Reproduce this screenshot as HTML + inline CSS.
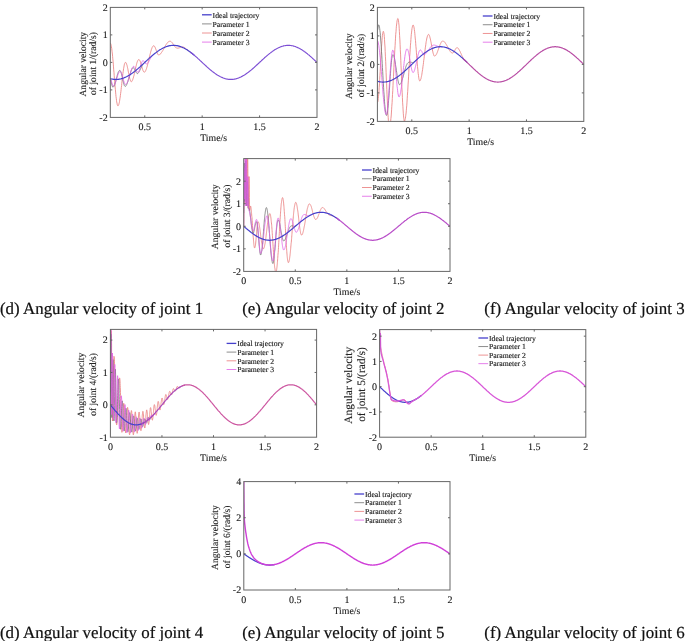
<!DOCTYPE html>
<html><head><meta charset="utf-8"><style>
html,body{margin:0;padding:0;background:#fff;width:685px;height:641px;overflow:hidden;}
svg{display:block;font-family:'Liberation Serif', serif;filter:blur(0.35px);text-rendering:geometricPrecision;}
</style></head><body>
<svg width="685" height="641" viewBox="0 0 685 641">
<clipPath id="c0"><rect x="110.3" y="7.4" width="206.70" height="110.00"/></clipPath>
<g clip-path="url(#c0)" fill="none" stroke-linejoin="round" stroke-linecap="round">
<polyline points="110.3,43.2 110.5,43.4 110.8,43.8 111.0,44.6 111.2,45.5 111.4,46.8 111.7,48.3 111.9,50.0 112.1,51.9 112.4,54.0 112.6,56.3 112.8,58.8 113.1,61.4 113.3,64.1 113.5,66.9 113.7,69.8 114.0,72.7 114.2,75.6 114.4,78.5 114.7,81.4 114.9,84.2 115.1,87.0 115.4,89.6 115.6,92.1 115.8,94.4 116.0,96.6 116.3,98.6 116.5,100.4 116.7,101.9 117.0,103.2 117.2,104.3 117.4,105.1 117.6,105.6 117.9,105.8 118.1,105.8 118.3,105.6 118.6,105.2 118.8,104.5 119.0,103.7 119.3,102.7 119.5,101.6 119.7,100.2 119.9,98.8 120.2,97.1 120.4,95.4 120.6,93.6 120.9,91.6 121.1,89.6 121.3,87.6 121.6,85.5 121.8,83.4 122.0,81.3 122.2,79.3 122.5,77.2 122.7,75.3 122.9,73.4 123.2,71.6 123.4,70.0 123.6,68.5 123.9,67.1 124.1,65.9 124.3,64.8 124.5,64.0 124.8,63.3 125.0,62.8 125.2,62.5 125.5,62.4 125.7,62.4 125.9,62.6 126.1,63.0 126.4,63.4 126.6,64.1 126.8,64.8 127.1,65.6 127.3,66.6 127.5,67.6 127.8,68.7 128.0,69.8 128.2,71.0 128.4,72.2 128.7,73.4 128.9,74.6 129.1,75.7 129.4,76.8 129.6,77.8 129.8,78.7 130.1,79.5 130.3,80.2 130.5,80.8 130.7,81.3 131.0,81.6 131.2,81.7 131.4,81.7 131.7,81.6 131.9,81.3 132.1,81.0 132.3,80.5 132.6,80.0 132.8,79.4 133.0,78.7 133.3,78.0 133.5,77.2 133.7,76.3 134.0,75.4 134.2,74.4 134.4,73.4 134.6,72.4 134.9,71.3 135.1,70.3 135.3,69.2 135.6,68.2 135.8,67.2 136.0,66.2 136.3,65.3 136.5,64.4 136.7,63.6 136.9,62.8 137.2,62.1 137.4,61.4 137.6,60.9 137.9,60.4 138.1,60.1 138.3,59.8 138.5,59.6 138.8,59.5 139.0,59.5 139.2,59.7 139.5,59.9 139.7,60.3 139.9,60.7 140.2,61.2 140.4,61.9 140.6,62.5 140.8,63.3 141.1,64.0 141.3,64.9 141.5,65.7 141.8,66.5 142.0,67.3 142.2,68.1 142.5,68.9 142.7,69.6 142.9,70.2 143.1,70.8 143.4,71.3 143.6,71.7 143.8,72.0 144.1,72.1 144.3,72.2 144.5,72.2 144.8,72.0 145.0,71.8 145.2,71.5 145.4,71.1 145.7,70.6 145.9,70.1 146.1,69.6 146.4,68.9 146.6,68.3 146.8,67.5 147.0,66.8 147.3,65.9 147.5,65.1 147.7,64.2 148.0,63.2 148.2,62.3 148.4,61.3 148.7,60.3 148.9,59.4 149.1,58.4 149.3,57.4 149.6,56.4 149.8,55.4 150.0,54.5 150.3,53.6 150.5,52.7 150.7,51.8 151.0,51.0 151.2,50.2 151.4,49.5 151.6,48.9 151.9,48.2 152.1,47.7 152.3,47.2 152.6,46.8 152.8,46.4 153.0,46.1 153.2,45.9 153.5,45.8 153.7,45.7 153.9,45.8 154.2,45.9 154.4,46.2 154.6,46.5 154.9,46.9 155.1,47.3 155.3,47.9 155.5,48.4 155.8,49.0 156.0,49.7 156.2,50.3 156.5,50.9 156.7,51.6 156.9,52.2 157.2,52.8 157.4,53.3 157.6,53.8 157.8,54.2 158.1,54.6 158.3,54.8 158.5,55.0 158.8,55.1 159.0,55.1 159.2,55.0 159.4,54.8 159.7,54.6 159.9,54.4 160.1,54.2 160.4,54.0 160.6,53.7 160.8,53.4 161.1,53.2 161.3,52.8 161.5,52.5 161.7,52.2 162.0,51.8 162.2,51.5 162.4,51.1 162.7,50.7 162.9,50.3 163.1,49.9 163.4,49.5 163.6,49.1 163.8,48.6 164.0,48.2 164.3,47.8 164.5,47.4 164.7,47.0 165.0,46.6 165.2,46.2 165.4,45.8 165.6,45.4 165.9,45.0 166.1,44.6 166.3,44.3 166.6,43.9 166.8,43.6 167.0,43.3 167.3,43.0 167.5,42.7 167.7,42.5 167.9,42.2 168.2,42.0 168.4,41.8 168.6,41.7 168.9,41.5 169.1,41.4 169.3,41.3 169.6,41.3 169.8,41.2 170.0,41.2 170.2,41.2 170.5,41.3 170.7,41.4 170.9,41.5 171.2,41.7 171.4,41.9 171.6,42.1 171.9,42.4 172.1,42.6 172.3,42.9 172.5,43.2 172.8,43.6 173.0,43.9 173.2,44.2 173.5,44.6 173.7,44.9 173.9,45.3 174.1,45.6 174.4,45.9 174.6,46.2 174.8,46.5 175.1,46.8 175.3,47.1 175.5,47.3 175.8,47.5 176.0,47.7 176.2,47.8 176.4,48.0 176.7,48.0 176.9,48.1 177.1,48.1 177.4,48.2 177.6,48.2 177.8,48.1 178.1,48.1 178.3,48.1 178.5,48.0 178.7,48.0 179.0,47.9 179.2,47.8 179.4,47.8 179.7,47.7 179.9,47.6 180.1,47.5 180.3,47.4 180.6,47.3 180.8,47.2 181.0,47.2 181.3,47.1 181.5,47.0 181.7,47.0 182.0,47.0 182.2,46.9 182.4,46.9 182.6,46.9 182.9,47.0 183.1,47.0 183.3,47.1 183.6,47.2 183.8,47.3 184.0,47.4 184.3,47.5 184.5,47.7 184.7,47.8 184.9,47.9 185.2,48.1 185.4,48.3 185.6,48.4 185.9,48.6 186.1,48.8 186.3,49.0 186.5,49.2 186.8,49.3 187.0,49.5 187.2,49.7 187.5,49.9 187.7,50.1 187.9,50.3 188.2,50.5 188.4,50.7 188.6,50.8 188.8,51.0 189.1,51.2 189.3,51.4 189.5,51.5 189.8,51.7 190.0,51.9 190.2,52.0 190.5,52.2 190.7,52.4" stroke="#e87878" stroke-width="0.8"/>
<polyline points="110.3,79.5 110.5,79.7 110.8,80.1 111.0,80.9 111.2,81.8 111.4,82.8 111.7,83.9 111.9,84.9 112.1,85.8 112.4,86.5 112.6,87.0 112.8,87.2 113.1,87.1 113.3,87.0 113.5,86.8 113.7,86.6 114.0,86.2 114.2,85.7 114.4,85.2 114.7,84.6 114.9,83.9 115.1,83.2 115.4,82.4 115.6,81.6 115.8,80.8 116.0,79.9 116.3,79.1 116.5,78.2 116.7,77.3 117.0,76.5 117.2,75.6 117.4,74.8 117.6,74.1 117.9,73.4 118.1,72.8 118.3,72.2 118.6,71.7 118.8,71.2 119.0,70.9 119.3,70.6 119.5,70.5 119.7,70.4 119.9,70.4 120.2,70.6 120.4,70.9 120.6,71.3 120.9,71.9 121.1,72.6 121.3,73.4 121.6,74.2 121.8,75.2 122.0,76.2 122.2,77.2 122.5,78.3 122.7,79.3 122.9,80.4 123.2,81.4 123.4,82.4 123.6,83.2 123.9,84.0 124.1,84.7 124.3,85.3 124.5,85.8 124.8,86.1 125.0,86.3 125.2,86.4 125.5,86.3 125.7,86.1 125.9,85.9 126.1,85.6 126.4,85.2 126.6,84.8 126.8,84.3 127.1,83.7 127.3,83.1 127.5,82.5 127.8,81.8 128.0,81.1 128.2,80.4 128.4,79.6 128.7,78.8 128.9,78.0 129.1,77.2 129.4,76.4 129.6,75.6 129.8,74.8 130.1,74.0 130.3,73.2 130.5,72.5 130.7,71.8 131.0,71.2 131.2,70.6 131.4,70.0 131.7,69.5 131.9,69.1 132.1,68.7 132.3,68.4 132.6,68.1 132.8,67.9 133.0,67.8 133.3,67.8 133.5,67.8 133.7,68.0 134.0,68.2 134.2,68.5 134.4,68.9 134.6,69.3 134.9,69.7 135.1,70.2 135.3,70.7 135.6,71.2 135.8,71.7 136.0,72.2 136.3,72.6 136.5,72.9 136.7,73.2 136.9,73.4 137.2,73.6 137.4,73.6 137.6,73.5 137.9,73.4 138.1,73.2 138.3,72.9 138.5,72.6 138.8,72.3 139.0,71.9 139.2,71.5 139.5,71.1 139.7,70.7 139.9,70.2 140.2,69.7 140.4,69.2 140.6,68.7 140.8,68.2 141.1,67.7 141.3,67.2 141.5,66.7 141.8,66.3 142.0,65.8 142.2,65.4 142.5,65.0 142.7,64.6 142.9,64.3 143.1,64.0 143.4,63.7 143.6,63.5 143.8,63.3 144.1,63.0 144.3,62.8 144.5,62.6 144.8,62.4" stroke="#707070" stroke-width="0.8"/>
<polyline points="110.3,78.9 110.5,79.1 110.8,79.4 111.0,79.9 111.2,80.6 111.4,81.4 111.7,82.2 111.9,83.0 112.1,83.8 112.4,84.5 112.6,85.1 112.8,85.5 113.1,85.7 113.3,85.8 113.5,85.7 113.7,85.6 114.0,85.4 114.2,85.1 114.4,84.8 114.7,84.4 114.9,83.9 115.1,83.4 115.4,82.8 115.6,82.1 115.8,81.5 116.0,80.8 116.3,80.0 116.5,79.3 116.7,78.6 117.0,77.8 117.2,77.1 117.4,76.4 117.6,75.7 117.9,75.0 118.1,74.4 118.3,73.8 118.6,73.3 118.8,72.8 119.0,72.4 119.3,72.1 119.5,71.8 119.7,71.6 119.9,71.5 120.2,71.5 120.4,71.5 120.6,71.7 120.9,72.0 121.1,72.4 121.3,72.9 121.6,73.5 121.8,74.1 122.0,74.8 122.2,75.6 122.5,76.4 122.7,77.3 122.9,78.1 123.2,79.0 123.4,79.8 123.6,80.6 123.9,81.4 124.1,82.1 124.3,82.7 124.5,83.3 124.8,83.7 125.0,84.1 125.2,84.3 125.5,84.4 125.7,84.4 125.9,84.3 126.1,84.2 126.4,83.9 126.6,83.6 126.8,83.3 127.1,82.9 127.3,82.4 127.5,81.9 127.8,81.3 128.0,80.7 128.2,80.0 128.4,79.3 128.7,78.6 128.9,77.9 129.1,77.1 129.4,76.3 129.6,75.5 129.8,74.7 130.1,74.0 130.3,73.2 130.5,72.5 130.7,71.7 131.0,71.0 131.2,70.4 131.4,69.7 131.7,69.2 131.9,68.6 132.1,68.1 132.3,67.7 132.6,67.3 132.8,67.0 133.0,66.7 133.3,66.5 133.5,66.4 133.7,66.4 134.0,66.4 134.2,66.6 134.4,66.8 134.6,67.1 134.9,67.4 135.1,67.8 135.3,68.3 135.6,68.7 135.8,69.2 136.0,69.7 136.3,70.2 136.5,70.7 136.7,71.1 136.9,71.4 137.2,71.8 137.4,72.0 137.6,72.2 137.9,72.2 138.1,72.2 138.3,72.1 138.5,71.9 138.8,71.6 139.0,71.2 139.2,70.6 139.5,70.0 139.7,69.3 139.9,68.5 140.2,67.6 140.4,66.8 140.6,65.9 140.8,65.0 141.1,64.2 141.3,63.5 141.5,62.8 141.8,62.2 142.0,61.7 142.2,61.3 142.5,61.0 142.7,60.9 142.9,60.8 143.1,60.8 143.4,60.8 143.6,61.0 143.8,61.2 144.1,61.4 144.3,61.7 144.5,62.1 144.8,62.4 145.0,62.7 145.2,63.1 145.4,63.4 145.7,63.6 145.9,63.8 146.1,64.0 146.4,64.0 146.6,64.0 146.8,63.9 147.0,63.8 147.3,63.5 147.5,63.3 147.7,63.0 148.0,62.7 148.2,62.4 148.4,62.0 148.7,61.7 148.9,61.3 149.1,60.9 149.3,60.5 149.6,60.0 149.8,59.6 150.0,59.2 150.3,58.8 150.5,58.3 150.7,57.9 151.0,57.5 151.2,57.2 151.4,56.8 151.6,56.5 151.9,56.1 152.1,55.9 152.3,55.6 152.6,55.3 152.8,55.1 153.0,54.9 153.2,54.8 153.5,54.6 153.7,54.4 153.9,54.2" stroke="#e060e6" stroke-width="0.8"/>
<polyline points="110.3,78.6 110.8,78.7 111.2,78.9 111.7,79.0 112.1,79.1 112.6,79.1 113.1,79.2 113.5,79.3 114.0,79.3 114.4,79.4 114.9,79.4 115.4,79.4 115.8,79.4 116.3,79.4 116.7,79.4 117.2,79.4 117.6,79.4 118.1,79.3 118.6,79.3 119.0,79.2 119.5,79.1 119.9,79.1 120.4,79.0 120.9,78.9 121.3,78.7 121.8,78.6 122.2,78.5 122.7,78.3 123.2,78.2 123.6,78.0 124.1,77.8 124.5,77.6 125.0,77.4 125.5,77.2 125.9,77.0 126.4,76.8 126.8,76.6 127.3,76.3 127.8,76.1 128.2,75.8 128.7,75.5 129.1,75.3 129.6,75.0 130.1,74.7 130.5,74.4 131.0,74.1 131.4,73.8 131.9,73.4 132.3,73.1 132.8,72.8 133.3,72.4 133.7,72.1 134.2,71.7 134.6,71.4 135.1,71.0 135.6,70.6 136.0,70.2 136.5,69.9 136.9,69.5 137.4,69.1 137.9,68.7 138.3,68.3 138.8,67.9 139.2,67.5 139.7,67.1 140.2,66.6 140.6,66.2 141.1,65.8 141.5,65.4 142.0,65.0 142.5,64.5 142.9,64.1 143.4,63.7 143.8,63.3 144.3,62.8 144.8,62.4 145.2,62.0 145.7,61.5 146.1,61.1 146.6,60.7 147.0,60.3 147.5,59.8 148.0,59.4 148.4,59.0 148.9,58.6 149.3,58.2 149.8,57.7 150.3,57.3 150.7,56.9 151.2,56.5 151.6,56.1 152.1,55.7 152.6,55.3 153.0,54.9 153.5,54.6 153.9,54.2 154.4,53.8 154.9,53.4 155.3,53.1 155.8,52.7 156.2,52.4 156.7,52.0 157.2,51.7 157.6,51.4 158.1,51.0 158.5,50.7 159.0,50.4 159.4,50.1 159.9,49.8 160.4,49.5 160.8,49.3 161.3,49.0 161.7,48.7 162.2,48.5 162.7,48.2 163.1,48.0 163.6,47.8 164.0,47.6 164.5,47.4 165.0,47.2 165.4,47.0 165.9,46.8 166.3,46.6 166.8,46.5 167.3,46.3 167.7,46.2 168.2,46.1 168.6,45.9 169.1,45.8 169.6,45.7 170.0,45.7 170.5,45.6 170.9,45.5 171.4,45.5 171.9,45.4 172.3,45.4 172.8,45.4 173.2,45.4 173.7,45.4 174.1,45.4 174.6,45.4 175.1,45.4 175.5,45.5 176.0,45.5 176.4,45.6 176.9,45.7 177.4,45.7 177.8,45.8 178.3,45.9 178.7,46.1 179.2,46.2 179.7,46.3 180.1,46.5 180.6,46.6 181.0,46.8 181.5,47.0 182.0,47.2 182.4,47.4 182.9,47.6 183.3,47.8 183.8,48.0 184.3,48.2 184.7,48.5 185.2,48.7 185.6,49.0 186.1,49.3 186.5,49.5 187.0,49.8 187.5,50.1 187.9,50.4 188.4,50.7 188.8,51.0 189.3,51.4 189.8,51.7 190.2,52.0 190.7,52.4 191.1,52.7 191.6,53.1 192.1,53.4 192.5,53.8 193.0,54.2 193.4,54.6 193.9,54.9" stroke="#4640cc" stroke-width="1.2"/>
<polyline points="190.7,52.4 191.1,52.7 191.6,53.1 192.1,53.4 192.5,53.8 193.0,54.2 193.4,54.6 193.9,54.9 194.4,55.3 194.8,55.7 195.3,56.1 195.7,56.5 196.2,56.9 196.7,57.3 197.1,57.7 197.6,58.2 198.0,58.6 198.5,59.0 199.0,59.4 199.4,59.8 199.9,60.3 200.3,60.7 200.8,61.1 201.2,61.5 201.7,62.0 202.2,62.4 202.6,62.8 203.1,63.3 203.5,63.7 204.0,64.1 204.5,64.5 204.9,65.0 205.4,65.4 205.8,65.8 206.3,66.2 206.8,66.6 207.2,67.1 207.7,67.5 208.1,67.9 208.6,68.3 209.1,68.7 209.5,69.1 210.0,69.5 210.4,69.9 210.9,70.2 211.4,70.6 211.8,71.0 212.3,71.4 212.7,71.7 213.2,72.1 213.7,72.4 214.1,72.8 214.6,73.1 215.0,73.4 215.5,73.8 215.9,74.1 216.4,74.4 216.9,74.7 217.3,75.0 217.8,75.3 218.2,75.5 218.7,75.8 219.2,76.1 219.6,76.3 220.1,76.6 220.5,76.8 221.0,77.0 221.5,77.2 221.9,77.4 222.4,77.6 222.8,77.8 223.3,78.0 223.8,78.2 224.2,78.3 224.7,78.5 225.1,78.6 225.6,78.7 226.1,78.9 226.5,79.0 227.0,79.1 227.4,79.1 227.9,79.2 228.3,79.3 228.8,79.3 229.3,79.4 229.7,79.4 230.2,79.4 230.6,79.4 231.1,79.4 231.6,79.4 232.0,79.4 232.5,79.4 232.9,79.3 233.4,79.3 233.9,79.2 234.3,79.1 234.8,79.1 235.2,79.0 235.7,78.9 236.2,78.7 236.6,78.6 237.1,78.5 237.5,78.3 238.0,78.2 238.5,78.0 238.9,77.8 239.4,77.6 239.8,77.4 240.3,77.2 240.8,77.0 241.2,76.8 241.7,76.6 242.1,76.3 242.6,76.1 243.0,75.8 243.5,75.5 244.0,75.3 244.4,75.0 244.9,74.7 245.3,74.4 245.8,74.1 246.3,73.8 246.7,73.4 247.2,73.1 247.6,72.8 248.1,72.4 248.6,72.1 249.0,71.7 249.5,71.4 249.9,71.0 250.4,70.6 250.9,70.2 251.3,69.9 251.8,69.5 252.2,69.1 252.7,68.7 253.2,68.3 253.6,67.9 254.1,67.5 254.5,67.1 255.0,66.6 255.4,66.2 255.9,65.8 256.4,65.4 256.8,65.0 257.3,64.5 257.7,64.1 258.2,63.7 258.7,63.3 259.1,62.8 259.6,62.4 260.0,62.0 260.5,61.5 261.0,61.1 261.4,60.7 261.9,60.3 262.3,59.8 262.8,59.4 263.3,59.0 263.7,58.6 264.2,58.2 264.6,57.7 265.1,57.3 265.6,56.9 266.0,56.5 266.5,56.1 266.9,55.7 267.4,55.3 267.9,54.9 268.3,54.6 268.8,54.2 269.2,53.8 269.7,53.4 270.1,53.1 270.6,52.7 271.1,52.4 271.5,52.0 272.0,51.7 272.4,51.4 272.9,51.0 273.4,50.7 273.8,50.4 274.3,50.1 274.7,49.8 275.2,49.5 275.7,49.3 276.1,49.0 276.6,48.7 277.0,48.5 277.5,48.2 278.0,48.0 278.4,47.8 278.9,47.6 279.3,47.4 279.8,47.2 280.3,47.0 280.7,46.8 281.2,46.6 281.6,46.5 282.1,46.3 282.6,46.2 283.0,46.1 283.5,45.9 283.9,45.8 284.4,45.7 284.8,45.7 285.3,45.6 285.8,45.5 286.2,45.5 286.7,45.4 287.1,45.4 287.6,45.4 288.1,45.4 288.5,45.4 289.0,45.4 289.4,45.4 289.9,45.4 290.4,45.5 290.8,45.5 291.3,45.6 291.7,45.7 292.2,45.7 292.7,45.8 293.1,45.9 293.6,46.1 294.0,46.2 294.5,46.3 295.0,46.5 295.4,46.6 295.9,46.8 296.3,47.0 296.8,47.2 297.2,47.4 297.7,47.6 298.2,47.8 298.6,48.0 299.1,48.2 299.5,48.5 300.0,48.7 300.5,49.0 300.9,49.3 301.4,49.5 301.8,49.8 302.3,50.1 302.8,50.4 303.2,50.7 303.7,51.0 304.1,51.4 304.6,51.7 305.1,52.0 305.5,52.4 306.0,52.7 306.4,53.1 306.9,53.4 307.4,53.8 307.8,54.2 308.3,54.6 308.7,54.9 309.2,55.3 309.7,55.7 310.1,56.1 310.6,56.5 311.0,56.9 311.5,57.3 311.9,57.7 312.4,58.2 312.9,58.6 313.3,59.0 313.8,59.4 314.2,59.8 314.7,60.3 315.2,60.7 315.6,61.1 316.1,61.5 316.5,62.0 317.0,62.4" stroke="#7c4ed4" stroke-width="1.15"/>
</g>
<rect x="110.3" y="7.4" width="206.70" height="110.00" fill="none" stroke="#666666" stroke-width="1"/>
<path d="M144.75,117.4v-2.0M144.75,7.4v2.0M202.17,117.4v-2.0M202.17,7.4v2.0M259.58,117.4v-2.0M259.58,7.4v2.0M110.3,89.90h2.0M317,89.90h-2.0M110.3,62.40h2.0M317,62.40h-2.0M110.3,34.90h2.0M317,34.90h-2.0" stroke="#666666" stroke-width="1" fill="none"/>
<g font-family="'Liberation Serif', serif" font-size="10" fill="#222222" stroke="#222222" stroke-width="0.12">
<text x="144.75" y="130.00" text-anchor="middle">0.5</text>
<text x="202.17" y="130.00" text-anchor="middle">1</text>
<text x="259.58" y="130.00" text-anchor="middle">1.5</text>
<text x="317.00" y="130.00" text-anchor="middle">2</text>
<text x="107.70" y="120.80" text-anchor="end">-2</text>
<text x="107.70" y="93.30" text-anchor="end">-1</text>
<text x="107.70" y="65.80" text-anchor="end">0</text>
<text x="107.70" y="38.30" text-anchor="end">1</text>
<text x="107.70" y="10.80" text-anchor="end">2</text>
<text x="213.65" y="141.00" text-anchor="middle" font-size="9.8">Time/s</text>
<text transform="translate(85.50,64.20) rotate(-90)" text-anchor="middle" font-size="9.6">Angular velocity</text>
<text transform="translate(96.10,63.50) rotate(-90)" text-anchor="middle" font-size="9.6">of joint 1/(rad/s)</text>
</g>
<g font-family="'Liberation Serif', serif" font-size="7.7" fill="#222222">
<line x1="202" y1="14.80" x2="211.70" y2="14.80" stroke="#4640cc" stroke-width="1.3"/>
<text x="212.60" y="17.50" stroke="#222222" stroke-width="0.15">Ideal trajectory</text>
<line x1="202" y1="23.90" x2="211.70" y2="23.90" stroke="#707070" stroke-width="0.8"/>
<text x="212.60" y="26.60" stroke="#222222" stroke-width="0.15">Parameter 1</text>
<line x1="202" y1="33.00" x2="211.70" y2="33.00" stroke="#e87878" stroke-width="0.8"/>
<text x="212.60" y="35.70" stroke="#222222" stroke-width="0.15">Parameter 2</text>
<line x1="202" y1="42.10" x2="211.70" y2="42.10" stroke="#e060e6" stroke-width="0.8"/>
<text x="212.60" y="44.80" stroke="#222222" stroke-width="0.15">Parameter 3</text>
</g>
<clipPath id="c1"><rect x="377.4" y="7.4" width="206.40" height="114.00"/></clipPath>
<g clip-path="url(#c1)" fill="none" stroke-linejoin="round" stroke-linecap="round">
<polyline points="377.4,102.3 377.6,102.1 377.9,101.4 378.1,100.2 378.3,98.4 378.5,96.3 378.8,93.6 379.0,90.6 379.2,87.3 379.5,83.6 379.7,79.7 379.9,75.6 380.2,71.3 380.4,67.1 380.6,62.8 380.8,58.5 381.1,54.4 381.3,50.5 381.5,46.8 381.8,43.4 382.0,40.3 382.2,37.7 382.4,35.4 382.7,33.7 382.9,32.4 383.1,31.6 383.4,31.3 383.6,31.7 383.8,32.7 384.1,34.3 384.3,36.6 384.5,39.5 384.7,43.0 385.0,47.0 385.2,51.4 385.4,56.2 385.7,61.4 385.9,66.8 386.1,72.4 386.3,78.0 386.6,83.7 386.8,89.4 387.0,94.8 387.3,100.1 387.5,105.1 387.7,109.7 387.9,113.9 388.2,117.5 388.4,120.7 388.6,123.2 388.9,125.2 389.1,126.4 389.3,127.1 389.6,127.0 389.8,126.6 390.0,125.7 390.2,124.5 390.5,122.9 390.7,120.9 390.9,118.6 391.2,116.0 391.4,113.0 391.6,109.8 391.8,106.3 392.1,102.6 392.3,98.6 392.5,94.5 392.8,90.2 393.0,85.7 393.2,81.2 393.5,76.6 393.7,72.0 393.9,67.4 394.1,62.9 394.4,58.4 394.6,54.0 394.8,49.8 395.1,45.7 395.3,41.8 395.5,38.2 395.7,34.7 396.0,31.6 396.2,28.8 396.4,26.2 396.7,24.0 396.9,22.2 397.1,20.7 397.4,19.6 397.6,18.9 397.8,18.5 398.0,18.7 398.3,19.4 398.5,20.8 398.7,22.7 399.0,25.2 399.2,28.2 399.4,31.7 399.6,35.6 399.9,40.0 400.1,44.7 400.3,49.7 400.6,54.9 400.8,60.3 401.0,65.8 401.3,71.4 401.5,76.9 401.7,82.4 401.9,87.7 402.2,92.8 402.4,97.6 402.6,102.2 402.9,106.3 403.1,110.0 403.3,113.2 403.5,115.9 403.8,118.1 404.0,119.7 404.2,120.7 404.5,121.1 404.7,121.0 404.9,120.4 405.1,119.6 405.4,118.4 405.6,116.9 405.8,115.1 406.1,113.0 406.3,110.7 406.5,108.1 406.8,105.2 407.0,102.1 407.2,98.8 407.4,95.3 407.7,91.7 407.9,88.0 408.1,84.1 408.4,80.2 408.6,76.2 408.8,72.2 409.0,68.2 409.3,64.2 409.5,60.3 409.7,56.5 410.0,52.8 410.2,49.2 410.4,45.8 410.7,42.6 410.9,39.6 411.1,36.9 411.3,34.4 411.6,32.1 411.8,30.2 412.0,28.5 412.3,27.2 412.5,26.2 412.7,25.5 412.9,25.1 413.2,25.0 413.4,25.3 413.6,25.9 413.9,26.8 414.1,28.0 414.3,29.5 414.6,31.3 414.8,33.3 415.0,35.6 415.2,38.0 415.5,40.6 415.7,43.4 415.9,46.2 416.2,49.2 416.4,52.2 416.6,55.2 416.8,58.1 417.1,61.0 417.3,63.9 417.5,66.6 417.8,69.1 418.0,71.5 418.2,73.6 418.5,75.5 418.7,77.2 418.9,78.6 419.1,79.6 419.4,80.4 419.6,80.9 419.8,81.0 420.1,80.8 420.3,80.5 420.5,80.0 420.7,79.3 421.0,78.6 421.2,77.6 421.4,76.6 421.7,75.4 421.9,74.1 422.1,72.7 422.3,71.2 422.6,69.6 422.8,68.0 423.0,66.2 423.3,64.4 423.5,62.6 423.7,60.7 424.0,58.8 424.2,56.9 424.4,55.0 424.6,53.2 424.9,51.3 425.1,49.5 425.3,47.8 425.6,46.1 425.8,44.5 426.0,42.9 426.2,41.5 426.5,40.2 426.7,39.0 426.9,38.0 427.2,37.0 427.4,36.2 427.6,35.6 427.9,35.1 428.1,34.7 428.3,34.5 428.5,34.4 428.8,34.5 429.0,34.8 429.2,35.2 429.5,35.7 429.7,36.4 429.9,37.2 430.1,38.1 430.4,39.1 430.6,40.2 430.8,41.3 431.1,42.5 431.3,43.8 431.5,45.1 431.8,46.3 432.0,47.6 432.2,48.8 432.4,50.0 432.7,51.1 432.9,52.1 433.1,53.1 433.4,53.9 433.6,54.6 433.8,55.2 434.0,55.7 434.3,56.0 434.5,56.1 434.7,56.1 435.0,56.0 435.2,55.9 435.4,55.7 435.7,55.4 435.9,55.1 436.1,54.8 436.3,54.4 436.6,53.9 436.8,53.5 437.0,52.9 437.3,52.4 437.5,51.8 437.7,51.2 437.9,50.6 438.2,49.9 438.4,49.3 438.6,48.6 438.9,48.0 439.1,47.3 439.3,46.7 439.5,46.1 439.8,45.4 440.0,44.9 440.2,44.3 440.5,43.8 440.7,43.3 440.9,42.8 441.2,42.4 441.4,42.1 441.6,41.7 441.8,41.5 442.1,41.3 442.3,41.1 442.5,41.1 442.8,41.0 443.0,41.0 443.2,41.1 443.4,41.2 443.7,41.3 443.9,41.5 444.1,41.6 444.4,41.8 444.6,42.1 444.8,42.3 445.1,42.6 445.3,42.9 445.5,43.3 445.7,43.6 446.0,44.0 446.2,44.3 446.4,44.7 446.7,45.1 446.9,45.6 447.1,46.0 447.3,46.4 447.6,46.8 447.8,47.3 448.0,47.7 448.3,48.1 448.5,48.5 448.7,49.0 449.0,49.4 449.2,49.8 449.4,50.1 449.6,50.5 449.9,50.8 450.1,51.2 450.3,51.5 450.6,51.8 450.8,52.0 451.0,52.3 451.2,52.5 451.5,52.7 451.7,52.9 451.9,53.0 452.2,53.1 452.4,53.1 452.6,53.1 452.9,53.0 453.1,52.8 453.3,52.6 453.5,52.3 453.8,52.0 454.0,51.7 454.2,51.3 454.5,50.9 454.7,50.5 454.9,50.1 455.1,49.7 455.4,49.3 455.6,48.9 455.8,48.6 456.1,48.3 456.3,48.0 456.5,47.9 456.7,47.7 457.0,47.7 457.2,47.7 457.4,47.7 457.7,47.9 457.9,48.1 458.1,48.3 458.4,48.6 458.6,48.9 458.8,49.2 459.0,49.6 459.3,50.0 459.5,50.4 459.7,50.8 460.0,51.3 460.2,51.8 460.4,52.3 460.6,52.8 460.9,53.3 461.1,53.8 461.3,54.3 461.6,54.8 461.8,55.4 462.0,55.9 462.3,56.4 462.5,56.8 462.7,57.3 462.9,57.7 463.2,58.1 463.4,58.5 463.6,58.9 463.9,59.2 464.1,59.5 464.3,59.8 464.5,60.0 464.8,60.2 465.0,60.4 465.2,60.7 465.5,60.9 465.7,61.1" stroke="#e87878" stroke-width="0.8"/>
<polyline points="377.4,30.2 377.6,29.8 377.9,28.7 378.1,27.1 378.3,25.7 378.5,24.9 378.8,24.9 379.0,25.3 379.2,26.1 379.5,27.2 379.7,28.7 379.9,30.6 380.2,32.8 380.4,35.3 380.6,38.0 380.8,41.1 381.1,44.3 381.3,47.8 381.5,51.5 381.8,55.3 382.0,59.3 382.2,63.3 382.4,67.4 382.7,71.5 382.9,75.7 383.1,79.7 383.4,83.7 383.6,87.6 383.8,91.3 384.1,94.9 384.3,98.2 384.5,101.3 384.7,104.2 385.0,106.8 385.2,109.0 385.4,111.0 385.7,112.6 385.9,113.9 386.1,114.7 386.3,115.3 386.6,115.4 386.8,115.2 387.0,114.5 387.3,113.5 387.5,112.1 387.7,110.4 387.9,108.3 388.2,105.9 388.4,103.2 388.6,100.3 388.9,97.2 389.1,93.9 389.3,90.5 389.6,87.0 389.8,83.6 390.0,80.1 390.2,76.7 390.5,73.4 390.7,70.3 390.9,67.3 391.2,64.6 391.4,62.2 391.6,60.1 391.8,58.3 392.1,56.8 392.3,55.7 392.5,55.0 392.8,54.7 393.0,54.7 393.2,54.8 393.5,55.2 393.7,55.6 393.9,56.3 394.1,57.1 394.4,58.0 394.6,59.1 394.8,60.3 395.1,61.6 395.3,63.0 395.5,64.4 395.7,66.0 396.0,67.5 396.2,69.1 396.4,70.7 396.7,72.3 396.9,73.9 397.1,75.4 397.4,76.8 397.6,78.2 397.8,79.5 398.0,80.6 398.3,81.7 398.5,82.6 398.7,83.3 399.0,83.9 399.2,84.4 399.4,84.6 399.6,84.7 399.9,84.6 400.1,84.4 400.3,84.2 400.6,83.8 400.8,83.4 401.0,83.0 401.3,82.5 401.5,81.9 401.7,81.3 401.9,80.6 402.2,79.9 402.4,79.2 402.6,78.4 402.9,77.6 403.1,76.8 403.3,75.9 403.5,75.1 403.8,74.2 404.0,73.3 404.2,72.5 404.5,71.6 404.7,70.7 404.9,69.9 405.1,69.1 405.4,68.3 405.6,67.6 405.8,66.9 406.1,66.2 406.3,65.6 406.5,65.1 406.8,64.6 407.0,64.1 407.2,63.7 407.4,63.4 407.7,63.1 407.9,62.9 408.1,62.7 408.4,62.5 408.6,62.4 408.8,62.3 409.0,62.2 409.3,62.1 409.5,62.1 409.7,62.1 410.0,62.1 410.2,62.1 410.4,62.1 410.7,62.2 410.9,62.2 411.1,62.3 411.3,62.3 411.6,62.4 411.8,62.4 412.0,62.5 412.3,62.5 412.5,62.5 412.7,62.5 412.9,62.5 413.2,62.5 413.4,62.4 413.6,62.3 413.9,62.2 414.1,62.1 414.3,61.9 414.6,61.7 414.8,61.5 415.0,61.3 415.2,61.1 415.5,60.9 415.7,60.7 415.9,60.4" stroke="#707070" stroke-width="0.8"/>
<polyline points="377.4,40.7 377.6,40.9 377.9,41.4 378.1,42.0 378.3,42.9 378.5,44.1 378.8,45.4 379.0,47.0 379.2,48.7 379.5,50.7 379.7,52.8 379.9,55.1 380.2,57.6 380.4,60.1 380.6,62.8 380.8,65.6 381.1,68.5 381.3,71.4 381.5,74.4 381.8,77.4 382.0,80.4 382.2,83.4 382.4,86.3 382.7,89.2 382.9,92.0 383.1,94.8 383.4,97.4 383.6,99.8 383.8,102.2 384.1,104.3 384.3,106.3 384.5,108.1 384.7,109.7 385.0,111.1 385.2,112.3 385.4,113.2 385.7,113.9 385.9,114.3 386.1,114.5 386.3,114.5 386.6,114.1 386.8,113.3 387.0,112.1 387.3,110.6 387.5,108.8 387.7,106.6 387.9,104.2 388.2,101.4 388.4,98.5 388.6,95.4 388.9,92.1 389.1,88.7 389.3,85.2 389.6,81.7 389.8,78.2 390.0,74.8 390.2,71.4 390.5,68.2 390.7,65.2 390.9,62.3 391.2,59.7 391.4,57.3 391.6,55.3 391.8,53.6 392.1,52.2 392.3,51.1 392.5,50.4 392.8,50.2 393.0,50.2 393.2,50.6 393.5,51.2 393.7,52.2 393.9,53.4 394.1,55.0 394.4,56.7 394.6,58.7 394.8,60.9 395.1,63.3 395.3,65.8 395.5,68.4 395.7,71.0 396.0,73.7 396.2,76.4 396.4,79.1 396.7,81.7 396.9,84.1 397.1,86.5 397.4,88.6 397.6,90.6 397.8,92.3 398.0,93.8 398.3,95.0 398.5,96.0 398.7,96.6 399.0,96.9 399.2,96.9 399.4,96.6 399.6,96.2 399.9,95.5 400.1,94.7 400.3,93.7 400.6,92.5 400.8,91.2 401.0,89.7 401.3,88.1 401.5,86.4 401.7,84.5 401.9,82.6 402.2,80.6 402.4,78.5 402.6,76.4 402.9,74.2 403.1,72.0 403.3,69.9 403.5,67.7 403.8,65.7 404.0,63.6 404.2,61.7 404.5,59.8 404.7,58.0 404.9,56.4 405.1,54.9 405.4,53.6 405.6,52.4 405.8,51.3 406.1,50.5 406.3,49.8 406.5,49.3 406.8,49.0 407.0,48.9 407.2,48.9 407.4,49.1 407.7,49.5 407.9,50.1 408.1,50.7 408.4,51.6 408.6,52.5 408.8,53.6 409.0,54.7 409.3,56.0 409.5,57.3 409.7,58.6 410.0,60.0 410.2,61.4 410.4,62.8 410.7,64.1 410.9,65.5 411.1,66.7 411.3,67.9 411.6,68.9 411.8,69.9 412.0,70.7 412.3,71.4 412.5,71.9 412.7,72.3 412.9,72.5 413.2,72.5 413.4,72.4 413.6,72.1 413.9,71.7 414.1,71.3 414.3,70.7 414.6,70.1 414.8,69.4 415.0,68.6 415.2,67.7 415.5,66.7 415.7,65.8 415.9,64.7 416.2,63.7 416.4,62.6 416.6,61.5 416.8,60.4 417.1,59.3 417.3,58.2 417.5,57.1 417.8,56.1 418.0,55.2 418.2,54.3 418.5,53.5 418.7,52.7 418.9,52.0 419.1,51.5 419.4,51.0 419.6,50.6 419.8,50.3 420.1,50.1 420.3,50.0 420.5,50.0 420.7,50.1 421.0,50.3 421.2,50.5 421.4,50.9 421.7,51.2 421.9,51.7 422.1,52.1 422.3,52.6 422.6,53.0 422.8,53.5 423.0,53.9 423.3,54.2 423.5,54.5 423.7,54.7 424.0,54.8 424.2,54.9 424.4,54.8 424.6,54.6 424.9,54.4 425.1,54.2 425.3,54.0 425.6,53.8 425.8,53.5 426.0,53.3 426.2,53.0 426.5,52.7 426.7,52.5 426.9,52.2 427.2,51.8 427.4,51.5 427.6,51.2 427.9,50.9 428.1,50.5 428.3,50.2 428.5,49.9 428.8,49.6 429.0,49.2 429.2,48.9 429.5,48.6 429.7,48.3 429.9,48.0 430.1,47.7 430.4,47.4 430.6,47.1 430.8,46.9 431.1,46.6 431.3,46.4 431.5,46.2 431.8,46.0 432.0,45.8 432.2,45.7 432.4,45.5 432.7,45.4 432.9,45.3 433.1,45.2 433.4,45.2 433.6,45.1 433.8,45.1 434.0,45.1 434.3,45.1 434.5,45.1 434.7,45.2 435.0,45.2 435.2,45.3 435.4,45.3 435.7,45.4 435.9,45.5 436.1,45.6 436.3,45.7 436.6,45.8 436.8,45.9 437.0,46.0 437.3,46.1 437.5,46.2 437.7,46.3 437.9,46.4 438.2,46.5 438.4,46.6 438.6,46.6 438.9,46.7 439.1,46.7 439.3,46.7 439.5,46.7 439.8,46.7 440.0,46.7 440.2,46.7 440.5,46.7 440.7,46.7 440.9,46.7" stroke="#e060e6" stroke-width="0.8"/>
<polyline points="377.4,81.2 377.9,81.3 378.3,81.5 378.8,81.6 379.2,81.7 379.7,81.8 380.2,81.8 380.6,81.9 381.1,82.0 381.5,82.0 382.0,82.0 382.4,82.1 382.9,82.1 383.4,82.1 383.8,82.1 384.3,82.0 384.7,82.0 385.2,82.0 385.7,81.9 386.1,81.8 386.6,81.8 387.0,81.7 387.5,81.6 387.9,81.5 388.4,81.3 388.9,81.2 389.3,81.1 389.8,80.9 390.2,80.7 390.7,80.6 391.2,80.4 391.6,80.2 392.1,80.0 392.5,79.8 393.0,79.6 393.5,79.3 393.9,79.1 394.4,78.8 394.8,78.6 395.3,78.3 395.7,78.0 396.2,77.7 396.7,77.4 397.1,77.1 397.6,76.8 398.0,76.5 398.5,76.2 399.0,75.8 399.4,75.5 399.9,75.1 400.3,74.8 400.8,74.4 401.3,74.1 401.7,73.7 402.2,73.3 402.6,72.9 403.1,72.5 403.5,72.1 404.0,71.7 404.5,71.3 404.9,70.9 405.4,70.5 405.8,70.1 406.3,69.6 406.8,69.2 407.2,68.8 407.7,68.4 408.1,67.9 408.6,67.5 409.0,67.1 409.5,66.6 410.0,66.2 410.4,65.7 410.9,65.3 411.3,64.8 411.8,64.4 412.3,64.0 412.7,63.5 413.2,63.1 413.6,62.6 414.1,62.2 414.6,61.7 415.0,61.3 415.5,60.9 415.9,60.4 416.4,60.0 416.8,59.6 417.3,59.2 417.8,58.7 418.2,58.3 418.7,57.9 419.1,57.5 419.6,57.1 420.1,56.7 420.5,56.3 421.0,55.9 421.4,55.5 421.9,55.1 422.3,54.7 422.8,54.4 423.3,54.0 423.7,53.7 424.2,53.3 424.6,53.0 425.1,52.6 425.6,52.3 426.0,52.0 426.5,51.7 426.9,51.4 427.4,51.1 427.9,50.8 428.3,50.5 428.8,50.2 429.2,50.0 429.7,49.7 430.1,49.5 430.6,49.2 431.1,49.0 431.5,48.8 432.0,48.6 432.4,48.4 432.9,48.2 433.4,48.1 433.8,47.9 434.3,47.7 434.7,47.6 435.2,47.5 435.7,47.3 436.1,47.2 436.6,47.1 437.0,47.0 437.5,47.0 437.9,46.9 438.4,46.8 438.9,46.8 439.3,46.8 439.8,46.7 440.2,46.7 440.7,46.7 441.2,46.7 441.6,46.8 442.1,46.8 442.5,46.8 443.0,46.9 443.4,47.0 443.9,47.0 444.4,47.1 444.8,47.2 445.3,47.3 445.7,47.5 446.2,47.6 446.7,47.7 447.1,47.9 447.6,48.1 448.0,48.2 448.5,48.4 449.0,48.6 449.4,48.8 449.9,49.0 450.3,49.2 450.8,49.5 451.2,49.7 451.7,50.0 452.2,50.2 452.6,50.5 453.1,50.8 453.5,51.1 454.0,51.4 454.5,51.7 454.9,52.0 455.4,52.3 455.8,52.6 456.3,53.0 456.7,53.3 457.2,53.7 457.7,54.0 458.1,54.4 458.6,54.7 459.0,55.1 459.5,55.5 460.0,55.9 460.4,56.3 460.9,56.7 461.3,57.1 461.8,57.5 462.3,57.9 462.7,58.3 463.2,58.7 463.6,59.2 464.1,59.6 464.5,60.0 465.0,60.4 465.5,60.9 465.9,61.3 466.4,61.7 466.8,62.2" stroke="#4640cc" stroke-width="1.2"/>
<polyline points="463.4,58.9 463.9,59.4 464.3,59.8 464.8,60.2 465.2,60.7 465.7,61.1 466.2,61.5 466.6,62.0 467.1,62.4 467.5,62.8 468.0,63.3 468.4,63.7 468.9,64.2 469.4,64.6 469.8,65.1 470.3,65.5 470.7,66.0 471.2,66.4 471.7,66.8 472.1,67.3 472.6,67.7 473.0,68.1 473.5,68.6 473.9,69.0 474.4,69.4 474.9,69.9 475.3,70.3 475.8,70.7 476.2,71.1 476.7,71.5 477.2,71.9 477.6,72.3 478.1,72.7 478.5,73.1 479.0,73.5 479.5,73.9 479.9,74.2 480.4,74.6 480.8,75.0 481.3,75.3 481.7,75.7 482.2,76.0 482.7,76.3 483.1,76.7 483.6,77.0 484.0,77.3 484.5,77.6 485.0,77.9 485.4,78.2 485.9,78.4 486.3,78.7 486.8,79.0 487.3,79.2 487.7,79.4 488.2,79.7 488.6,79.9 489.1,80.1 489.5,80.3 490.0,80.5 490.5,80.7 490.9,80.8 491.4,81.0 491.8,81.1 492.3,81.3 492.8,81.4 493.2,81.5 493.7,81.6 494.1,81.7 494.6,81.8 495.0,81.9 495.5,81.9 496.0,82.0 496.4,82.0 496.9,82.0 497.3,82.1 497.8,82.1 498.3,82.1 498.7,82.0 499.2,82.0 499.6,82.0 500.1,81.9 500.6,81.9 501.0,81.8 501.5,81.7 501.9,81.6 502.4,81.5 502.8,81.4 503.3,81.3 503.8,81.1 504.2,81.0 504.7,80.8 505.1,80.7 505.6,80.5 506.1,80.3 506.5,80.1 507.0,79.9 507.4,79.7 507.9,79.4 508.3,79.2 508.8,79.0 509.3,78.7 509.7,78.4 510.2,78.2 510.6,77.9 511.1,77.6 511.6,77.3 512.0,77.0 512.5,76.7 512.9,76.3 513.4,76.0 513.9,75.7 514.3,75.3 514.8,75.0 515.2,74.6 515.7,74.2 516.1,73.9 516.6,73.5 517.1,73.1 517.5,72.7 518.0,72.3 518.4,71.9 518.9,71.5 519.4,71.1 519.8,70.7 520.3,70.3 520.7,69.9 521.2,69.4 521.7,69.0 522.1,68.6 522.6,68.1 523.0,67.7 523.5,67.3 523.9,66.8 524.4,66.4 524.9,66.0 525.3,65.5 525.8,65.1 526.2,64.6 526.7,64.2 527.2,63.7 527.6,63.3 528.1,62.8 528.5,62.4 529.0,62.0 529.4,61.5 529.9,61.1 530.4,60.7 530.8,60.2 531.3,59.8 531.7,59.4 532.2,58.9 532.7,58.5 533.1,58.1 533.6,57.7 534.0,57.3 534.5,56.9 535.0,56.5 535.4,56.1 535.9,55.7 536.3,55.3 536.8,54.9 537.2,54.6 537.7,54.2 538.2,53.8 538.6,53.5 539.1,53.1 539.5,52.8 540.0,52.5 540.5,52.1 540.9,51.8 541.4,51.5 541.8,51.2 542.3,50.9 542.7,50.6 543.2,50.4 543.7,50.1 544.1,49.8 544.6,49.6 545.0,49.4 545.5,49.1 546.0,48.9 546.4,48.7 546.9,48.5 547.3,48.3 547.8,48.1 548.3,48.0 548.7,47.8 549.2,47.7 549.6,47.5 550.1,47.4 550.5,47.3 551.0,47.2 551.5,47.1 551.9,47.0 552.4,46.9 552.8,46.9 553.3,46.8 553.8,46.8 554.2,46.8 554.7,46.7 555.1,46.7 555.6,46.7 556.1,46.8 556.5,46.8 557.0,46.8 557.4,46.9 557.9,46.9 558.3,47.0 558.8,47.1 559.3,47.2 559.7,47.3 560.2,47.4 560.6,47.5 561.1,47.7 561.6,47.8 562.0,48.0 562.5,48.1 562.9,48.3 563.4,48.5 563.8,48.7 564.3,48.9 564.8,49.1 565.2,49.4 565.7,49.6 566.1,49.8 566.6,50.1 567.1,50.4 567.5,50.6 568.0,50.9 568.4,51.2 568.9,51.5 569.4,51.8 569.8,52.1 570.3,52.5 570.7,52.8 571.2,53.1 571.6,53.5 572.1,53.8 572.6,54.2 573.0,54.6 573.5,54.9 573.9,55.3 574.4,55.7 574.9,56.1 575.3,56.5 575.8,56.9 576.2,57.3 576.7,57.7 577.1,58.1 577.6,58.5 578.1,58.9 578.5,59.4 579.0,59.8 579.4,60.2 579.9,60.7 580.4,61.1 580.8,61.5 581.3,62.0 581.7,62.4 582.2,62.8 582.7,63.3 583.1,63.7 583.6,64.2" stroke="#b84ca4" stroke-width="1.2"/>
</g>
<rect x="377.4" y="7.4" width="206.40" height="114.00" fill="none" stroke="#666666" stroke-width="1"/>
<path d="M411.80,121.4v-2.0M411.80,7.4v2.0M469.13,121.4v-2.0M469.13,7.4v2.0M526.47,121.4v-2.0M526.47,7.4v2.0M377.4,92.90h2.0M583.8,92.90h-2.0M377.4,64.40h2.0M583.8,64.40h-2.0M377.4,35.90h2.0M583.8,35.90h-2.0" stroke="#666666" stroke-width="1" fill="none"/>
<g font-family="'Liberation Serif', serif" font-size="10" fill="#222222" stroke="#222222" stroke-width="0.12">
<text x="411.80" y="134.00" text-anchor="middle">0.5</text>
<text x="469.13" y="134.00" text-anchor="middle">1</text>
<text x="526.47" y="134.00" text-anchor="middle">1.5</text>
<text x="583.80" y="134.00" text-anchor="middle">2</text>
<text x="374.80" y="124.80" text-anchor="end">-2</text>
<text x="374.80" y="96.30" text-anchor="end">-1</text>
<text x="374.80" y="67.80" text-anchor="end">0</text>
<text x="374.80" y="39.30" text-anchor="end">1</text>
<text x="374.80" y="10.80" text-anchor="end">2</text>
<text x="480.60" y="145.00" text-anchor="middle" font-size="9.8">Time/s</text>
<text transform="translate(351.90,66.20) rotate(-90)" text-anchor="middle" font-size="9.7">Angular velocity</text>
<text transform="translate(364.00,65.50) rotate(-90)" text-anchor="middle" font-size="9.7">of joint 2/(rad/s)</text>
</g>
<g font-family="'Liberation Serif', serif" font-size="7.7" fill="#222222">
<line x1="482.8" y1="16.00" x2="492.50" y2="16.00" stroke="#4640cc" stroke-width="1.3"/>
<text x="493.40" y="18.70" stroke="#222222" stroke-width="0.15">Ideal trajectory</text>
<line x1="482.8" y1="24.73" x2="492.50" y2="24.73" stroke="#707070" stroke-width="0.8"/>
<text x="493.40" y="27.43" stroke="#222222" stroke-width="0.15">Parameter 1</text>
<line x1="482.8" y1="33.46" x2="492.50" y2="33.46" stroke="#e87878" stroke-width="0.8"/>
<text x="493.40" y="36.16" stroke="#222222" stroke-width="0.15">Parameter 2</text>
<line x1="482.8" y1="42.19" x2="492.50" y2="42.19" stroke="#e060e6" stroke-width="0.8"/>
<text x="493.40" y="44.89" stroke="#222222" stroke-width="0.15">Parameter 3</text>
</g>
<clipPath id="c2"><rect x="243.7" y="158.6" width="206.30" height="112.80"/></clipPath>
<g clip-path="url(#c2)" fill="none" stroke-linejoin="round" stroke-linecap="round">
<polyline points="243.7,226.3 243.8,222.0 243.9,210.7 244.0,196.7 244.1,185.4 244.2,181.2 244.3,182.3 244.4,185.5 244.5,190.0 244.6,194.9 244.7,199.4 244.8,202.5 244.9,203.7 245.0,202.5 245.1,198.9 245.2,193.1 245.4,185.8 245.5,177.8 245.6,169.7 245.7,162.4 245.8,156.7 245.9,153.0 246.0,151.8 246.1,154.0 246.2,159.8 246.3,168.6 246.4,178.9 246.5,189.2 246.6,198.0 246.7,203.9 246.8,206.0 246.9,204.0 247.0,198.1 247.1,189.3 247.2,178.9 247.3,168.5 247.4,159.7 247.5,153.8 247.6,151.8 247.7,154.7 247.8,162.5 247.9,173.8 248.0,186.3 248.1,197.6 248.2,205.4 248.3,208.2 248.4,206.2 248.5,200.4 248.7,192.4 248.8,184.5 248.9,178.7 249.0,176.6 249.1,178.4 249.2,183.1 249.3,189.8 249.4,197.3 249.5,204.1 249.6,208.8 249.7,210.5 249.8,210.4 249.9,209.9 250.0,209.1 250.1,208.2 250.2,207.3 250.3,206.6 250.4,206.1 250.5,206.0 250.6,206.1 250.7,206.4 250.8,206.8 250.9,207.2 251.0,207.9 251.1,208.6 251.2,209.4 251.3,210.3 251.4,211.4 251.5,212.5 251.6,213.7 251.7,215.0 251.8,216.3 252.0,217.7 252.1,219.2 252.2,220.7 252.3,222.2 252.4,223.8 252.5,225.4 252.6,227.0 252.7,228.6 252.8,230.2 252.9,231.8 253.0,233.3 253.1,234.8 253.2,236.3 253.3,237.7 253.4,239.1 253.5,240.3 253.6,241.5 253.7,242.6 253.8,243.7 253.9,244.6 254.0,245.4 254.1,246.1 254.2,246.7 254.3,247.2 254.4,247.6 254.5,247.8 254.6,247.9 254.7,247.9 254.8,247.8 254.9,247.6 255.0,247.3 255.1,246.8 255.3,246.2 255.4,245.6 255.5,244.8 255.6,243.9 255.7,243.0 255.8,242.0 255.9,240.9 256.0,239.8 256.1,238.6 256.2,237.4 256.3,236.2 256.4,234.9 256.5,233.7 256.6,232.4 256.7,231.2 256.8,230.0 256.9,228.9 257.0,227.8 257.1,226.8 257.2,225.9 257.3,225.0 257.4,224.2 257.5,223.5 257.6,223.0 257.7,222.5 257.8,222.1 257.9,221.9 258.0,221.8 258.1,221.8 258.2,221.8 258.3,222.0 258.5,222.2 258.6,222.4 258.7,222.7 258.8,223.0 258.9,223.3 259.0,223.7 259.1,224.2 259.2,224.7 259.3,225.2 259.4,225.8 259.5,226.4 259.6,227.0 259.7,227.7 259.8,228.4 259.9,229.1 260.0,229.8 260.1,230.6 260.2,231.4 260.3,232.2 260.4,233.0 260.5,233.8 260.6,234.6 260.7,235.5 260.8,236.3 260.9,237.1 261.0,237.9 261.1,238.7 261.2,239.5 261.3,240.3 261.4,241.0 261.5,241.8 261.6,242.5 261.8,243.2 261.9,243.8 262.0,244.5 262.1,245.0 262.2,245.6 262.3,246.1 262.4,246.6 262.5,247.0 262.6,247.4 262.7,247.8 262.8,248.1 262.9,248.3 263.0,248.5 263.1,248.7 263.2,248.8 263.3,248.8 263.4,248.9 263.5,248.8 263.6,248.7 263.7,248.6 263.8,248.5 263.9,248.2 264.0,248.0 264.1,247.7 264.2,247.4 264.3,247.0 264.4,246.6 264.5,246.1 264.6,245.7 264.7,245.1 264.8,244.6 264.9,244.0 265.1,243.4 265.2,242.7 265.3,242.0 265.4,241.3 265.5,240.6 265.6,239.9 265.7,239.1 265.8,238.3 265.9,237.5 266.0,236.7 266.1,235.8 266.2,235.0 266.3,234.1 266.4,233.3 266.5,232.4 266.6,231.5 266.7,230.6 266.8,229.8 266.9,228.9 267.0,228.0 267.1,227.2 267.2,226.4 267.3,225.5 267.4,224.7 267.5,223.9 267.6,223.1 267.7,222.4 267.8,221.6 267.9,220.9 268.0,220.2 268.1,219.5 268.2,218.9 268.4,218.3 268.5,217.7 268.6,217.2 268.7,216.7 268.8,216.2 268.9,215.8 269.0,215.4 269.1,215.0 269.2,214.7 269.3,214.4 269.4,214.2 269.5,214.0 269.6,213.8 269.7,213.7 269.8,213.7 269.9,213.6 270.0,213.7 270.1,213.8 270.2,214.0 270.3,214.3 270.4,214.7 270.5,215.2 270.6,215.7 270.7,216.4 270.8,217.1 270.9,217.9 271.0,218.7 271.1,219.7 271.2,220.7 271.3,221.7 271.4,222.9 271.6,224.1 271.7,225.3 271.8,226.6 271.9,228.0 272.0,229.4 272.1,230.8 272.2,232.3 272.3,233.8 272.4,235.3 272.5,236.9 272.6,238.4 272.7,240.0 272.8,241.6 272.9,243.2 273.0,244.8 273.1,246.4 273.2,248.0 273.3,249.5 273.4,251.1 273.5,252.6 273.6,254.1 273.7,255.6 273.8,257.0 273.9,258.4 274.0,259.7 274.1,261.0 274.2,262.2 274.3,263.4 274.4,264.5 274.5,265.6 274.6,266.6 274.7,267.5 274.9,268.3 275.0,269.1 275.1,269.8 275.2,270.4 275.3,270.9 275.4,271.4 275.5,271.7 275.6,272.0 275.7,272.2 275.8,272.3 275.9,272.3 276.0,272.2 276.1,272.1 276.2,271.8 276.3,271.5 276.4,271.1 276.5,270.6 276.6,270.0 276.7,269.3 276.8,268.5 276.9,267.7 277.0,266.8 277.1,265.8 277.2,264.8 277.3,263.7 277.4,262.5 277.5,261.2 277.6,259.9 277.7,258.5 277.8,257.1 277.9,255.6 278.0,254.1 278.2,252.5 278.3,250.9 278.4,249.3 278.5,247.6 278.6,245.9 278.7,244.1 278.8,242.4 278.9,240.6 279.0,238.8 279.1,237.0 279.2,235.2 279.3,233.4 279.4,231.6 279.5,229.8 279.6,228.0 279.7,226.3 279.8,224.5 279.9,222.8 280.0,221.1 280.1,219.4 280.2,217.8 280.3,216.2 280.4,214.7 280.5,213.2 280.6,211.8 280.7,210.4 280.8,209.1 280.9,207.8 281.0,206.6 281.1,205.4 281.2,204.4 281.3,203.4 281.5,202.5 281.6,201.6 281.7,200.8 281.8,200.1 281.9,199.5 282.0,199.0 282.1,198.6 282.2,198.2 282.3,197.9 282.4,197.7 282.5,197.6 282.6,197.6 282.7,197.7 282.8,197.9 282.9,198.2 283.0,198.6 283.1,199.1 283.2,199.6 283.3,200.3 283.4,201.1 283.5,201.9 283.6,202.9 283.7,203.9 283.8,205.0 283.9,206.2 284.0,207.4 284.1,208.8 284.2,210.2 284.3,211.6 284.4,213.1 284.5,214.7 284.7,216.3 284.8,217.9 284.9,219.6 285.0,221.4 285.1,223.1 285.2,224.9 285.3,226.7 285.4,228.4 285.5,230.2 285.6,232.0 285.7,233.8 285.8,235.6 285.9,237.4 286.0,239.1 286.1,240.8 286.2,242.5 286.3,244.2 286.4,245.8 286.5,247.3 286.6,248.8 286.7,250.3 286.8,251.7 286.9,253.0 287.0,254.2 287.1,255.4 287.2,256.5 287.3,257.5 287.4,258.4 287.5,259.3 287.6,260.0 287.7,260.7 287.8,261.3 288.0,261.7 288.1,262.1 288.2,262.4 288.3,262.6 288.4,262.6 288.5,262.6 288.6,262.5 288.7,262.3 288.8,262.1 288.9,261.8 289.0,261.5 289.1,261.1 289.2,260.7 289.3,260.2 289.4,259.6 289.5,259.0 289.6,258.4 289.7,257.7 289.8,256.9 289.9,256.1 290.0,255.3 290.1,254.4 290.2,253.5 290.3,252.5 290.4,251.5 290.5,250.4 290.6,249.4 290.7,248.3 290.8,247.1 290.9,245.9 291.0,244.7 291.1,243.5 291.3,242.3 291.4,241.0 291.5,239.8 291.6,238.5 291.7,237.2 291.8,235.8 291.9,234.5 292.0,233.2 292.1,231.9 292.2,230.6 292.3,229.2 292.4,227.9 292.5,226.6 292.6,225.3 292.7,224.1 292.8,222.8 292.9,221.6 293.0,220.3 293.1,219.1 293.2,218.0 293.3,216.8 293.4,215.7 293.5,214.6 293.6,213.6 293.7,212.6 293.8,211.6 293.9,210.7 294.0,209.8 294.1,208.9 294.2,208.1 294.3,207.4 294.4,206.7 294.6,206.0 294.7,205.4 294.8,204.9 294.9,204.3 295.0,203.9 295.1,203.5 295.2,203.2 295.3,202.9 295.4,202.7 295.5,202.5 295.6,202.4 295.7,202.3 295.8,202.3 295.9,202.3 296.0,202.4 296.1,202.6 296.2,202.8 296.3,203.0 296.4,203.3 296.5,203.6 296.6,204.0 296.7,204.5 296.8,204.9 296.9,205.4 297.0,206.0 297.1,206.6 297.2,207.2 297.3,207.9 297.4,208.6 297.5,209.3 297.6,210.1 297.8,210.9 297.9,211.7 298.0,212.5 298.1,213.3 298.2,214.2 298.3,215.1 298.4,216.0 298.5,216.9 298.6,217.8 298.7,218.7 298.8,219.6 298.9,220.5 299.0,221.4 299.1,222.3 299.2,223.1 299.3,224.0 299.4,224.9 299.5,225.7 299.6,226.5 299.7,227.3 299.8,228.0 299.9,228.8 300.0,229.5 300.1,230.1 300.2,230.8 300.3,231.4 300.4,231.9 300.5,232.5 300.6,232.9 300.7,233.4 300.8,233.8 300.9,234.1 301.1,234.4 301.2,234.6 301.3,234.8 301.4,235.0 301.5,235.1 301.6,235.1 301.7,235.1 301.8,235.1 301.9,235.0 302.0,234.9 302.1,234.7 302.2,234.6 302.3,234.4 302.4,234.2 302.5,233.9 302.6,233.7 302.7,233.4 302.8,233.1 302.9,232.7 303.0,232.4 303.1,232.0 303.2,231.6 303.3,231.2 303.4,230.8 303.5,230.3 303.6,229.8 303.7,229.4 303.8,228.9 303.9,228.3 304.0,227.8 304.1,227.3 304.2,226.7 304.4,226.1 304.5,225.5 304.6,224.9 304.7,224.3 304.8,223.7 304.9,223.1 305.0,222.5 305.1,221.9 305.2,221.2 305.3,220.6 305.4,219.9 305.5,219.3 305.6,218.7 305.7,218.0 305.8,217.4 305.9,216.8 306.0,216.1 306.1,215.5 306.2,214.9 306.3,214.3 306.4,213.7 306.5,213.1 306.6,212.5 306.7,212.0 306.8,211.4 306.9,210.9 307.0,210.3 307.1,209.8 307.2,209.3 307.3,208.9 307.4,208.4 307.5,208.0 307.7,207.6 307.8,207.2 307.9,206.8 308.0,206.4 308.1,206.1 308.2,205.8 308.3,205.5 308.4,205.2 308.5,205.0 308.6,204.7 308.7,204.5 308.8,204.4 308.9,204.2 309.0,204.1 309.1,204.0 309.2,203.9 309.3,203.9 309.4,203.9 309.5,203.9 309.6,203.9 309.7,203.9 309.8,204.0 309.9,204.1 310.0,204.2 310.1,204.3 310.2,204.4 310.3,204.6 310.4,204.8 310.5,205.0 310.6,205.2 310.7,205.4 310.9,205.7 311.0,206.0 311.1,206.2 311.2,206.5 311.3,206.8 311.4,207.2 311.5,207.5 311.6,207.8 311.7,208.2 311.8,208.6 311.9,208.9 312.0,209.3 312.1,209.7 312.2,210.1 312.3,210.5 312.4,210.9 312.5,211.3 312.6,211.7 312.7,212.1 312.8,212.5 312.9,212.9 313.0,213.3 313.1,213.7 313.2,214.0 313.3,214.4 313.4,214.8 313.5,215.2 313.6,215.5 313.7,215.9 313.8,216.2 313.9,216.5 314.0,216.8 314.2,217.1 314.3,217.4 314.4,217.7 314.5,217.9 314.6,218.2 314.7,218.4 314.8,218.6 314.9,218.8 315.0,218.9 315.1,219.1 315.2,219.2 315.3,219.3 315.4,219.4 315.5,219.5 315.6,219.5 315.7,219.5 315.8,219.5 315.9,219.5 316.0,219.5 316.1,219.4 316.2,219.4 316.3,219.3 316.4,219.2 316.5,219.1 316.6,219.0 316.7,218.9 316.8,218.7 316.9,218.6 317.0,218.4 317.1,218.3 317.2,218.1 317.3,217.9 317.5,217.7 317.6,217.5 317.7,217.3 317.8,217.0 317.9,216.8 318.0,216.6 318.1,216.3 318.2,216.0 318.3,215.8 318.4,215.5 318.5,215.2 318.6,215.0 318.7,214.7 318.8,214.4 318.9,214.1 319.0,213.8 319.1,213.5 319.2,213.3 319.3,213.0 319.4,212.7 319.5,212.4 319.6,212.1 319.7,211.8 319.8,211.6 319.9,211.3 320.0,211.0 320.1,210.8 320.2,210.5 320.3,210.3 320.4,210.0 320.5,209.8 320.6,209.6 320.8,209.4 320.9,209.2 321.0,209.0 321.1,208.8 321.2,208.6 321.3,208.5 321.4,208.3 321.5,208.2 321.6,208.1 321.7,207.9 321.8,207.8 321.9,207.8 322.0,207.7 322.1,207.6 322.2,207.6 322.3,207.6 322.4,207.6 322.5,207.6 322.6,207.6 322.7,207.6 322.8,207.6 322.9,207.6 323.0,207.7 323.1,207.7 323.2,207.8 323.3,207.8 323.4,207.9 323.5,208.0 323.6,208.1 323.7,208.2 323.8,208.3 324.0,208.4 324.1,208.5 324.2,208.6 324.3,208.7 324.4,208.8 324.5,208.9 324.6,209.1 324.7,209.2 324.8,209.4 324.9,209.5 325.0,209.6 325.1,209.8 325.2,209.9 325.3,210.1 325.4,210.3 325.5,210.4 325.6,210.6 325.7,210.8 325.8,210.9 325.9,211.1 326.0,211.2 326.1,211.4 326.2,211.6 326.3,211.7 326.4,211.9 326.5,212.1 326.6,212.2 326.7,212.4 326.8,212.6 326.9,212.7 327.0,212.9 327.1,213.0 327.3,213.2 327.4,213.3 327.5,213.4 327.6,213.6 327.7,213.7 327.8,213.8 327.9,213.9 328.0,214.1 328.1,214.2 328.2,214.3 328.3,214.4 328.4,214.5 328.5,214.6 328.6,214.6 328.7,214.7 328.8,214.8 328.9,214.8 329.0,214.9 329.1,215.0 329.2,215.0 329.3,215.0 329.4,215.1 329.5,215.1 329.6,215.2 329.7,215.2 329.8,215.2 329.9,215.3 330.0,215.3 330.1,215.3 330.2,215.3 330.3,215.4 330.4,215.4 330.6,215.4 330.7,215.4 330.8,215.5 330.9,215.5 331.0,215.5 331.1,215.5 331.2,215.6 331.3,215.6 331.4,215.6 331.5,215.6 331.6,215.6 331.7,215.7 331.8,215.7 331.9,215.7 332.0,215.7 332.1,215.8 332.2,215.8 332.3,215.8 332.4,215.8 332.5,215.9 332.6,215.9 332.7,215.9 332.8,215.9 332.9,216.0 333.0,216.0 333.1,216.0 333.2,216.1 333.3,216.1 333.4,216.2 333.5,216.2 333.6,216.3 333.7,216.3 333.9,216.4 334.0,216.4 334.1,216.5 334.2,216.5 334.3,216.6 334.4,216.6 334.5,216.7 334.6,216.8 334.7,216.8 334.8,216.9 334.9,217.0 335.0,217.0 335.1,217.1 335.2,217.2 335.3,217.2 335.4,217.3" stroke="#e87878" stroke-width="0.8"/>
<polyline points="243.7,212.7 243.8,209.5 243.9,200.4 244.0,187.9 244.1,175.5 244.2,166.4 244.3,163.1 244.4,165.7 244.5,172.7 244.6,182.3 244.7,191.8 244.8,198.8 244.9,201.5 245.0,200.0 245.1,195.6 245.2,189.0 245.4,181.2 245.5,173.3 245.6,166.7 245.7,162.3 245.8,160.9 245.9,162.6 246.0,167.5 246.1,174.8 246.2,183.4 246.3,192.0 246.4,199.3 246.5,204.2 246.6,206.0 246.7,205.1 246.8,202.4 246.9,198.4 247.0,193.6 247.1,188.8 247.2,184.7 247.3,182.0 247.4,181.2 247.5,182.3 247.6,185.2 247.7,189.6 247.8,194.7 247.9,199.8 248.0,204.2 248.1,207.1 248.2,208.2 248.3,208.3 248.4,208.3 248.5,208.2 248.7,208.2 248.8,208.2 248.9,208.2 249.0,208.3 249.1,208.5 249.2,208.8 249.3,209.1 249.4,209.5 249.5,209.9 249.6,210.4 249.7,211.0 249.8,211.6 249.9,212.2 250.0,212.9 250.1,213.7 250.2,214.5 250.3,215.3 250.4,216.1 250.5,217.0 250.6,217.9 250.7,218.8 250.8,219.8 250.9,220.7 251.0,221.6 251.1,222.5 251.2,223.5 251.3,224.3 251.4,225.2 251.5,226.1 251.6,226.9 251.7,227.7 251.8,228.4 252.0,229.1 252.1,229.8 252.2,230.4 252.3,230.9 252.4,231.4 252.5,231.8 252.6,232.2 252.7,232.5 252.8,232.8 252.9,232.9 253.0,233.0 253.1,233.1 253.2,233.1 253.3,233.0 253.4,232.9 253.5,232.7 253.6,232.5 253.7,232.3 253.8,231.9 253.9,231.6 254.0,231.2 254.1,230.8 254.2,230.3 254.3,229.8 254.4,229.3 254.5,228.8 254.6,228.3 254.7,227.7 254.8,227.2 254.9,226.6 255.0,226.1 255.1,225.6 255.3,225.1 255.4,224.6 255.5,224.1 255.6,223.7 255.7,223.3 255.8,222.9 255.9,222.6 256.0,222.4 256.1,222.1 256.2,222.0 256.3,221.8 256.4,221.8 256.5,221.7 256.6,221.8 256.7,221.9 256.8,222.1 256.9,222.4 257.0,222.8 257.1,223.3 257.2,223.9 257.3,224.6 257.4,225.4 257.5,226.2 257.6,227.1 257.7,228.1 257.8,229.2 257.9,230.3 258.0,231.5 258.1,232.7 258.2,233.9 258.3,235.2 258.5,236.5 258.6,237.8 258.7,239.1 258.8,240.4 258.9,241.7 259.0,242.9 259.1,244.2 259.2,245.4 259.3,246.5 259.4,247.6 259.5,248.7 259.6,249.7 259.7,250.6 259.8,251.4 259.9,252.2 260.0,252.9 260.1,253.5 260.2,253.9 260.3,254.3 260.4,254.6 260.5,254.8 260.6,254.9 260.7,254.9 260.8,254.9 260.9,254.7 261.0,254.5 261.1,254.2 261.2,253.8 261.3,253.4 261.4,252.8 261.5,252.3 261.6,251.6 261.8,250.9 261.9,250.1 262.0,249.2 262.1,248.3 262.2,247.4 262.3,246.3 262.4,245.3 262.5,244.2 262.6,243.0 262.7,241.8 262.8,240.6 262.9,239.4 263.0,238.1 263.1,236.8 263.2,235.5 263.3,234.1 263.4,232.8 263.5,231.4 263.6,230.1 263.7,228.8 263.8,227.4 263.9,226.1 264.0,224.8 264.1,223.5 264.2,222.3 264.3,221.0 264.4,219.8 264.5,218.7 264.6,217.5 264.7,216.5 264.8,215.4 264.9,214.5 265.1,213.5 265.2,212.7 265.3,211.9 265.4,211.1 265.5,210.4 265.6,209.8 265.7,209.3 265.8,208.8 265.9,208.4 266.0,208.1 266.1,207.9 266.2,207.7 266.3,207.6 266.4,207.6 266.5,207.6 266.6,207.7 266.7,207.9 266.8,208.2 266.9,208.5 267.0,208.9 267.1,209.3 267.2,209.9 267.3,210.5 267.4,211.1 267.5,211.8 267.6,212.6 267.7,213.4 267.8,214.3 267.9,215.2 268.0,216.2 268.1,217.2 268.2,218.3 268.4,219.4 268.5,220.6 268.6,221.8 268.7,223.0 268.8,224.3 268.9,225.6 269.0,226.9 269.1,228.2 269.2,229.6 269.3,230.9 269.4,232.3 269.5,233.7 269.6,235.1 269.7,236.5 269.8,237.9 269.9,239.3 270.0,240.7 270.1,242.0 270.2,243.4 270.3,244.7 270.4,246.0 270.5,247.3 270.6,248.5 270.7,249.8 270.8,250.9 270.9,252.1 271.0,253.2 271.1,254.3 271.2,255.3 271.3,256.2 271.4,257.2 271.6,258.0 271.7,258.8 271.8,259.6 271.9,260.2 272.0,260.9 272.1,261.4 272.2,261.9 272.3,262.4 272.4,262.7 272.5,263.0 272.6,263.2 272.7,263.4 272.8,263.5 272.9,263.5 273.0,263.4 273.1,263.3 273.2,263.1 273.3,262.8 273.4,262.4 273.5,261.9 273.6,261.4 273.7,260.8 273.8,260.1 273.9,259.3 274.0,258.5 274.1,257.6 274.2,256.6 274.3,255.6 274.4,254.6 274.5,253.5 274.6,252.3 274.7,251.1 274.9,249.9 275.0,248.6 275.1,247.3 275.2,246.0 275.3,244.7 275.4,243.3 275.5,242.0 275.6,240.7 275.7,239.3 275.8,238.0 275.9,236.7 276.0,235.4 276.1,234.1 276.2,232.9 276.3,231.7 276.4,230.5 276.5,229.4 276.6,228.3 276.7,227.3 276.8,226.3 276.9,225.4 277.0,224.6 277.1,223.8 277.2,223.1 277.3,222.5 277.4,221.9 277.5,221.4 277.6,221.0 277.7,220.7 277.8,220.4 277.9,220.3 278.0,220.2 278.2,220.2 278.3,220.2 278.4,220.2 278.5,220.3 278.6,220.4 278.7,220.6 278.8,220.8 278.9,221.0 279.0,221.2 279.1,221.5 279.2,221.8 279.3,222.2 279.4,222.5 279.5,222.9 279.6,223.3 279.7,223.8 279.8,224.3 279.9,224.8 280.0,225.3 280.1,225.8 280.2,226.3 280.3,226.9 280.4,227.5 280.5,228.0 280.6,228.6 280.7,229.2 280.8,229.8 280.9,230.4 281.0,231.0 281.1,231.6 281.2,232.2 281.3,232.8 281.5,233.4 281.6,234.0 281.7,234.6 281.8,235.1 281.9,235.7 282.0,236.2 282.1,236.7 282.2,237.2 282.3,237.6 282.4,238.1 282.5,238.5 282.6,238.8 282.7,239.2 282.8,239.5 282.9,239.8 283.0,240.1 283.1,240.3 283.2,240.5 283.3,240.7 283.4,240.8 283.5,240.9 283.6,241.0 283.7,241.0 283.8,241.0 283.9,240.9 284.0,240.9 284.1,240.8 284.2,240.7 284.3,240.6 284.4,240.5 284.5,240.3 284.7,240.2 284.8,240.0 284.9,239.9 285.0,239.7 285.1,239.5 285.2,239.3 285.3,239.1 285.4,238.9 285.5,238.7 285.6,238.4 285.7,238.2 285.8,238.0 285.9,237.7 286.0,237.4 286.1,237.2 286.2,236.9 286.3,236.6 286.4,236.3 286.5,236.0 286.6,235.7 286.7,235.4 286.8,235.1 286.9,234.8 287.0,234.5 287.1,234.2 287.2,233.9 287.3,233.6 287.4,233.3 287.5,233.0 287.6,232.7 287.7,232.4 287.8,232.0 288.0,231.7 288.1,231.4 288.2,231.2 288.3,230.9 288.4,230.6 288.5,230.3 288.6,230.0 288.7,229.7 288.8,229.5 288.9,229.2 289.0,229.0 289.1,228.7 289.2,228.5 289.3,228.3 289.4,228.1 289.5,227.9 289.6,227.7 289.7,227.5 289.8,227.3 289.9,227.1 290.0,227.0 290.1,226.8 290.2,226.7 290.3,226.6 290.4,226.5 290.5,226.4 290.6,226.3 290.7,226.2 290.8,226.1 290.9,226.1 291.0,226.0 291.1,226.0 291.3,225.9 291.4,225.9 291.5,225.8 291.6,225.8 291.7,225.8 291.8,225.8 291.9,225.8 292.0,225.8 292.1,225.8 292.2,225.8 292.3,225.8 292.4,225.8 292.5,225.9 292.6,225.9 292.7,225.9 292.8,225.9 292.9,226.0 293.0,226.0 293.1,226.0 293.2,226.1 293.3,226.1 293.4,226.2 293.5,226.2 293.6,226.2 293.7,226.2 293.8,226.3 293.9,226.3 294.0,226.3 294.1,226.3 294.2,226.4 294.3,226.4 294.4,226.4 294.6,226.4 294.7,226.4 294.8,226.3 294.9,226.3 295.0,226.3 295.1,226.3 295.2,226.2 295.3,226.2 295.4,226.1 295.5,226.1 295.6,226.0 295.7,225.9 295.8,225.8 295.9,225.8 296.0,225.7 296.1,225.6 296.2,225.5 296.3,225.4 296.4,225.3 296.5,225.2 296.6,225.1 296.7,225.1 296.8,225.0" stroke="#707070" stroke-width="0.8"/>
<polyline points="243.7,226.3 243.8,211.6 243.9,182.3 244.0,167.6 244.1,170.7 244.2,178.6 244.3,188.3 244.4,196.1 244.5,199.2 244.6,196.1 244.7,187.4 244.8,175.5 244.9,163.6 245.0,155.0 245.1,151.8 245.2,155.5 245.4,165.4 245.5,178.9 245.6,192.4 245.7,202.3 245.8,206.0 245.9,203.7 246.0,197.1 246.1,187.6 246.2,177.0 246.3,167.5 246.4,160.9 246.5,158.6 246.6,161.8 246.7,170.5 246.8,182.3 246.9,194.1 247.0,202.8 247.1,206.0 247.2,204.6 247.3,200.5 247.4,194.6 247.5,188.0 247.6,182.1 247.7,178.0 247.8,176.6 247.9,178.8 248.0,184.6 248.1,192.4 248.2,200.3 248.3,206.1 248.4,208.2 248.5,208.6 248.7,209.4 248.8,210.1 248.9,210.5 249.0,210.6 249.1,210.8 249.2,211.0 249.3,211.2 249.4,211.6 249.5,211.9 249.6,212.3 249.7,212.8 249.8,213.3 249.9,213.8 250.0,214.4 250.1,215.0 250.2,215.6 250.3,216.3 250.4,217.0 250.5,217.7 250.6,218.4 250.7,219.2 250.8,219.9 250.9,220.7 251.0,221.4 251.1,222.2 251.2,222.9 251.3,223.7 251.4,224.4 251.5,225.0 251.6,225.7 251.7,226.4 251.8,227.0 252.0,227.5 252.1,228.1 252.2,228.6 252.3,229.0 252.4,229.4 252.5,229.8 252.6,230.1 252.7,230.3 252.8,230.5 252.9,230.7 253.0,230.8 253.1,230.8 253.2,230.8 253.3,230.8 253.4,230.7 253.5,230.5 253.6,230.3 253.7,230.0 253.8,229.7 253.9,229.3 254.0,228.9 254.1,228.5 254.2,228.1 254.3,227.6 254.4,227.1 254.5,226.6 254.6,226.0 254.7,225.5 254.8,224.9 254.9,224.4 255.0,223.9 255.1,223.3 255.3,222.8 255.4,222.3 255.5,221.9 255.6,221.4 255.7,221.0 255.8,220.7 255.9,220.4 256.0,220.1 256.1,219.9 256.2,219.7 256.3,219.6 256.4,219.5 256.5,219.5 256.6,219.5 256.7,219.6 256.8,219.8 256.9,220.2 257.0,220.6 257.1,221.1 257.2,221.7 257.3,222.4 257.4,223.2 257.5,224.0 257.6,225.0 257.7,226.0 257.8,227.1 257.9,228.2 258.0,229.4 258.1,230.6 258.2,231.9 258.3,233.2 258.5,234.5 258.6,235.8 258.7,237.2 258.8,238.5 258.9,239.8 259.0,241.1 259.1,242.4 259.2,243.6 259.3,244.8 259.4,245.9 259.5,247.0 259.6,248.0 259.7,248.9 259.8,249.8 259.9,250.6 260.0,251.3 260.1,251.9 260.2,252.4 260.3,252.8 260.4,253.1 260.5,253.3 260.6,253.4 260.7,253.4 260.8,253.3 260.9,253.3 261.0,253.1 261.1,252.9 261.2,252.7 261.3,252.4 261.4,252.1 261.5,251.7 261.6,251.2 261.8,250.8 261.9,250.2 262.0,249.7 262.1,249.1 262.2,248.4 262.3,247.7 262.4,247.0 262.5,246.2 262.6,245.4 262.7,244.6 262.8,243.8 262.9,242.9 263.0,242.0 263.1,241.1 263.2,240.2 263.3,239.2 263.4,238.3 263.5,237.3 263.6,236.3 263.7,235.4 263.8,234.4 263.9,233.4 264.0,232.4 264.1,231.4 264.2,230.5 264.3,229.5 264.4,228.6 264.5,227.7 264.6,226.8 264.7,225.9 264.8,225.0 264.9,224.2 265.1,223.4 265.2,222.6 265.3,221.9 265.4,221.2 265.5,220.5 265.6,219.9 265.7,219.3 265.8,218.8 265.9,218.3 266.0,217.8 266.1,217.4 266.2,217.1 266.3,216.7 266.4,216.5 266.5,216.3 266.6,216.1 266.7,216.0 266.8,215.9 266.9,215.9 267.0,215.9 267.1,216.1 267.2,216.2 267.3,216.5 267.4,216.8 267.5,217.2 267.6,217.6 267.7,218.1 267.8,218.6 267.9,219.3 268.0,219.9 268.1,220.6 268.2,221.4 268.4,222.2 268.5,223.1 268.6,224.0 268.7,225.0 268.8,226.0 268.9,227.0 269.0,228.1 269.1,229.2 269.2,230.3 269.3,231.5 269.4,232.6 269.5,233.8 269.6,235.0 269.7,236.3 269.8,237.5 269.9,238.7 270.0,239.9 270.1,241.1 270.2,242.3 270.3,243.5 270.4,244.7 270.5,245.9 270.6,247.0 270.7,248.2 270.8,249.2 270.9,250.3 271.0,251.3 271.1,252.3 271.2,253.3 271.3,254.2 271.4,255.0 271.6,255.8 271.7,256.6 271.8,257.3 271.9,257.9 272.0,258.5 272.1,259.1 272.2,259.5 272.3,259.9 272.4,260.3 272.5,260.6 272.6,260.8 272.7,260.9 272.8,261.0 272.9,261.0 273.0,261.0 273.1,260.8 273.2,260.6 273.3,260.3 273.4,259.9 273.5,259.5 273.6,258.9 273.7,258.3 273.8,257.6 273.9,256.9 274.0,256.1 274.1,255.2 274.2,254.2 274.3,253.2 274.4,252.2 274.5,251.1 274.6,249.9 274.7,248.8 274.9,247.5 275.0,246.3 275.1,245.0 275.2,243.7 275.3,242.4 275.4,241.1 275.5,239.8 275.6,238.4 275.7,237.1 275.8,235.8 275.9,234.5 276.0,233.2 276.1,232.0 276.2,230.7 276.3,229.5 276.4,228.4 276.5,227.3 276.6,226.2 276.7,225.2 276.8,224.2 276.9,223.4 277.0,222.5 277.1,221.7 277.2,221.0 277.3,220.4 277.4,219.9 277.5,219.4 277.6,219.0 277.7,218.7 277.8,218.4 277.9,218.2 278.0,218.2 278.2,218.1 278.3,218.2 278.4,218.3 278.5,218.4 278.6,218.6 278.7,218.8 278.8,219.1 278.9,219.5 279.0,219.9 279.1,220.3 279.2,220.8 279.3,221.3 279.4,221.9 279.5,222.5 279.6,223.1 279.7,223.8 279.8,224.5 279.9,225.2 280.0,226.0 280.1,226.8 280.2,227.6 280.3,228.5 280.4,229.3 280.5,230.2 280.6,231.1 280.7,232.0 280.8,232.9 280.9,233.8 281.0,234.7 281.1,235.6 281.2,236.5 281.3,237.4 281.5,238.3 281.6,239.1 281.7,240.0 281.8,240.8 281.9,241.6 282.0,242.4 282.1,243.2 282.2,243.9 282.3,244.6 282.4,245.3 282.5,245.9 282.6,246.5 282.7,247.1 282.8,247.6 282.9,248.0 283.0,248.5 283.1,248.8 283.2,249.1 283.3,249.4 283.4,249.6 283.5,249.8 283.6,249.9 283.7,250.0 283.8,250.0 283.9,250.0 284.0,249.9 284.1,249.8 284.2,249.6 284.3,249.5 284.4,249.2 284.5,249.0 284.7,248.7 284.8,248.5 284.9,248.1 285.0,247.8 285.1,247.4 285.2,247.0 285.3,246.6 285.4,246.1 285.5,245.6 285.6,245.1 285.7,244.6 285.8,244.1 285.9,243.5 286.0,242.9 286.1,242.3 286.2,241.7 286.3,241.1 286.4,240.4 286.5,239.7 286.6,239.1 286.7,238.4 286.8,237.7 286.9,237.0 287.0,236.3 287.1,235.6 287.2,234.9 287.3,234.2 287.4,233.5 287.5,232.8 287.6,232.1 287.7,231.4 287.8,230.7 288.0,230.0 288.1,229.3 288.2,228.7 288.3,228.0 288.4,227.4 288.5,226.7 288.6,226.1 288.7,225.5 288.8,225.0 288.9,224.4 289.0,223.9 289.1,223.4 289.2,222.9 289.3,222.4 289.4,222.0 289.5,221.6 289.6,221.2 289.7,220.8 289.8,220.5 289.9,220.2 290.0,219.9 290.1,219.6 290.2,219.4 290.3,219.2 290.4,219.1 290.5,218.9 290.6,218.8 290.7,218.8 290.8,218.7 290.9,218.7 291.0,218.7 291.1,218.7 291.3,218.8 291.4,218.9 291.5,219.0 291.6,219.1 291.7,219.3 291.8,219.5 291.9,219.7 292.0,219.9 292.1,220.2 292.2,220.4 292.3,220.7 292.4,221.0 292.5,221.3 292.6,221.7 292.7,222.0 292.8,222.4 292.9,222.7 293.0,223.1 293.1,223.5 293.2,223.9 293.3,224.3 293.4,224.7 293.5,225.1 293.6,225.5 293.7,225.9 293.8,226.3 293.9,226.7 294.0,227.1 294.1,227.5 294.2,227.9 294.3,228.3 294.4,228.7 294.6,229.0 294.7,229.4 294.8,229.7 294.9,230.0 295.0,230.3 295.1,230.6 295.2,230.9 295.3,231.1 295.4,231.3 295.5,231.5 295.6,231.7 295.7,231.9 295.8,232.0 295.9,232.1 296.0,232.2 296.1,232.2 296.2,232.3 296.3,232.3 296.4,232.3 296.5,232.2 296.6,232.1 296.7,232.1 296.8,231.9 296.9,231.8 297.0,231.7 297.1,231.5 297.2,231.4 297.3,231.2 297.4,231.0 297.5,230.8 297.6,230.6 297.8,230.4 297.9,230.1 298.0,229.9 298.1,229.6 298.2,229.4 298.3,229.1 298.4,228.8 298.5,228.5 298.6,228.2 298.7,227.9 298.8,227.6 298.9,227.2 299.0,226.9 299.1,226.5 299.2,226.2 299.3,225.9 299.4,225.5 299.5,225.1 299.6,224.8 299.7,224.4 299.8,224.0 299.9,223.7 300.0,223.3 300.1,222.9 300.2,222.6 300.3,222.2 300.4,221.9 300.5,221.5 300.6,221.1 300.7,220.8 300.8,220.4 300.9,220.1 301.1,219.8 301.2,219.4 301.3,219.1 301.4,218.8 301.5,218.5 301.6,218.2 301.7,217.9 301.8,217.7 301.9,217.4 302.0,217.1 302.1,216.9 302.2,216.7 302.3,216.5 302.4,216.3 302.5,216.1 302.6,215.9 302.7,215.7 302.8,215.6 302.9,215.4 303.0,215.3 303.1,215.2 303.2,215.1 303.3,215.0 303.4,214.9 303.5,214.9 303.6,214.8 303.7,214.7 303.8,214.7 303.9,214.7 304.0,214.6 304.1,214.6 304.2,214.6 304.4,214.6 304.5,214.5 304.6,214.5 304.7,214.5 304.8,214.5 304.9,214.6 305.0,214.6 305.1,214.6 305.2,214.6 305.3,214.6 305.4,214.7 305.5,214.7 305.6,214.8 305.7,214.8 305.8,214.8 305.9,214.9 306.0,214.9 306.1,215.0 306.2,215.0 306.3,215.1 306.4,215.2 306.5,215.2 306.6,215.3 306.7,215.3 306.8,215.4 306.9,215.4 307.0,215.5 307.1,215.5 307.2,215.6 307.3,215.6 307.4,215.7 307.5,215.7 307.7,215.7 307.8,215.8 307.9,215.8 308.0,215.8 308.1,215.8 308.2,215.9 308.3,215.9 308.4,215.9 308.5,215.9 308.6,215.9 308.7,215.9 308.8,215.9 308.9,215.8 309.0,215.8 309.1,215.8 309.2,215.8 309.3,215.7 309.4,215.7 309.5,215.6 309.6,215.6 309.7,215.5 309.8,215.4 309.9,215.4 310.0,215.3 310.1,215.3 310.2,215.2 310.3,215.2 310.4,215.1 310.5,215.1" stroke="#e060e6" stroke-width="0.8"/>
<polyline points="243.7,226.3 244.1,226.6 244.5,227.0 244.9,227.3 245.4,227.7 245.8,228.0 246.2,228.4 246.6,228.7 247.0,229.1 247.4,229.4 247.8,229.8 248.2,230.1 248.7,230.4 249.1,230.8 249.5,231.1 249.9,231.4 250.3,231.8 250.7,232.1 251.1,232.4 251.5,232.7 252.0,233.0 252.4,233.3 252.8,233.6 253.2,233.9 253.6,234.2 254.0,234.5 254.4,234.8 254.8,235.1 255.3,235.3 255.7,235.6 256.1,235.9 256.5,236.1 256.9,236.4 257.3,236.6 257.7,236.8 258.1,237.1 258.6,237.3 259.0,237.5 259.4,237.7 259.8,237.9 260.2,238.1 260.6,238.3 261.0,238.5 261.4,238.6 261.9,238.8 262.3,238.9 262.7,239.1 263.1,239.2 263.5,239.3 263.9,239.5 264.3,239.6 264.7,239.7 265.2,239.8 265.6,239.9 266.0,239.9 266.4,240.0 266.8,240.1 267.2,240.1 267.6,240.2 268.0,240.2 268.5,240.2 268.9,240.3 269.3,240.3 269.7,240.3 270.1,240.3 270.5,240.2 270.9,240.2 271.3,240.2 271.8,240.1 272.2,240.1 272.6,240.0 273.0,239.9 273.4,239.9 273.8,239.8 274.2,239.7 274.6,239.6 275.1,239.5 275.5,239.3 275.9,239.2 276.3,239.1 276.7,238.9 277.1,238.8 277.5,238.6 277.9,238.5 278.4,238.3 278.8,238.1 279.2,237.9 279.6,237.7 280.0,237.5 280.4,237.3 280.8,237.1 281.2,236.8 281.7,236.6 282.1,236.4 282.5,236.1 282.9,235.9 283.3,235.6 283.7,235.3 284.1,235.1 284.5,234.8 285.0,234.5 285.4,234.2 285.8,233.9 286.2,233.6 286.6,233.3 287.0,233.0 287.4,232.7 287.8,232.4 288.3,232.1 288.7,231.8 289.1,231.4 289.5,231.1 289.9,230.8 290.3,230.4 290.7,230.1 291.1,229.8 291.6,229.4 292.0,229.1 292.4,228.7 292.8,228.4 293.2,228.0 293.6,227.7 294.0,227.3 294.4,227.0 294.9,226.6 295.3,226.3 295.7,225.9 296.1,225.6 296.5,225.2 296.9,224.9 297.3,224.5 297.8,224.2 298.2,223.8 298.6,223.5 299.0,223.1 299.4,222.8 299.8,222.5 300.2,222.1 300.6,221.8 301.1,221.5 301.5,221.1 301.9,220.8 302.3,220.5 302.7,220.2 303.1,219.9 303.5,219.5 303.9,219.2 304.4,218.9 304.8,218.6 305.2,218.3 305.6,218.1 306.0,217.8 306.4,217.5 306.8,217.2 307.2,217.0 307.7,216.7 308.1,216.5 308.5,216.2 308.9,216.0 309.3,215.7 309.7,215.5 310.1,215.3 310.5,215.1 311.0,214.9 311.4,214.7 311.8,214.5 312.2,214.3 312.6,214.1 313.0,213.9 313.4,213.8 313.8,213.6 314.3,213.5 314.7,213.3 315.1,213.2 315.5,213.1 315.9,213.0 316.3,212.9 316.7,212.8 317.1,212.7 317.6,212.6 318.0,212.5 318.4,212.5 318.8,212.4 319.2,212.4 319.6,212.3 320.0,212.3 320.4,212.3 320.9,212.3 321.3,212.3 321.7,212.3 322.1,212.3 322.5,212.3 322.9,212.4 323.3,212.4 323.7,212.5 324.2,212.5 324.6,212.6 325.0,212.7 325.4,212.8 325.8,212.9 326.2,213.0 326.6,213.1 327.0,213.2 327.5,213.3 327.9,213.5 328.3,213.6 328.7,213.8 329.1,213.9 329.5,214.1 329.9,214.3 330.3,214.5 330.8,214.7 331.2,214.9 331.6,215.1 332.0,215.3 332.4,215.5 332.8,215.7 333.2,216.0 333.6,216.2 334.1,216.5 334.5,216.7 334.9,217.0 335.3,217.2 335.7,217.5 336.1,217.8 336.5,218.1 336.9,218.3 337.4,218.6 337.8,218.9 338.2,219.2 338.6,219.5 339.0,219.9 339.4,220.2" stroke="#4640cc" stroke-width="1.2"/>
<polyline points="336.5,218.1 336.9,218.3 337.4,218.6 337.8,218.9 338.2,219.2 338.6,219.5 339.0,219.9 339.4,220.2 339.8,220.5 340.2,220.8 340.7,221.1 341.1,221.5 341.5,221.8 341.9,222.1 342.3,222.5 342.7,222.8 343.1,223.1 343.5,223.5 344.0,223.8 344.4,224.2 344.8,224.5 345.2,224.9 345.6,225.2 346.0,225.6 346.4,225.9 346.9,226.3 347.3,226.6 347.7,227.0 348.1,227.3 348.5,227.7 348.9,228.0 349.3,228.4 349.7,228.7 350.2,229.1 350.6,229.4 351.0,229.8 351.4,230.1 351.8,230.4 352.2,230.8 352.6,231.1 353.0,231.4 353.5,231.8 353.9,232.1 354.3,232.4 354.7,232.7 355.1,233.0 355.5,233.3 355.9,233.6 356.3,233.9 356.8,234.2 357.2,234.5 357.6,234.8 358.0,235.1 358.4,235.3 358.8,235.6 359.2,235.9 359.6,236.1 360.1,236.4 360.5,236.6 360.9,236.8 361.3,237.1 361.7,237.3 362.1,237.5 362.5,237.7 362.9,237.9 363.4,238.1 363.8,238.3 364.2,238.5 364.6,238.6 365.0,238.8 365.4,238.9 365.8,239.1 366.2,239.2 366.7,239.3 367.1,239.5 367.5,239.6 367.9,239.7 368.3,239.8 368.7,239.9 369.1,239.9 369.5,240.0 370.0,240.1 370.4,240.1 370.8,240.2 371.2,240.2 371.6,240.2 372.0,240.3 372.4,240.3 372.8,240.3 373.3,240.3 373.7,240.2 374.1,240.2 374.5,240.2 374.9,240.1 375.3,240.1 375.7,240.0 376.1,239.9 376.6,239.9 377.0,239.8 377.4,239.7 377.8,239.6 378.2,239.5 378.6,239.3 379.0,239.2 379.4,239.1 379.9,238.9 380.3,238.8 380.7,238.6 381.1,238.5 381.5,238.3 381.9,238.1 382.3,237.9 382.7,237.7 383.2,237.5 383.6,237.3 384.0,237.1 384.4,236.8 384.8,236.6 385.2,236.4 385.6,236.1 386.0,235.9 386.5,235.6 386.9,235.3 387.3,235.1 387.7,234.8 388.1,234.5 388.5,234.2 388.9,233.9 389.3,233.6 389.8,233.3 390.2,233.0 390.6,232.7 391.0,232.4 391.4,232.1 391.8,231.8 392.2,231.4 392.6,231.1 393.1,230.8 393.5,230.4 393.9,230.1 394.3,229.8 394.7,229.4 395.1,229.1 395.5,228.7 395.9,228.4 396.4,228.0 396.8,227.7 397.2,227.3 397.6,227.0 398.0,226.6 398.4,226.3 398.8,225.9 399.3,225.6 399.7,225.2 400.1,224.9 400.5,224.5 400.9,224.2 401.3,223.8 401.7,223.5 402.1,223.1 402.6,222.8 403.0,222.5 403.4,222.1 403.8,221.8 404.2,221.5 404.6,221.1 405.0,220.8 405.4,220.5 405.9,220.2 406.3,219.9 406.7,219.5 407.1,219.2 407.5,218.9 407.9,218.6 408.3,218.3 408.7,218.1 409.2,217.8 409.6,217.5 410.0,217.2 410.4,217.0 410.8,216.7 411.2,216.5 411.6,216.2 412.0,216.0 412.5,215.7 412.9,215.5 413.3,215.3 413.7,215.1 414.1,214.9 414.5,214.7 414.9,214.5 415.3,214.3 415.8,214.1 416.2,213.9 416.6,213.8 417.0,213.6 417.4,213.5 417.8,213.3 418.2,213.2 418.6,213.1 419.1,213.0 419.5,212.9 419.9,212.8 420.3,212.7 420.7,212.6 421.1,212.5 421.5,212.5 421.9,212.4 422.4,212.4 422.8,212.3 423.2,212.3 423.6,212.3 424.0,212.3 424.4,212.3 424.8,212.3 425.2,212.3 425.7,212.3 426.1,212.4 426.5,212.4 426.9,212.5 427.3,212.5 427.7,212.6 428.1,212.7 428.5,212.8 429.0,212.9 429.4,213.0 429.8,213.1 430.2,213.2 430.6,213.3 431.0,213.5 431.4,213.6 431.8,213.8 432.3,213.9 432.7,214.1 433.1,214.3 433.5,214.5 433.9,214.7 434.3,214.9 434.7,215.1 435.1,215.3 435.6,215.5 436.0,215.7 436.4,216.0 436.8,216.2 437.2,216.5 437.6,216.7 438.0,217.0 438.4,217.2 438.9,217.5 439.3,217.8 439.7,218.1 440.1,218.3 440.5,218.6 440.9,218.9 441.3,219.2 441.7,219.5 442.2,219.9 442.6,220.2 443.0,220.5 443.4,220.8 443.8,221.1 444.2,221.5 444.6,221.8 445.0,222.1 445.5,222.5 445.9,222.8 446.3,223.1 446.7,223.5 447.1,223.8 447.5,224.2 447.9,224.5 448.3,224.9 448.8,225.2 449.2,225.6 449.6,225.9 450.0,226.3" stroke="#b84cc8" stroke-width="1.2"/>
</g>
<rect x="243.7" y="158.6" width="206.30" height="112.80" fill="none" stroke="#666666" stroke-width="1"/>
<path d="M295.27,271.4v-2.0M295.27,158.6v2.0M346.85,271.4v-2.0M346.85,158.6v2.0M398.43,271.4v-2.0M398.43,158.6v2.0M243.7,248.84h2.0M450,248.84h-2.0M243.7,226.28h2.0M450,226.28h-2.0M243.7,203.72h2.0M450,203.72h-2.0M243.7,181.16h2.0M450,181.16h-2.0" stroke="#666666" stroke-width="1" fill="none"/>
<g font-family="'Liberation Serif', serif" font-size="10" fill="#222222" stroke="#222222" stroke-width="0.12">
<text x="243.70" y="284.00" text-anchor="middle">0</text>
<text x="295.27" y="284.00" text-anchor="middle">0.5</text>
<text x="346.85" y="284.00" text-anchor="middle">1</text>
<text x="398.43" y="284.00" text-anchor="middle">1.5</text>
<text x="450.00" y="284.00" text-anchor="middle">2</text>
<text x="241.10" y="274.80" text-anchor="end">-2</text>
<text x="241.10" y="252.24" text-anchor="end">-1</text>
<text x="241.10" y="229.68" text-anchor="end">0</text>
<text x="241.10" y="207.12" text-anchor="end">1</text>
<text x="241.10" y="184.56" text-anchor="end">2</text>
<text x="346.85" y="295.00" text-anchor="middle" font-size="9.8">Time/s</text>
<text transform="translate(217.70,216.80) rotate(-90)" text-anchor="middle" font-size="9.6">Angular velocity</text>
<text transform="translate(230.10,216.10) rotate(-90)" text-anchor="middle" font-size="9.6">of joint 3/(rad/s)</text>
</g>
<g font-family="'Liberation Serif', serif" font-size="7.7" fill="#222222">
<line x1="362" y1="170.00" x2="371.70" y2="170.00" stroke="#4640cc" stroke-width="1.3"/>
<text x="372.60" y="172.70" stroke="#222222" stroke-width="0.15">Ideal trajectory</text>
<line x1="362" y1="178.75" x2="371.70" y2="178.75" stroke="#707070" stroke-width="0.8"/>
<text x="372.60" y="181.45" stroke="#222222" stroke-width="0.15">Parameter 1</text>
<line x1="362" y1="187.50" x2="371.70" y2="187.50" stroke="#e87878" stroke-width="0.8"/>
<text x="372.60" y="190.20" stroke="#222222" stroke-width="0.15">Parameter 2</text>
<line x1="362" y1="196.25" x2="371.70" y2="196.25" stroke="#e060e6" stroke-width="0.8"/>
<text x="372.60" y="198.95" stroke="#222222" stroke-width="0.15">Parameter 3</text>
</g>
<clipPath id="c3"><rect x="110.4" y="329.4" width="206.20" height="107.80"/></clipPath>
<g clip-path="url(#c3)" fill="none" stroke-linejoin="round" stroke-linecap="round">
<polyline points="110.4,395.1 110.5,393.6 110.6,389.0 110.6,381.9 110.7,372.8 110.8,362.7 110.9,352.7 111.0,343.6 111.1,336.4 111.1,331.9 111.2,330.4 111.3,331.4 111.4,334.4 111.5,339.2 111.6,345.5 111.6,353.2 111.7,361.8 111.8,371.0 111.9,380.4 112.0,389.6 112.0,398.2 112.1,405.9 112.2,412.2 112.3,417.0 112.4,419.9 112.5,421.0 112.5,420.6 112.6,419.4 112.7,417.2 112.8,414.2 112.9,410.5 113.0,406.2 113.0,401.3 113.1,396.1 113.2,390.7 113.3,385.2 113.4,379.9 113.5,374.7 113.5,370.0 113.6,365.8 113.7,362.3 113.8,359.5 113.9,357.5 113.9,356.5 114.0,356.3 114.1,356.7 114.2,357.3 114.3,358.3 114.4,359.6 114.4,361.2 114.5,363.1 114.6,365.3 114.7,367.7 114.8,370.4 114.9,373.2 114.9,376.2 115.0,379.4 115.1,382.6 115.2,385.9 115.3,389.3 115.3,392.7 115.4,396.1 115.5,399.4 115.6,402.6 115.7,405.8 115.8,408.7 115.8,411.5 115.9,414.1 116.0,416.4 116.1,418.5 116.2,420.4 116.3,421.9 116.3,423.1 116.4,424.0 116.5,424.6 116.6,424.9 116.7,424.9 116.8,424.7 116.8,424.4 116.9,423.9 117.0,423.2 117.1,422.3 117.2,421.3 117.2,420.2 117.3,418.9 117.4,417.5 117.5,416.0 117.6,414.3 117.7,412.6 117.7,410.8 117.8,408.9 117.9,407.0 118.0,405.0 118.1,403.0 118.2,401.0 118.2,399.0 118.3,397.0 118.4,395.0 118.5,393.1 118.6,391.2 118.6,389.4 118.7,387.8 118.8,386.2 118.9,384.7 119.0,383.3 119.1,382.1 119.1,381.0 119.2,380.1 119.3,379.3 119.4,378.7 119.5,378.3 119.6,378.0 119.6,377.9 119.7,378.0 119.8,378.5 119.9,379.2 120.0,380.3 120.1,381.7 120.1,383.4 120.2,385.4 120.3,387.6 120.4,390.0 120.5,392.7 120.5,395.5 120.6,398.4 120.7,401.4 120.8,404.4 120.9,407.5 121.0,410.5 121.0,413.5 121.1,416.3 121.2,419.0 121.3,421.6 121.4,423.9 121.5,426.0 121.5,427.8 121.6,429.4 121.7,430.6 121.8,431.5 121.9,432.1 121.9,432.3 122.0,432.3 122.1,431.9 122.2,431.2 122.3,430.3 122.4,429.1 122.4,427.7 122.5,426.1 122.6,424.3 122.7,422.4 122.8,420.4 122.9,418.3 122.9,416.3 123.0,414.2 123.1,412.3 123.2,410.4 123.3,408.7 123.3,407.2 123.4,405.9 123.5,404.8 123.6,404.0 123.7,403.5 123.8,403.3 123.8,403.3 123.9,403.7 124.0,404.3 124.1,405.1 124.2,406.1 124.3,407.4 124.3,408.9 124.4,410.5 124.5,412.3 124.6,414.1 124.7,416.1 124.8,418.0 124.8,420.0 124.9,422.0 125.0,423.8 125.1,425.6 125.2,427.2 125.2,428.7 125.3,430.0 125.4,431.1 125.5,432.0 125.6,432.6 125.7,432.9 125.7,433.0 125.8,432.8 125.9,432.4 126.0,431.8 126.1,431.0 126.2,429.9 126.2,428.6 126.3,427.2 126.4,425.7 126.5,424.0 126.6,422.3 126.6,420.6 126.7,418.8 126.8,417.1 126.9,415.4 127.0,413.8 127.1,412.3 127.1,411.0 127.2,409.9 127.3,408.9 127.4,408.2 127.5,407.7 127.6,407.4 127.6,407.4 127.7,407.7 127.8,408.1 127.9,408.8 128.0,409.8 128.1,410.9 128.1,412.2 128.2,413.7 128.3,415.3 128.4,417.0 128.5,418.7 128.5,420.6 128.6,422.4 128.7,424.2 128.8,426.0 128.9,427.6 129.0,429.2 129.0,430.6 129.1,431.8 129.2,432.9 129.3,433.7 129.4,434.3 129.5,434.7 129.5,434.8 129.6,434.7 129.7,434.4 129.8,433.8 129.9,433.0 129.9,432.1 130.0,430.9 130.1,429.6 130.2,428.2 130.3,426.7 130.4,425.1 130.4,423.4 130.5,421.8 130.6,420.1 130.7,418.5 130.8,417.0 130.9,415.6 130.9,414.3 131.0,413.2 131.1,412.2 131.2,411.5 131.3,410.9 131.3,410.6 131.4,410.5 131.5,410.7 131.6,411.0 131.7,411.6 131.8,412.3 131.8,413.3 131.9,414.4 132.0,415.7 132.1,417.1 132.2,418.6 132.3,420.2 132.3,421.8 132.4,423.4 132.5,425.1 132.6,426.6 132.7,428.1 132.8,429.6 132.8,430.8 132.9,432.0 133.0,432.9 133.1,433.7 133.2,434.3 133.2,434.7 133.3,434.8 133.4,434.8 133.5,434.5 133.6,434.0 133.7,433.3 133.7,432.5 133.8,431.4 133.9,430.2 134.0,428.9 134.1,427.5 134.2,426.0 134.2,424.4 134.3,422.9 134.4,421.3 134.5,419.8 134.6,418.3 134.6,417.0 134.7,415.7 134.8,414.6 134.9,413.7 135.0,412.9 135.1,412.3 135.1,412.0 135.2,411.8 135.3,411.9 135.4,412.1 135.5,412.6 135.6,413.2 135.6,414.0 135.7,414.9 135.8,416.0 135.9,417.3 136.0,418.6 136.1,420.0 136.1,421.4 136.2,422.9 136.3,424.3 136.4,425.7 136.5,427.1 136.5,428.4 136.6,429.5 136.7,430.6 136.8,431.5 136.9,432.2 137.0,432.8 137.0,433.1 137.1,433.3 137.2,433.3 137.3,433.0 137.4,432.6 137.5,432.0 137.5,431.3 137.6,430.3 137.7,429.3 137.8,428.1 137.9,426.8 137.9,425.4 138.0,424.0 138.1,422.6 138.2,421.2 138.3,419.8 138.4,418.4 138.4,417.1 138.5,415.9 138.6,414.9 138.7,414.0 138.8,413.2 138.9,412.6 138.9,412.2 139.0,412.0 139.1,412.0 139.2,412.2 139.3,412.5 139.4,413.0 139.4,413.7 139.5,414.5 139.6,415.4 139.7,416.4 139.8,417.6 139.8,418.8 139.9,420.0 140.0,421.3 140.1,422.6 140.2,423.8 140.3,425.0 140.3,426.2 140.4,427.2 140.5,428.2 140.6,429.0 140.7,429.7 140.8,430.2 140.8,430.5 140.9,430.7 141.0,430.7 141.1,430.5 141.2,430.1 141.2,429.6 141.3,429.0 141.4,428.2 141.5,427.2 141.6,426.2 141.7,425.0 141.7,423.8 141.8,422.6 141.9,421.3 142.0,420.0 142.1,418.7 142.2,417.5 142.2,416.3 142.3,415.2 142.4,414.2 142.5,413.4 142.6,412.6 142.6,412.1 142.7,411.7 142.8,411.4 142.9,411.3 143.0,411.4 143.1,411.6 143.1,412.0 143.2,412.6 143.3,413.3 143.4,414.1 143.5,415.0 143.6,416.0 143.6,417.1 143.7,418.2 143.8,419.3 143.9,420.5 144.0,421.6 144.1,422.7 144.1,423.8 144.2,424.7 144.3,425.6 144.4,426.4 144.5,427.0 144.5,427.5 144.6,427.8 144.7,428.0 144.8,428.0 144.9,427.9 145.0,427.5 145.0,427.1 145.1,426.5 145.2,425.8 145.3,424.9 145.4,424.0 145.5,423.0 145.5,421.9 145.6,420.7 145.7,419.5 145.8,418.3 145.9,417.1 145.9,416.0 146.0,414.9 146.1,413.8 146.2,412.9 146.3,412.1 146.4,411.4 146.4,410.8 146.5,410.3 146.6,410.0 146.7,409.9 146.8,409.9 146.9,410.1 146.9,410.4 147.0,410.8 147.1,411.4 147.2,412.1 147.3,412.8 147.4,413.7 147.4,414.6 147.5,415.6 147.6,416.6 147.7,417.7 147.8,418.7 147.8,419.7 147.9,420.6 148.0,421.5 148.1,422.3 148.2,423.0 148.3,423.5 148.3,424.0 148.4,424.3 148.5,424.5 148.6,424.5 148.7,424.4 148.8,424.1 148.8,423.7 148.9,423.2 149.0,422.5 149.1,421.8 149.2,420.9 149.2,420.0 149.3,419.0 149.4,417.9 149.5,416.8 149.6,415.7 149.7,414.6 149.7,413.6 149.8,412.5 149.9,411.6 150.0,410.7 150.1,409.9 150.2,409.2 150.2,408.6 150.3,408.2 150.4,407.8 150.5,407.7 150.6,407.6 150.7,407.7 150.7,407.9 150.8,408.3 150.9,408.7 151.0,409.3 151.1,409.9 151.1,410.7 151.2,411.5 151.3,412.3 151.4,413.2 151.5,414.1 151.6,415.0 151.6,415.9 151.7,416.7 151.8,417.5 151.9,418.2 152.0,418.8 152.1,419.3 152.1,419.7 152.2,420.0 152.3,420.2 152.4,420.2 152.5,420.1 152.5,419.9 152.6,419.5 152.7,419.1 152.8,418.5 152.9,417.8 153.0,417.1 153.0,416.2 153.1,415.3 153.2,414.4 153.3,413.4 153.4,412.4 153.5,411.4 153.5,410.4 153.6,409.4 153.7,408.5 153.8,407.7 153.9,407.0 153.9,406.3 154.0,405.7 154.1,405.3 154.2,404.9 154.3,404.7 154.4,404.6 154.4,404.7 154.5,404.8 154.6,405.1 154.7,405.4 154.8,405.9 154.9,406.4 154.9,407.0 155.0,407.7 155.1,408.4 155.2,409.2 155.3,409.9 155.4,410.7 155.4,411.5 155.5,412.2 155.6,412.9 155.7,413.5 155.8,414.0 155.8,414.5 155.9,414.9 156.0,415.1 156.1,415.3 156.2,415.3 156.3,415.2 156.3,415.0 156.4,414.7 156.5,414.4 156.6,413.9 156.7,413.3 156.8,412.6 156.8,411.9 156.9,411.1 157.0,410.3 157.1,409.4 157.2,408.5 157.2,407.7 157.3,406.8 157.4,405.9 157.5,405.1 157.6,404.4 157.7,403.7 157.7,403.1 157.8,402.6 157.9,402.1 158.0,401.8 158.1,401.6 158.2,401.4 158.2,401.4 158.3,401.5 158.4,401.7 158.5,401.9 158.6,402.3 158.7,402.7 158.7,403.2 158.8,403.7 158.9,404.3 159.0,404.9 159.1,405.5 159.1,406.2 159.2,406.8 159.3,407.4 159.4,408.0 159.5,408.5 159.6,408.9 159.6,409.3 159.7,409.6 159.8,409.9 159.9,410.0 160.0,410.0 160.1,410.0 160.1,409.8 160.2,409.6 160.3,409.2 160.4,408.8 160.5,408.3 160.5,407.8 160.6,407.2 160.7,406.5 160.8,405.8 160.9,405.1 161.0,404.3 161.0,403.6 161.1,402.8 161.2,402.1 161.3,401.4 161.4,400.8 161.5,400.1 161.5,399.6 161.6,399.1 161.7,398.7 161.8,398.4 161.9,398.2 162.0,398.0 162.0,398.0 162.1,398.0 162.2,398.1 162.3,398.3 162.4,398.5 162.4,398.8 162.5,399.2 162.6,399.6 162.7,400.0 162.8,400.5 162.9,401.0 162.9,401.5 163.0,402.0 163.1,402.5 163.2,402.9 163.3,403.4 163.4,403.7 163.4,404.0 163.5,404.3 163.6,404.5 163.7,404.6 163.8,404.6 163.8,404.6 163.9,404.4 164.0,404.2 164.1,404.0 164.2,403.7 164.3,403.3 164.3,402.8 164.4,402.3 164.5,401.8 164.6,401.2 164.7,400.6 164.8,400.0 164.8,399.4 164.9,398.8 165.0,398.2 165.1,397.6 165.2,397.0 165.2,396.5 165.3,396.1 165.4,395.6 165.5,395.3 165.6,395.0 165.7,394.8 165.7,394.6 165.8,394.5 165.9,394.5 166.0,394.6 166.1,394.7 166.2,394.8 166.2,395.1 166.3,395.3 166.4,395.6 166.5,396.0 166.6,396.3 166.7,396.7 166.7,397.1 166.8,397.5 166.9,397.8 167.0,398.2 167.1,398.5 167.1,398.8 167.2,399.0 167.3,399.2 167.4,399.4 167.5,399.5 167.6,399.5 167.6,399.5 167.7,399.4 167.8,399.2 167.9,399.0 168.0,398.7 168.1,398.4 168.1,398.1 168.2,397.7 168.3,397.3 168.4,396.8 168.5,396.4 168.5,395.9 168.6,395.4 168.7,394.9 168.8,394.4 168.9,393.9 169.0,393.5 169.0,393.1 169.1,392.7 169.2,392.4 169.3,392.1 169.4,391.8 169.5,391.6 169.5,391.5 169.6,391.4 169.7,391.3 169.8,391.4 169.9,391.4 170.0,391.5 170.0,391.7 170.1,391.9 170.2,392.1 170.3,392.3 170.4,392.6 170.4,392.9 170.5,393.1 170.6,393.4 170.7,393.7 170.8,394.0 170.9,394.2 170.9,394.4 171.0,394.6 171.1,394.8 171.2,394.9 171.3,395.0 171.4,395.0 171.4,395.0 171.5,394.9 171.6,394.8 171.7,394.6 171.8,394.4 171.8,394.2 171.9,393.9 172.0,393.6 172.1,393.3 172.2,393.0 172.3,392.6 172.3,392.2 172.4,391.9 172.5,391.5 172.6,391.1 172.7,390.8 172.8,390.4 172.8,390.1 172.9,389.8 173.0,389.5 173.1,389.3 173.2,389.1 173.2,388.9 173.3,388.8 173.4,388.7 173.5,388.7 173.6,388.7 173.7,388.7 173.7,388.7 173.8,388.8 173.9,388.9 174.0,389.1 174.1,389.2 174.2,389.4 174.2,389.6 174.3,389.8 174.4,390.0 174.5,390.2 174.6,390.3 174.7,390.5 174.7,390.7 174.8,390.8 174.9,390.9 175.0,391.0 175.1,391.0 175.1,391.1 175.2,391.0 175.3,391.0 175.4,390.9 175.5,390.8 175.6,390.6 175.6,390.5 175.7,390.3 175.8,390.1 175.9,389.9 176.0,389.6 176.1,389.4 176.1,389.1 176.2,388.8 176.3,388.6 176.4,388.3 176.5,388.0 176.5,387.8 176.6,387.5 176.7,387.3 176.8,387.1 176.9,386.9 177.0,386.8 177.0,386.7 177.1,386.5 177.2,386.5 177.3,386.4 177.4,386.4 177.5,386.4 177.5,386.4 177.6,386.5 177.7,386.6 177.8,386.7 177.9,386.8 178.0,386.9 178.0,387.0 178.1,387.2 178.2,387.3 178.3,387.5 178.4,387.6 178.4,387.7 178.5,387.8 178.6,387.9 178.7,388.0 178.8,388.1 178.9,388.1 178.9,388.2 179.0,388.1 179.1,388.1 179.2,388.1 179.3,388.0 179.4,388.0 179.4,387.9 179.5,387.8 179.6,387.8 179.7,387.7 179.8,387.7 179.8,387.6 179.9,387.5 180.0,387.5 180.1,387.4 180.2,387.3 180.3,387.3 180.3,387.2 180.4,387.1 180.5,387.0 180.6,387.0 180.7,386.9 180.8,386.8 180.8,386.8 180.9,386.7 181.0,386.6 181.1,386.6 181.2,386.5 181.3,386.4 181.3,386.4 181.4,386.3 181.5,386.3 181.6,386.2 181.7,386.2 181.7,386.1 181.8,386.1 181.9,386.0 182.0,386.0 182.1,385.9 182.2,385.9 182.2,385.9 182.3,385.8 182.4,385.8 182.5,385.8 182.6,385.7 182.7,385.7 182.7,385.7 182.8,385.6 182.9,385.6 183.0,385.6 183.1,385.6 183.1,385.5 183.2,385.5" stroke="#e87878" stroke-width="0.8"/>
<polyline points="110.4,391.9 110.5,389.4 110.6,382.3 110.6,371.8 110.7,359.7 110.8,348.1 110.9,339.1 111.0,334.2 111.1,334.2 111.1,338.3 111.2,346.0 111.3,356.7 111.4,369.1 111.5,382.2 111.6,394.7 111.6,405.3 111.7,413.1 111.8,417.2 111.9,417.6 112.0,415.8 112.0,412.3 112.1,407.3 112.2,401.1 112.3,394.1 112.4,386.8 112.5,379.6 112.5,372.9 112.6,367.3 112.7,363.0 112.8,360.3 112.9,359.5 113.0,360.6 113.0,363.4 113.1,368.0 113.2,373.9 113.3,380.8 113.4,388.3 113.5,396.0 113.5,403.3 113.6,409.7 113.7,415.0 113.8,418.7 113.9,420.7 113.9,421.0 114.0,420.2 114.1,418.6 114.2,416.2 114.3,413.2 114.4,409.5 114.4,405.4 114.5,401.0 114.6,396.3 114.7,391.6 114.8,387.0 114.9,382.7 114.9,378.8 115.0,375.4 115.1,372.7 115.2,370.7 115.3,369.6 115.3,369.2 115.4,369.9 115.5,371.7 115.6,374.5 115.7,378.2 115.8,382.7 115.8,387.8 115.9,393.2 116.0,398.7 116.1,404.1 116.2,409.2 116.3,413.7 116.3,417.4 116.4,420.2 116.5,422.0 116.6,422.6 116.7,422.5 116.8,421.9 116.8,420.9 116.9,419.5 117.0,417.7 117.1,415.6 117.2,413.2 117.2,410.5 117.3,407.7 117.4,404.7 117.5,401.6 117.6,398.5 117.7,395.4 117.7,392.5 117.8,389.7 117.9,387.1 118.0,384.9 118.1,382.9 118.2,381.3 118.2,380.1 118.3,379.3 118.4,378.9 118.5,379.0 118.6,379.5 118.6,380.5 118.7,381.8 118.8,383.5 118.9,385.5 119.0,387.9 119.1,390.5 119.1,393.4 119.2,396.4 119.3,399.6 119.4,402.9 119.5,406.2 119.6,409.4 119.6,412.6 119.7,415.6 119.8,418.4 119.9,421.0 120.0,423.2 120.1,425.2 120.1,426.8 120.2,428.0 120.3,428.8 120.4,429.2 120.5,429.2 120.5,429.0 120.6,428.4 120.7,427.6 120.8,426.5 120.9,425.1 121.0,423.6 121.0,421.9 121.1,420.1 121.2,418.1 121.3,416.1 121.4,414.1 121.5,412.1 121.5,410.1 121.6,408.3 121.7,406.6 121.8,405.0 121.9,403.7 121.9,402.6 122.0,401.8 122.1,401.2 122.2,400.9 122.3,400.9 122.4,401.2 122.4,401.7 122.5,402.6 122.6,403.6 122.7,404.9 122.8,406.4 122.9,408.1 122.9,409.9 123.0,411.9 123.1,413.9 123.2,415.9 123.3,418.0 123.3,420.0 123.4,421.9 123.5,423.7 123.6,425.4 123.7,426.9 123.8,428.2 123.8,429.2 123.9,430.1 124.0,430.6 124.1,430.9 124.2,430.9 124.3,430.7 124.3,430.2 124.4,429.5 124.5,428.7 124.6,427.6 124.7,426.4 124.8,425.0 124.8,423.6 124.9,422.0 125.0,420.4 125.1,418.8 125.2,417.2 125.2,415.6 125.3,414.2 125.4,412.8 125.5,411.6 125.6,410.5 125.7,409.6 125.7,409.0 125.8,408.5 125.9,408.3 126.0,408.3 126.1,408.5 126.2,408.9 126.2,409.6 126.3,410.4 126.4,411.4 126.5,412.6 126.6,413.9 126.6,415.4 126.7,416.9 126.8,418.5 126.9,420.1 127.0,421.7 127.1,423.3 127.1,424.8 127.2,426.2 127.3,427.5 127.4,428.7 127.5,429.7 127.6,430.6 127.6,431.2 127.7,431.6 127.8,431.8 127.9,431.8 128.0,431.6 128.1,431.2 128.1,430.7 128.2,429.9 128.3,429.0 128.4,428.0 128.5,426.8 128.5,425.6 128.6,424.3 128.7,422.9 128.8,421.5 128.9,420.2 129.0,418.9 129.0,417.6 129.1,416.5 129.2,415.4 129.3,414.5 129.4,413.8 129.5,413.2 129.5,412.8 129.6,412.6 129.7,412.6 129.8,412.7 129.9,413.1 129.9,413.6 130.0,414.3 130.1,415.1 130.2,416.1 130.3,417.2 130.4,418.4 130.4,419.7 130.5,421.0 130.6,422.3 130.7,423.6 130.8,424.9 130.9,426.2 130.9,427.4 131.0,428.4 131.1,429.4 131.2,430.2 131.3,430.9 131.3,431.4 131.4,431.8 131.5,432.0 131.6,431.9 131.7,431.8 131.8,431.4 131.8,431.0 131.9,430.3 132.0,429.6 132.1,428.7 132.2,427.8 132.3,426.7 132.3,425.7 132.4,424.5 132.5,423.4 132.6,422.3 132.7,421.2 132.8,420.2 132.8,419.2 132.9,418.3 133.0,417.6 133.1,417.0 133.2,416.5 133.2,416.1 133.3,415.9 133.4,415.9 133.5,416.0 133.6,416.3 133.7,416.7 133.7,417.3 133.8,417.9 133.9,418.7 134.0,419.5 134.1,420.5 134.2,421.5 134.2,422.5 134.3,423.5 134.4,424.6 134.5,425.6 134.6,426.6 134.6,427.5 134.7,428.4 134.8,429.1 134.9,429.8 135.0,430.3 135.1,430.7 135.1,431.0 135.2,431.1 135.3,431.1 135.4,430.9 135.5,430.6 135.6,430.3 135.6,429.8 135.7,429.1 135.8,428.5 135.9,427.7 136.0,426.9 136.1,426.0 136.1,425.1 136.2,424.2 136.3,423.3 136.4,422.4 136.5,421.6 136.5,420.8 136.6,420.2 136.7,419.5 136.8,419.0 136.9,418.6 137.0,418.4 137.0,418.2 137.1,418.2 137.2,418.2 137.3,418.4 137.4,418.7 137.5,419.1 137.5,419.6 137.6,420.2 137.7,420.8 137.8,421.5 137.9,422.2 137.9,423.0 138.0,423.8 138.1,424.6 138.2,425.4 138.3,426.1 138.4,426.8 138.4,427.4 138.5,428.0 138.6,428.5 138.7,428.9 138.8,429.1 138.9,429.3 138.9,429.4 139.0,429.3 139.1,429.2 139.2,429.0 139.3,428.7 139.4,428.3 139.4,427.8 139.5,427.2 139.6,426.6 139.7,426.0 139.8,425.3 139.8,424.6 139.9,423.9 140.0,423.2 140.1,422.5 140.2,421.8 140.3,421.2 140.3,420.7 140.4,420.2 140.5,419.8 140.6,419.5 140.7,419.2 140.8,419.1 140.8,419.0 140.9,419.0 141.0,419.2 141.1,419.4 141.2,419.6 141.2,420.0 141.3,420.3 141.4,420.8 141.5,421.3 141.6,421.8 141.7,422.3 141.7,422.9 141.8,423.5 141.9,424.0 142.0,424.5 142.1,425.0 142.2,425.4 142.2,425.8 142.3,426.2 142.4,426.4 142.5,426.6 142.6,426.7 142.6,426.7 142.7,426.7 142.8,426.6 142.9,426.4 143.0,426.1 143.1,425.8 143.1,425.5 143.2,425.0 143.3,424.6 143.4,424.1 143.5,423.6 143.6,423.1 143.6,422.6 143.7,422.1 143.8,421.6 143.9,421.1 144.0,420.6 144.1,420.2 144.1,419.9 144.2,419.5 144.3,419.3 144.4,419.1 144.5,419.0 144.5,418.9 144.6,418.9 144.7,418.9 144.8,419.0 144.9,419.2 145.0,419.3 145.0,419.6 145.1,419.8 145.2,420.1 145.3,420.4 145.4,420.7 145.5,421.0 145.5,421.4 145.6,421.7 145.7,422.0 145.8,422.3 145.9,422.5 145.9,422.7 146.0,422.9 146.1,423.0 146.2,423.1 146.3,423.2 146.4,423.1 146.4,423.1 146.5,423.0 146.6,422.8 146.7,422.6 146.8,422.4 146.9,422.2 146.9,421.9 147.0,421.6 147.1,421.3 147.2,421.0 147.3,420.6 147.4,420.3 147.4,420.0 147.5,419.6 147.6,419.3 147.7,419.0 147.8,418.8 147.8,418.5 147.9,418.3 148.0,418.1 148.1,418.0 148.2,417.8 148.3,417.8 148.3,417.7 148.4,417.7 148.5,417.7 148.6,417.7 148.7,417.8 148.8,417.9 148.8,418.0 148.9,418.1 149.0,418.2 149.1,418.3 149.2,418.5 149.2,418.6 149.3,418.7 149.4,418.9 149.5,419.0 149.6,419.1 149.7,419.1 149.7,419.2 149.8,419.2 149.9,419.2 150.0,419.2 150.1,419.2 150.2,419.1 150.2,419.0 150.3,418.9 150.4,418.8 150.5,418.7 150.6,418.6 150.7,418.5 150.7,418.4 150.8,418.3 150.9,418.2 151.0,418.1 151.1,418.0 151.1,417.9 151.2,417.8 151.3,417.6 151.4,417.5 151.5,417.4 151.6,417.3 151.6,417.1 151.7,417.0 151.8,416.9 151.9,416.8 152.0,416.6 152.1,416.5 152.1,416.4 152.2,416.3 152.3,416.2 152.4,416.0 152.5,415.9 152.5,415.8 152.6,415.7 152.7,415.6 152.8,415.5 152.9,415.4 153.0,415.3 153.0,415.2 153.1,415.1 153.2,415.0 153.3,414.9 153.4,414.8 153.5,414.8 153.5,414.7 153.6,414.6 153.7,414.5 153.8,414.4 153.9,414.3 153.9,414.2 154.0,414.1 154.1,414.1 154.2,414.0" stroke="#707070" stroke-width="0.8"/>
<polyline points="110.4,388.6 110.5,382.7 110.6,366.9 110.6,347.3 110.7,331.5 110.8,325.5 110.9,328.4 111.0,336.6 111.1,349.0 111.1,364.1 111.2,379.9 111.3,394.5 111.4,405.9 111.5,412.9 111.6,414.5 111.6,412.8 111.7,408.8 111.8,402.8 111.9,395.4 112.0,387.0 112.0,378.4 112.1,370.2 112.2,363.1 112.3,357.6 112.4,354.1 112.5,353.0 112.5,354.4 112.6,358.2 112.7,364.1 112.8,371.8 112.9,380.5 113.0,389.7 113.0,398.6 113.1,406.5 113.2,412.9 113.3,417.3 113.4,419.3 113.5,419.2 113.5,418.0 113.6,415.8 113.7,412.6 113.8,408.7 113.9,404.2 113.9,399.2 114.0,393.9 114.1,388.5 114.2,383.3 114.3,378.4 114.4,374.0 114.4,370.3 114.5,367.4 114.6,365.4 114.7,364.4 114.8,364.6 114.9,365.9 114.9,368.4 115.0,372.0 115.1,376.5 115.2,381.8 115.3,387.5 115.3,393.5 115.4,399.5 115.5,405.3 115.6,410.5 115.7,415.0 115.8,418.6 115.8,421.1 115.9,422.4 116.0,422.6 116.1,422.1 116.2,421.0 116.3,419.4 116.3,417.2 116.4,414.6 116.5,411.6 116.6,408.3 116.7,404.7 116.8,401.0 116.8,397.3 116.9,393.6 117.0,390.1 117.1,386.7 117.2,383.7 117.2,381.1 117.3,379.0 117.4,377.3 117.5,376.2 117.6,375.7 117.7,375.8 117.7,376.4 117.8,377.5 117.9,379.0 118.0,381.0 118.1,383.4 118.2,386.1 118.2,389.2 118.3,392.5 118.4,396.0 118.5,399.6 118.6,403.3 118.6,406.9 118.7,410.5 118.8,413.9 118.9,417.1 119.0,420.0 119.1,422.5 119.1,424.7 119.2,426.5 119.3,427.8 119.4,428.6 119.5,429.0 119.6,428.9 119.6,428.5 119.7,427.7 119.8,426.6 119.9,425.3 120.0,423.7 120.1,421.8 120.1,419.8 120.2,417.6 120.3,415.3 120.4,413.0 120.5,410.6 120.5,408.3 120.6,406.0 120.7,403.9 120.8,402.0 120.9,400.2 121.0,398.8 121.0,397.5 121.1,396.6 121.2,396.0 121.3,395.8 121.4,395.8 121.5,396.3 121.5,397.0 121.6,398.0 121.7,399.3 121.8,400.9 121.9,402.8 121.9,404.8 122.0,407.0 122.1,409.3 122.2,411.7 122.3,414.1 122.4,416.5 122.4,418.9 122.5,421.2 122.6,423.3 122.7,425.2 122.8,426.9 122.9,428.4 122.9,429.5 123.0,430.4 123.1,431.0 123.2,431.2 123.3,431.1 123.3,430.8 123.4,430.2 123.5,429.4 123.6,428.3 123.7,427.0 123.8,425.5 123.8,423.9 123.9,422.1 124.0,420.3 124.1,418.4 124.2,416.5 124.3,414.7 124.3,412.9 124.4,411.2 124.5,409.6 124.6,408.2 124.7,407.0 124.8,406.1 124.8,405.3 124.9,404.8 125.0,404.6 125.1,404.7 125.2,405.0 125.2,405.6 125.3,406.4 125.4,407.5 125.5,408.7 125.6,410.2 125.7,411.8 125.7,413.5 125.8,415.3 125.9,417.2 126.0,419.1 126.1,421.0 126.2,422.9 126.2,424.7 126.3,426.4 126.4,427.9 126.5,429.2 126.6,430.4 126.6,431.3 126.7,432.0 126.8,432.4 126.9,432.6 127.0,432.6 127.1,432.3 127.1,431.8 127.2,431.0 127.3,430.1 127.4,429.0 127.5,427.8 127.6,426.4 127.6,424.9 127.7,423.4 127.8,421.8 127.9,420.2 128.0,418.6 128.1,417.1 128.1,415.7 128.2,414.4 128.3,413.2 128.4,412.2 128.5,411.3 128.5,410.7 128.6,410.3 128.7,410.1 128.8,410.2 128.9,410.4 129.0,410.9 129.0,411.6 129.1,412.4 129.2,413.4 129.3,414.6 129.4,415.9 129.5,417.3 129.5,418.8 129.6,420.3 129.7,421.9 129.8,423.5 129.9,425.0 129.9,426.4 130.0,427.8 130.1,429.0 130.2,430.1 130.3,431.1 130.4,431.8 130.4,432.4 130.5,432.7 130.6,432.9 130.7,432.8 130.8,432.5 130.9,432.1 130.9,431.5 131.0,430.7 131.1,429.8 131.2,428.8 131.3,427.6 131.3,426.4 131.4,425.1 131.5,423.8 131.6,422.4 131.7,421.1 131.8,419.9 131.8,418.7 131.9,417.6 132.0,416.6 132.1,415.7 132.2,415.0 132.3,414.5 132.3,414.1 132.4,414.0 132.5,414.0 132.6,414.2 132.7,414.6 132.8,415.1 132.8,415.8 132.9,416.6 133.0,417.5 133.1,418.6 133.2,419.7 133.2,420.9 133.3,422.1 133.4,423.4 133.5,424.6 133.6,425.9 133.7,427.0 133.7,428.1 133.8,429.1 133.9,430.0 134.0,430.7 134.1,431.3 134.2,431.8 134.2,432.0 134.3,432.1 134.4,432.1 134.5,431.8 134.6,431.5 134.6,431.0 134.7,430.4 134.8,429.6 134.9,428.8 135.0,427.9 135.1,426.9 135.1,425.8 135.2,424.8 135.3,423.7 135.4,422.6 135.5,421.6 135.6,420.7 135.6,419.8 135.7,419.0 135.8,418.3 135.9,417.7 136.0,417.3 136.1,417.0 136.1,416.8 136.2,416.8 136.3,417.0 136.4,417.2 136.5,417.6 136.5,418.1 136.6,418.7 136.7,419.5 136.8,420.3 136.9,421.1 137.0,422.0 137.0,423.0 137.1,423.9 137.2,424.9 137.3,425.8 137.4,426.7 137.5,427.6 137.5,428.3 137.6,429.0 137.7,429.5 137.8,430.0 137.9,430.3 137.9,430.5 138.0,430.5 138.1,430.5 138.2,430.3 138.3,430.0 138.4,429.6 138.4,429.1 138.5,428.5 138.6,427.8 138.7,427.0 138.8,426.2 138.9,425.4 138.9,424.5 139.0,423.7 139.1,422.8 139.2,422.0 139.3,421.2 139.4,420.5 139.4,419.9 139.5,419.3 139.6,418.8 139.7,418.5 139.8,418.2 139.8,418.1 139.9,418.0 140.0,418.1 140.1,418.3 140.2,418.6 140.3,419.0 140.3,419.4 140.4,419.9 140.5,420.5 140.6,421.2 140.7,421.9 140.8,422.6 140.8,423.3 140.9,424.0 141.0,424.7 141.1,425.4 141.2,426.0 141.2,426.6 141.3,427.0 141.4,427.4 141.5,427.8 141.6,428.0 141.7,428.1 141.7,428.1 141.8,428.1 141.9,427.9 142.0,427.6 142.1,427.3 142.2,426.9 142.2,426.4 142.3,425.9 142.4,425.3 142.5,424.7 142.6,424.1 142.6,423.4 142.7,422.7 142.8,422.1 142.9,421.4 143.0,420.8 143.1,420.3 143.1,419.8 143.2,419.3 143.3,419.0 143.4,418.7 143.5,418.4 143.6,418.3 143.6,418.3 143.7,418.3 143.8,418.4 143.9,418.6 144.0,418.8 144.1,419.1 144.1,419.4 144.2,419.8 144.3,420.3 144.4,420.7 144.5,421.2 144.5,421.7 144.6,422.1 144.7,422.6 144.8,423.0 144.9,423.5 145.0,423.8 145.0,424.1 145.1,424.4 145.2,424.6 145.3,424.7 145.4,424.8 145.5,424.8 145.5,424.7 145.6,424.5 145.7,424.3 145.8,424.1 145.9,423.8 145.9,423.4 146.0,423.1 146.1,422.6 146.2,422.2 146.3,421.7 146.4,421.3 146.4,420.8 146.5,420.3 146.6,419.9 146.7,419.4 146.8,419.0 146.9,418.7 146.9,418.3 147.0,418.0 147.1,417.8 147.2,417.6 147.3,417.5 147.4,417.4 147.4,417.4 147.5,417.5 147.6,417.5 147.7,417.6 147.8,417.8 147.8,418.0 147.9,418.2 148.0,418.4 148.1,418.7 148.2,419.0 148.3,419.2 148.3,419.5 148.4,419.8 148.5,420.0 148.6,420.2 148.7,420.4 148.8,420.6 148.8,420.7 148.9,420.8 149.0,420.8 149.1,420.8 149.2,420.8 149.2,420.7 149.3,420.6 149.4,420.4 149.5,420.2 149.6,420.0 149.7,419.8 149.7,419.5 149.8,419.2 149.9,418.9 150.0,418.5 150.1,418.2 150.2,417.9 150.2,417.6 150.3,417.2 150.4,416.9 150.5,416.6 150.6,416.4 150.7,416.1 150.7,415.9 150.8,415.7 150.9,415.6 151.0,415.5 151.1,415.4 151.1,415.3 151.2,415.3 151.3,415.3 151.4,415.3 151.5,415.4 151.6,415.4 151.6,415.5 151.7,415.6 151.8,415.7 151.9,415.8 152.0,415.9 152.1,416.0 152.1,416.1 152.2,416.2 152.3,416.2 152.4,416.3 152.5,416.3 152.5,416.4 152.6,416.4 152.7,416.4 152.8,416.3 152.9,416.2 153.0,416.2 153.0,416.1 153.1,416.0 153.2,415.9 153.3,415.8 153.4,415.7 153.5,415.6 153.5,415.4 153.6,415.3 153.7,415.2 153.8,415.1 153.9,415.0 153.9,414.9 154.0,414.7 154.1,414.6 154.2,414.5 154.3,414.4 154.4,414.2 154.4,414.1 154.5,414.0 154.6,413.9 154.7,413.7 154.8,413.6 154.9,413.5 154.9,413.4 155.0,413.2 155.1,413.1 155.2,413.0 155.3,412.9 155.4,412.8 155.4,412.7 155.5,412.5 155.6,412.4 155.7,412.3 155.8,412.2 155.8,412.1 155.9,412.0 156.0,411.9 156.1,411.8 156.2,411.7 156.3,411.7 156.3,411.6 156.4,411.5 156.5,411.4 156.6,411.3 156.7,411.2 156.8,411.1 156.8,411.0 156.9,410.9 157.0,410.8" stroke="#e060e6" stroke-width="0.8"/>
<polyline points="110.4,404.8 110.8,405.3 111.2,405.8 111.6,406.3 112.0,406.8 112.5,407.3 112.9,407.8 113.3,408.3 113.7,408.8 114.1,409.3 114.5,409.8 114.9,410.3 115.3,410.8 115.8,411.3 116.2,411.7 116.6,412.2 117.0,412.7 117.4,413.1 117.8,413.6 118.2,414.1 118.6,414.5 119.1,414.9 119.5,415.4 119.9,415.8 120.3,416.2 120.7,416.6 121.1,417.0 121.5,417.4 121.9,417.8 122.4,418.2 122.8,418.6 123.2,418.9 123.6,419.3 124.0,419.6 124.4,420.0 124.8,420.3 125.2,420.6 125.7,420.9 126.1,421.2 126.5,421.5 126.9,421.8 127.3,422.0 127.7,422.3 128.1,422.5 128.5,422.8 129.0,423.0 129.4,423.2 129.8,423.4 130.2,423.6 130.6,423.8 131.0,423.9 131.4,424.1 131.8,424.2 132.3,424.3 132.7,424.4 133.1,424.5 133.5,424.6 133.9,424.7 134.3,424.8 134.7,424.8 135.1,424.9 135.6,424.9 136.0,424.9 136.4,424.9 136.8,424.9 137.2,424.9 137.6,424.8 138.0,424.8 138.4,424.7 138.9,424.6 139.3,424.5 139.7,424.4 140.1,424.3 140.5,424.2 140.9,424.1 141.3,423.9 141.7,423.8 142.2,423.6 142.6,423.4 143.0,423.2 143.4,423.0 143.8,422.8 144.2,422.5" stroke="#4640cc" stroke-width="1.2"/>
<polyline points="141.3,423.9 141.7,423.8 142.2,423.6 142.6,423.4 143.0,423.2 143.4,423.0 143.8,422.8 144.2,422.5 144.6,422.3 145.0,422.0 145.5,421.8 145.9,421.5 146.3,421.2 146.7,420.9 147.1,420.6 147.5,420.3 147.9,420.0 148.3,419.6 148.8,419.3 149.2,418.9 149.6,418.6 150.0,418.2 150.4,417.8 150.8,417.4 151.2,417.0 151.6,416.6 152.1,416.2 152.5,415.8 152.9,415.4 153.3,414.9 153.7,414.5 154.1,414.1 154.5,413.6 154.9,413.1 155.4,412.7 155.8,412.2 156.2,411.7 156.6,411.3 157.0,410.8 157.4,410.3 157.8,409.8 158.2,409.3 158.7,408.8 159.1,408.3 159.5,407.8 159.9,407.3 160.3,406.8 160.7,406.3 161.1,405.8 161.5,405.3 162.0,404.8 162.4,404.3 162.8,403.8 163.2,403.3 163.6,402.8 164.0,402.3 164.4,401.8 164.8,401.3 165.2,400.8 165.7,400.3 166.1,399.8 166.5,399.3 166.9,398.9 167.3,398.4 167.7,397.9 168.1,397.4 168.5,397.0 169.0,396.5 169.4,396.1 169.8,395.6 170.2,395.2 170.6,394.7 171.0,394.3 171.4,393.9 171.8,393.4 172.3,393.0 172.7,392.6 173.1,392.2 173.5,391.8 173.9,391.5 174.3,391.1 174.7,390.7 175.1,390.4 175.6,390.0 176.0,389.7 176.4,389.4 176.8,389.0 177.2,388.7 177.6,388.4 178.0,388.2 178.4,387.9 178.9,387.6 179.3,387.4 179.7,387.1 180.1,386.9 180.5,386.7 180.9,386.5 181.3,386.3 181.7,386.1 182.2,385.9 182.6,385.7 183.0,385.6 183.4,385.5 183.8,385.3 184.2,385.2 184.6,385.1" stroke="#a848bc" stroke-width="1.2"/>
<polyline points="182.6,385.7 183.0,385.6 183.4,385.5 183.8,385.3 184.2,385.2 184.6,385.1 185.0,385.0 185.5,384.9 185.9,384.9 186.3,384.8 186.7,384.8 187.1,384.8 187.5,384.8 187.9,384.8 188.3,384.8 188.8,384.8 189.2,384.8 189.6,384.9 190.0,384.9 190.4,385.0 190.8,385.1 191.2,385.2 191.6,385.3 192.1,385.5 192.5,385.6 192.9,385.7 193.3,385.9 193.7,386.1 194.1,386.3 194.5,386.5 194.9,386.7 195.4,386.9 195.8,387.1 196.2,387.4 196.6,387.6 197.0,387.9 197.4,388.2 197.8,388.4 198.2,388.7 198.7,389.0 199.1,389.4 199.5,389.7 199.9,390.0 200.3,390.4 200.7,390.7 201.1,391.1 201.5,391.5 202.0,391.8 202.4,392.2 202.8,392.6 203.2,393.0 203.6,393.4 204.0,393.9 204.4,394.3 204.8,394.7 205.3,395.2 205.7,395.6 206.1,396.1 206.5,396.5 206.9,397.0 207.3,397.4 207.7,397.9 208.1,398.4 208.6,398.9 209.0,399.3 209.4,399.8 209.8,400.3 210.2,400.8 210.6,401.3 211.0,401.8 211.4,402.3 211.9,402.8 212.3,403.3 212.7,403.8 213.1,404.3 213.5,404.8 213.9,405.3 214.3,405.8 214.7,406.3 215.1,406.8 215.6,407.3 216.0,407.8 216.4,408.3 216.8,408.8 217.2,409.3 217.6,409.8 218.0,410.3 218.4,410.8 218.9,411.3 219.3,411.7 219.7,412.2 220.1,412.7 220.5,413.1 220.9,413.6 221.3,414.1 221.7,414.5 222.2,414.9 222.6,415.4 223.0,415.8 223.4,416.2 223.8,416.6 224.2,417.0 224.6,417.4 225.0,417.8 225.5,418.2 225.9,418.6 226.3,418.9 226.7,419.3 227.1,419.6 227.5,420.0 227.9,420.3 228.3,420.6 228.8,420.9 229.2,421.2 229.6,421.5 230.0,421.8 230.4,422.0 230.8,422.3 231.2,422.5 231.6,422.8 232.1,423.0 232.5,423.2 232.9,423.4 233.3,423.6 233.7,423.8 234.1,423.9 234.5,424.1 234.9,424.2 235.4,424.3 235.8,424.4 236.2,424.5 236.6,424.6 237.0,424.7 237.4,424.8 237.8,424.8 238.2,424.9 238.7,424.9 239.1,424.9 239.5,424.9 239.9,424.9 240.3,424.9 240.7,424.8 241.1,424.8 241.5,424.7 242.0,424.6 242.4,424.5 242.8,424.4 243.2,424.3 243.6,424.2 244.0,424.1 244.4,423.9 244.8,423.8 245.3,423.6 245.7,423.4 246.1,423.2 246.5,423.0 246.9,422.8 247.3,422.5 247.7,422.3 248.1,422.0 248.6,421.8 249.0,421.5 249.4,421.2 249.8,420.9 250.2,420.6 250.6,420.3 251.0,420.0 251.4,419.6 251.9,419.3 252.3,418.9 252.7,418.6 253.1,418.2 253.5,417.8 253.9,417.4 254.3,417.0 254.7,416.6 255.2,416.2 255.6,415.8 256.0,415.4 256.4,414.9 256.8,414.5 257.2,414.1 257.6,413.6 258.0,413.1 258.5,412.7 258.9,412.2 259.3,411.7 259.7,411.3 260.1,410.8 260.5,410.3 260.9,409.8 261.3,409.3 261.8,408.8 262.2,408.3 262.6,407.8 263.0,407.3 263.4,406.8 263.8,406.3 264.2,405.8 264.6,405.3 265.1,404.8 265.5,404.3 265.9,403.8 266.3,403.3 266.7,402.8 267.1,402.3 267.5,401.8 267.9,401.3 268.3,400.8 268.8,400.3 269.2,399.8 269.6,399.3 270.0,398.9 270.4,398.4 270.8,397.9 271.2,397.4 271.6,397.0 272.1,396.5 272.5,396.1 272.9,395.6 273.3,395.2 273.7,394.7 274.1,394.3 274.5,393.9 274.9,393.4 275.4,393.0 275.8,392.6 276.2,392.2 276.6,391.8 277.0,391.5 277.4,391.1 277.8,390.7 278.2,390.4 278.7,390.0 279.1,389.7 279.5,389.4 279.9,389.0 280.3,388.7 280.7,388.4 281.1,388.2 281.5,387.9 282.0,387.6 282.4,387.4 282.8,387.1 283.2,386.9 283.6,386.7 284.0,386.5 284.4,386.3 284.8,386.1 285.3,385.9 285.7,385.7 286.1,385.6 286.5,385.5 286.9,385.3 287.3,385.2 287.7,385.1 288.1,385.0 288.6,384.9 289.0,384.9 289.4,384.8 289.8,384.8 290.2,384.8 290.6,384.8 291.0,384.8 291.4,384.8 291.9,384.8 292.3,384.8 292.7,384.9 293.1,384.9 293.5,385.0 293.9,385.1 294.3,385.2 294.7,385.3 295.2,385.5 295.6,385.6 296.0,385.7 296.4,385.9 296.8,386.1 297.2,386.3 297.6,386.5 298.0,386.7 298.5,386.9 298.9,387.1 299.3,387.4 299.7,387.6 300.1,387.9 300.5,388.2 300.9,388.4 301.3,388.7 301.8,389.0 302.2,389.4 302.6,389.7 303.0,390.0 303.4,390.4 303.8,390.7 304.2,391.1 304.6,391.5 305.1,391.8 305.5,392.2 305.9,392.6 306.3,393.0 306.7,393.4 307.1,393.9 307.5,394.3 307.9,394.7 308.4,395.2 308.8,395.6 309.2,396.1 309.6,396.5 310.0,397.0 310.4,397.4 310.8,397.9 311.2,398.4 311.7,398.9 312.1,399.3 312.5,399.8 312.9,400.3 313.3,400.8 313.7,401.3 314.1,401.8 314.5,402.3 315.0,402.8 315.4,403.3 315.8,403.8 316.2,404.3 316.6,404.8" stroke="#cc56a0" stroke-width="1.2"/>
</g>
<rect x="110.4" y="329.4" width="206.20" height="107.80" fill="none" stroke="#666666" stroke-width="1"/>
<path d="M161.95,437.2v-2.0M161.95,329.4v2.0M213.50,437.2v-2.0M213.50,329.4v2.0M265.05,437.2v-2.0M265.05,329.4v2.0M110.4,404.83h2.0M316.6,404.83h-2.0M110.4,372.46h2.0M316.6,372.46h-2.0M110.4,340.08h2.0M316.6,340.08h-2.0" stroke="#666666" stroke-width="1" fill="none"/>
<g font-family="'Liberation Serif', serif" font-size="10" fill="#222222" stroke="#222222" stroke-width="0.12">
<text x="110.40" y="449.80" text-anchor="middle">0</text>
<text x="161.95" y="449.80" text-anchor="middle">0.5</text>
<text x="213.50" y="449.80" text-anchor="middle">1</text>
<text x="265.05" y="449.80" text-anchor="middle">1.5</text>
<text x="316.60" y="449.80" text-anchor="middle">2</text>
<text x="107.80" y="440.60" text-anchor="end">-1</text>
<text x="107.80" y="408.23" text-anchor="end">0</text>
<text x="107.80" y="375.86" text-anchor="end">1</text>
<text x="107.80" y="343.48" text-anchor="end">2</text>
<text x="213.50" y="460.80" text-anchor="middle" font-size="9.8">Time/s</text>
<text transform="translate(84.40,385.10) rotate(-90)" text-anchor="middle" font-size="9.6">Angular velocity</text>
<text transform="translate(96.30,384.40) rotate(-90)" text-anchor="middle" font-size="9.6">of joint 4/(rad/s)</text>
</g>
<g font-family="'Liberation Serif', serif" font-size="7.7" fill="#222222">
<line x1="226.6" y1="343.40" x2="236.30" y2="343.40" stroke="#4640cc" stroke-width="1.3"/>
<text x="237.20" y="346.10" stroke="#222222" stroke-width="0.15">Ideal trajectory</text>
<line x1="226.6" y1="352.10" x2="236.30" y2="352.10" stroke="#707070" stroke-width="0.8"/>
<text x="237.20" y="354.80" stroke="#222222" stroke-width="0.15">Parameter 1</text>
<line x1="226.6" y1="360.80" x2="236.30" y2="360.80" stroke="#e87878" stroke-width="0.8"/>
<text x="237.20" y="363.50" stroke="#222222" stroke-width="0.15">Parameter 2</text>
<line x1="226.6" y1="369.50" x2="236.30" y2="369.50" stroke="#e060e6" stroke-width="0.8"/>
<text x="237.20" y="372.20" stroke="#222222" stroke-width="0.15">Parameter 3</text>
</g>
<clipPath id="c4"><rect x="379.6" y="329.6" width="206.20" height="107.60"/></clipPath>
<g clip-path="url(#c4)" fill="none" stroke-linejoin="round" stroke-linecap="round">
<polyline points="379.6,329.6 379.7,331.7 379.8,334.7 379.9,338.1 380.0,341.3 380.1,343.7 380.2,344.9 380.2,345.6 380.3,346.1 380.4,346.5 380.5,347.0 380.6,347.7 380.8,348.8 380.9,349.1 381.0,349.5 381.1,349.9 381.1,350.2 381.2,350.6 381.3,351.0 381.4,351.5 381.5,351.9 381.6,352.4 381.7,352.8 381.8,353.3 381.9,353.8 382.0,354.3 382.1,354.8 382.2,355.3 382.3,355.8 382.4,356.3 382.6,356.8 382.7,357.3 382.8,357.8 382.9,358.4 383.0,358.9 383.1,359.4 383.3,359.9 383.4,360.4 383.5,360.9 383.6,361.4 383.7,361.9 383.8,362.3 383.9,362.7 384.0,363.2 384.1,363.6 384.2,364.0 384.3,364.4 384.4,364.8 384.5,365.2 384.6,365.6 384.7,366.0 384.9,366.4 385.0,366.8 385.1,367.2 385.2,367.6 385.3,368.1 385.4,368.5 385.5,368.9 385.6,369.3 385.7,369.7 385.8,370.2 386.0,370.6 386.1,371.0 386.2,371.5 386.3,371.9 386.4,372.4 386.5,372.8 386.6,373.3 386.7,373.7 386.8,374.2 386.9,374.7 387.0,375.1 387.1,375.6 387.2,376.1 387.3,376.6 387.4,377.2 387.6,377.7 387.7,378.4 387.8,379.0 387.9,379.6 388.0,380.3 388.1,381.0 388.2,381.7 388.4,382.4 388.5,383.1 388.6,383.8 388.7,384.5 388.8,385.2 388.9,385.9 389.0,386.7 389.1,387.4 389.2,388.1 389.3,388.7 389.4,389.4 389.5,390.1 389.6,390.7 389.7,391.4 389.8,392.0 389.9,392.6 390.0,393.1 390.1,393.7 390.2,394.2 390.3,394.7 390.3,395.1 390.4,395.5 390.6,396.4 390.7,397.2 390.8,397.9 390.9,398.4 391.0,398.8 391.0,399.2 391.1,399.4 391.2,399.7 391.3,399.9 391.4,400.1 391.6,400.3 391.8,400.6 391.8,400.6 391.9,400.7 392.0,400.8 392.1,400.9 392.1,400.9 392.2,401.0 392.3,401.0 392.4,401.1 392.5,401.1 392.6,401.2 392.7,401.2 392.8,401.3 392.9,401.3 393.0,401.4 393.1,401.4 393.2,401.4 393.3,401.5 393.4,401.5 393.5,401.5 393.6,401.5 393.8,401.6 393.9,401.6 394.0,401.6 394.1,401.6 394.2,401.7 394.3,401.7 394.4,401.7 394.6,401.7 394.7,401.7 394.8,401.7 394.9,401.7 395.0,401.8 395.1,401.8 395.2,401.8 395.4,401.8 395.5,401.8 395.6,401.8 395.7,401.8 395.8,401.8 395.9,401.8 396.0,401.8 396.1,401.8 396.2,401.8 396.3,401.8 396.4,401.8 396.5,401.8 396.6,401.8 396.7,401.8 396.8,401.8 396.9,401.8 397.0,401.8 397.2,401.8 397.3,401.8 397.4,401.8 397.5,401.8 397.6,401.7 397.7,401.7 397.8,401.7 397.9,401.7 398.0,401.7 398.1,401.6 398.2,401.6 398.3,401.6 398.4,401.6 398.5,401.5 398.6,401.5 398.7,401.5 398.8,401.5 398.9,401.4 399.0,401.4 399.1,401.4 399.2,401.4 399.3,401.3 399.4,401.3 399.5,401.3 399.6,401.2 399.7,401.2 399.8,401.2 399.9,401.2 400.0,401.1 400.1,401.1 400.2,401.1 400.3,401.0 400.4,401.0 400.6,401.0 400.7,400.9 400.8,400.9 400.9,400.8 401.0,400.8 401.1,400.7 401.2,400.7 401.4,400.6 401.5,400.6 401.6,400.5 401.7,400.5 401.8,400.4 401.9,400.4 402.0,400.3 402.1,400.3 402.2,400.2 402.3,400.2 402.4,400.1 402.5,400.1 402.7,400.0 402.8,400.0 402.9,400.0 403.0,399.9 403.1,399.9 403.2,399.9 403.3,399.9 403.4,399.8 403.5,399.8 403.5,399.8 403.6,399.8 403.7,399.8 403.8,399.8 404.0,399.8 404.1,399.9 404.2,399.9 404.3,400.0 404.4,400.0 404.5,400.1 404.6,400.2 404.7,400.2 404.8,400.3 404.9,400.4 405.0,400.5 405.1,400.6 405.2,400.7 405.3,400.8 405.4,400.9 405.5,401.0 405.6,401.1 405.7,401.2 405.8,401.3 405.9,401.4 406.0,401.5 406.1,401.6 406.2,401.7 406.3,401.8 406.4,401.8 406.5,401.9 406.6,402.0 406.7,402.0 406.8,402.1 406.9,402.2 407.0,402.2 407.1,402.3 407.3,402.4 407.4,402.5 407.5,402.5 407.6,402.6 407.7,402.7 407.8,402.7 407.9,402.8 408.0,402.9 408.2,402.9 408.3,403.0 408.4,403.1 408.5,403.1 408.6,403.2 408.7,403.2 408.8,403.2 408.9,403.3 409.0,403.3 409.1,403.3 409.2,403.3 409.3,403.4 409.4,403.4 409.5,403.4 409.6,403.3 409.7,403.3 409.8,403.2 409.9,403.2 410.0,403.1 410.1,403.0 410.2,402.9 410.3,402.8 410.4,402.7 410.5,402.6 410.6,402.4 410.6,402.3 410.7,402.2 410.8,402.1 410.9,401.9 411.0,401.8 411.1,401.7 411.3,401.6 411.4,401.4 411.6,401.3 411.6,401.3 411.7,401.2 411.8,401.2 411.9,401.1 412.0,401.1 412.1,401.0 412.2,400.9 412.3,400.9 412.5,400.8 412.6,400.8 412.7,400.7 412.8,400.6 412.9,400.6 413.1,400.5 413.2,400.5 413.3,400.4 413.4,400.3 413.6,400.3 413.7,400.2 413.8,400.2 413.9,400.1 414.1,400.1 414.2,400.0 414.3,399.9 414.4,399.9 414.5,399.8 414.7,399.8 414.8,399.7 414.9,399.7 415.0,399.6 415.1,399.6 415.2,399.6 415.3,399.5 415.3,399.5 415.4,399.4 415.5,399.4 415.6,399.4 415.6,399.3 415.7,399.3" stroke="#e87878" stroke-width="0.8"/>
<polyline points="379.6,386.7 379.8,386.9 380.0,387.1 380.2,387.3 380.4,387.5 380.6,387.7 380.8,387.9 381.0,388.1 381.2,388.3 381.5,388.5 381.7,388.6 381.9,388.8 382.1,389.0 382.3,389.2 382.5,389.4 382.7,389.6 382.9,389.8 383.1,390.0 383.3,390.2 383.5,390.4 383.7,390.6 383.9,390.8 384.1,391.0 384.3,391.1 384.5,391.3 384.8,391.5 385.0,391.7 385.2,391.9 385.4,392.1 385.6,392.3 385.8,392.4 386.0,392.6 386.2,392.8 386.4,393.0 386.6,393.2 386.8,393.4 387.0,393.5 387.2,393.7 387.4,393.9 387.6,394.1 387.8,394.2 388.1,394.4 388.3,394.6 388.5,394.7 388.7,394.9 388.9,395.1 389.1,395.2 389.3,395.4 389.5,395.6 389.7,395.7 389.9,395.9 390.1,396.0 390.3,396.2 390.5,396.4 390.7,396.5 390.9,396.7 391.1,396.8 391.4,397.0 391.6,397.1 391.8,397.3 392.0,397.4 392.2,397.5 392.4,397.7 392.6,397.8 392.8,398.0 393.0,398.1 393.2,398.2 393.4,398.4 393.6,398.5 393.8,398.6 394.0,398.7 394.2,398.9 394.4,399.0 394.7,399.1 394.9,399.2 395.1,399.4 395.3,399.5 395.5,399.6 395.7,399.7 395.9,399.8 396.1,399.9 396.3,400.0 396.5,400.1 396.7,400.2 396.9,400.3 397.1,400.4 397.3,400.5 397.5,400.6 397.7,400.7 398.0,400.8 398.2,400.9 398.4,400.9 398.6,401.0 398.8,401.1 399.0,401.2 399.2,401.2 399.4,401.3 399.6,401.4 399.8,401.5 400.0,401.5 400.2,401.6 400.4,401.6 400.6,401.7 400.8,401.7 401.0,401.8 401.3,401.9 401.5,401.9 401.7,401.9 401.9,402.0 402.1,402.0 402.3,402.1 402.5,402.1 402.7,402.1 402.9,402.2 403.1,402.2 403.3,402.2 403.5,402.2 403.7,402.3 403.9,402.3 404.1,402.3 404.3,402.3 404.6,402.3 404.8,402.3 405.0,402.3 405.2,402.3 405.4,402.3 405.6,402.3 405.8,402.3 406.0,402.3 406.2,402.3 406.4,402.3 406.6,402.3 406.8,402.3 407.0,402.3 407.2,402.2 407.4,402.2 407.6,402.2 407.8,402.2 408.1,402.1 408.3,402.1 408.5,402.1 408.7,402.0 408.9,402.0 409.1,401.9 409.3,401.9 409.5,401.9 409.7,401.8 409.9,401.7 410.1,401.7 410.3,401.6 410.5,401.6 410.7,401.5 410.9,401.5 411.1,401.4 411.4,401.3 411.6,401.2 411.8,401.2 412.0,401.1 412.2,401.0 412.4,400.9 412.6,400.9 412.8,400.8 413.0,400.7 413.2,400.6 413.4,400.5 413.6,400.4 413.8,400.3 414.0,400.2 414.2,400.1 414.4,400.0 414.7,399.9 414.9,399.8 415.1,399.7 415.3,399.6 415.5,399.5 415.7,399.4 415.9,399.2 416.1,399.1 416.3,399.0 416.5,398.9 416.7,398.7 416.9,398.6 417.1,398.5 417.3,398.4 417.5,398.2 417.7,398.1 418.0,398.0 418.2,397.8 418.4,397.7 418.6,397.5 418.8,397.4 419.0,397.3 419.2,397.1 419.4,397.0 419.6,396.8 419.8,396.7 420.0,396.5 420.2,396.4 420.4,396.2 420.6,396.0 420.8,395.9" stroke="#4640cc" stroke-width="1.2"/>
<polyline points="379.6,329.6 379.7,333.9 379.8,340.1 379.9,346.0 380.0,348.8 380.1,346.7 380.2,341.3 380.3,335.9 380.4,333.6 380.5,335.9 380.5,340.8 380.6,346.6 380.9,351.3 381.0,351.8 381.1,352.4 381.1,352.8 381.2,353.3 381.3,353.8 381.4,354.2 381.5,354.6 381.6,355.1 381.7,355.5 381.8,355.9 381.9,356.2 382.0,356.6 382.1,357.0 382.2,357.4 382.3,357.8 382.4,358.1 382.5,358.5 382.7,358.9 382.8,359.3 382.9,359.7 383.0,360.1 383.1,360.5 383.2,360.9 383.4,361.3 383.5,361.8 383.6,362.2 383.7,362.7 383.8,363.1 383.9,363.5 384.0,363.8 384.1,364.2 384.2,364.6 384.3,365.0 384.4,365.4 384.5,365.8 384.6,366.2 384.7,366.6 384.8,367.0 384.9,367.4 385.1,367.8 385.2,368.2 385.3,368.6 385.4,369.1 385.5,369.5 385.6,369.9 385.7,370.3 385.8,370.8 385.9,371.2 386.0,371.6 386.2,372.1 386.3,372.5 386.4,373.0 386.5,373.5 386.6,373.9 386.7,374.4 386.8,374.9 386.9,375.4 387.0,375.8 387.1,376.3 387.2,376.8 387.3,377.3 387.4,377.9 387.5,378.4 387.7,379.0 387.8,379.6 387.9,380.2 388.0,380.9 388.1,381.5 388.2,382.2 388.3,382.9 388.4,383.5 388.5,384.2 388.7,384.9 388.8,385.6 388.9,386.3 389.0,387.0 389.1,387.7 389.2,388.4 389.3,389.1 389.4,389.8 389.5,390.4 389.6,391.1 389.7,391.7 389.8,392.3 389.9,392.9 390.0,393.5 390.1,394.1 390.2,394.6 390.3,395.2 390.4,395.6 390.5,396.1 390.6,396.5 390.7,396.9 390.7,397.3 390.9,397.9 391.0,398.4 391.1,398.8 391.2,399.2 391.3,399.4 391.4,399.6 391.5,399.7 391.6,399.8 391.6,399.9 391.7,399.9 391.8,399.9 391.9,399.9 392.0,399.9 392.1,399.9 392.2,399.9 392.3,400.0 392.5,400.1 392.6,400.1 392.6,400.2 392.7,400.2 392.8,400.3 392.9,400.3 393.0,400.4 393.1,400.4 393.2,400.5 393.3,400.5 393.4,400.5 393.5,400.6 393.6,400.6 393.7,400.6 393.8,400.7 393.9,400.7 394.0,400.7 394.1,400.8 394.2,400.8 394.3,400.8 394.4,400.8 394.5,400.9 394.6,400.9 394.7,400.9 394.9,400.9 395.0,401.0 395.1,401.0 395.2,401.0 395.3,401.0 395.4,401.0 395.5,401.0 395.6,401.0 395.8,401.1 395.9,401.1 396.0,401.1 396.1,401.1 396.2,401.1 396.3,401.1 396.4,401.1 396.5,401.1 396.6,401.1 396.7,401.1 396.8,401.1 396.9,401.1 397.0,401.1 397.1,401.1 397.2,401.1 397.3,401.0 397.4,401.0 397.5,401.0 397.6,401.0 397.7,401.0 397.8,401.0 397.9,401.0 398.1,401.0 398.2,400.9 398.3,400.9 398.4,400.9 398.5,400.9 398.6,400.9 398.7,400.9 398.8,400.8 398.9,400.8 399.0,400.8 399.1,400.8 399.2,400.8 399.3,400.7 399.4,400.7 399.5,400.7 399.6,400.7 399.7,400.7 399.8,400.6 399.9,400.6 400.0,400.6 400.1,400.6 400.2,400.6 400.3,400.6 400.4,400.5 400.6,400.5 400.7,400.5 400.8,400.4 400.9,400.4 401.0,400.4 401.1,400.3 401.2,400.3 401.4,400.3 401.5,400.2 401.6,400.2 401.7,400.2 401.8,400.1 401.9,400.1 402.0,400.0 402.1,400.0 402.2,400.0 402.3,399.9 402.4,399.9 402.5,399.9 402.7,399.9 402.8,399.8 402.9,399.8 403.0,399.8 403.1,399.8 403.2,399.8 403.3,399.8 403.4,399.8 403.5,399.8 403.5,399.8 403.6,399.8 403.7,399.8 403.8,399.8 404.0,399.9 404.1,399.9 404.2,400.0 404.3,400.0 404.4,400.1 404.5,400.2 404.6,400.3 404.7,400.4 404.8,400.5 404.9,400.6 405.0,400.8 405.1,400.9 405.2,401.0 405.3,401.1 405.4,401.2 405.5,401.4 405.6,401.5 405.7,401.6 405.8,401.7 405.9,401.9 406.0,402.0 406.1,402.1 406.2,402.2 406.3,402.3 406.4,402.3 406.5,402.4 406.6,402.5 406.7,402.6 406.8,402.7 406.9,402.8 407.1,402.9 407.2,403.0 407.3,403.1 407.4,403.1 407.5,403.2 407.6,403.3 407.7,403.4 407.8,403.5 407.9,403.5 408.0,403.6 408.1,403.7 408.2,403.7 408.3,403.8 408.4,403.8 408.6,403.8 408.7,403.8 408.8,403.9 408.9,403.9 409.0,403.9 409.1,403.8 409.2,403.8 409.3,403.8 409.4,403.7 409.5,403.7 409.6,403.6 409.7,403.6 409.8,403.5 409.8,403.4 409.9,403.3 410.0,403.2 410.1,403.1 410.2,403.1 410.3,403.0 410.4,402.9 410.5,402.7 410.6,402.6 410.7,402.5 410.8,402.4 410.9,402.3 411.1,402.2 411.2,402.1 411.3,402.0 411.4,401.9 411.6,401.8 411.6,401.8 411.7,401.7 411.8,401.7 411.9,401.6 412.0,401.5 412.2,401.5 412.3,401.4 412.4,401.3 412.5,401.2 412.6,401.2 412.7,401.1 412.9,401.0 413.0,400.9 413.1,400.9 413.2,400.8 413.3,400.7 413.5,400.6 413.6,400.6 413.7,400.5 413.8,400.4 414.0,400.3 414.1,400.3 414.2,400.2 414.3,400.1 414.4,400.1 414.6,400.0 414.7,399.9 414.8,399.9 414.9,399.8 415.0,399.7 415.1,399.7 415.2,399.6 415.3,399.6 415.3,399.5 415.4,399.5 415.5,399.4 415.6,399.4 415.6,399.3 415.7,399.3 415.9,399.2 416.3,399.0 416.7,398.7 417.1,398.5 417.5,398.2 418.0,398.0 418.4,397.7 418.8,397.4 419.2,397.1 419.6,396.8 420.0,396.5 420.4,396.2 420.8,395.9 421.3,395.6 421.7,395.2 422.1,394.9 422.5,394.6 422.9,394.2 423.3,393.9 423.7,393.5 424.1,393.2 424.6,392.8 425.0,392.4 425.4,392.1 425.8,391.7 426.2,391.3 426.6,391.0 427.0,390.6 427.4,390.2 427.9,389.8 428.3,389.4 428.7,389.0 429.1,388.6 429.5,388.3 429.9,387.9 430.3,387.5 430.7,387.1 431.1,386.7 431.6,386.3 432.0,385.9 432.4,385.5 432.8,385.1 433.2,384.7 433.6,384.3 434.0,383.9 434.4,383.6 434.9,383.2 435.3,382.8 435.7,382.4 436.1,382.0 436.5,381.7 436.9,381.3 437.3,380.9 437.7,380.6 438.2,380.2 438.6,379.8 439.0,379.5 439.4,379.1 439.8,378.8 440.2,378.5 440.6,378.1 441.0,377.8 441.5,377.5 441.9,377.2 442.3,376.9 442.7,376.6 443.1,376.3 443.5,376.0 443.9,375.7 444.3,375.4 444.8,375.1 445.2,374.9 445.6,374.6 446.0,374.4 446.4,374.1 446.8,373.9 447.2,373.7 447.6,373.5 448.1,373.3 448.5,373.1 448.9,372.9 449.3,372.7 449.7,372.5 450.1,372.4 450.5,372.2 450.9,372.1 451.4,371.9 451.8,371.8 452.2,371.7 452.6,371.6 453.0,371.5 453.4,371.4 453.8,371.3 454.2,371.2 454.7,371.2 455.1,371.1 455.5,371.1 455.9,371.1 456.3,371.0 456.7,371.0 457.1,371.0 457.5,371.0 458.0,371.1 458.4,371.1 458.8,371.1 459.2,371.2 459.6,371.2 460.0,371.3 460.4,371.4 460.8,371.5 461.3,371.6 461.7,371.7 462.1,371.8 462.5,371.9 462.9,372.1 463.3,372.2 463.7,372.4 464.1,372.5 464.6,372.7 465.0,372.9 465.4,373.1 465.8,373.3 466.2,373.5 466.6,373.7 467.0,373.9 467.4,374.1 467.9,374.4 468.3,374.6 468.7,374.9 469.1,375.1 469.5,375.4 469.9,375.7 470.3,376.0 470.7,376.3 471.2,376.6 471.6,376.9 472.0,377.2 472.4,377.5 472.8,377.8 473.2,378.1 473.6,378.5 474.0,378.8 474.5,379.1 474.9,379.5 475.3,379.8 475.7,380.2 476.1,380.6 476.5,380.9 476.9,381.3 477.3,381.7 477.8,382.0 478.2,382.4 478.6,382.8 479.0,383.2 479.4,383.6 479.8,383.9 480.2,384.3 480.6,384.7 481.1,385.1 481.5,385.5 481.9,385.9 482.3,386.3 482.7,386.7 483.1,387.1 483.5,387.5 483.9,387.9 484.3,388.3 484.8,388.6 485.2,389.0 485.6,389.4 486.0,389.8 486.4,390.2 486.8,390.6 487.2,391.0 487.6,391.3 488.1,391.7 488.5,392.1 488.9,392.4 489.3,392.8 489.7,393.2 490.1,393.5 490.5,393.9 490.9,394.2 491.4,394.6 491.8,394.9 492.2,395.2 492.6,395.6 493.0,395.9 493.4,396.2 493.8,396.5 494.2,396.8 494.7,397.1 495.1,397.4 495.5,397.7 495.9,398.0 496.3,398.2 496.7,398.5 497.1,398.7 497.5,399.0 498.0,399.2 498.4,399.5 498.8,399.7 499.2,399.9 499.6,400.1 500.0,400.3 500.4,400.5 500.8,400.7 501.3,400.9 501.7,401.0 502.1,401.2 502.5,401.3 502.9,401.5 503.3,401.6 503.7,401.7 504.1,401.8 504.6,401.9 505.0,402.0 505.4,402.1 505.8,402.1 506.2,402.2 506.6,402.2 507.0,402.3 507.4,402.3 507.9,402.3 508.3,402.3 508.7,402.3 509.1,402.3 509.5,402.3 509.9,402.3 510.3,402.2 510.7,402.2 511.2,402.1 511.6,402.1 512.0,402.0 512.4,401.9 512.8,401.8 513.2,401.7 513.6,401.6 514.0,401.5 514.5,401.3 514.9,401.2 515.3,401.0 515.7,400.9 516.1,400.7 516.5,400.5 516.9,400.3 517.3,400.1 517.8,399.9 518.2,399.7 518.6,399.5 519.0,399.2 519.4,399.0 519.8,398.7 520.2,398.5 520.6,398.2 521.1,398.0 521.5,397.7 521.9,397.4 522.3,397.1 522.7,396.8 523.1,396.5 523.5,396.2 523.9,395.9 524.4,395.6 524.8,395.2 525.2,394.9 525.6,394.6 526.0,394.2 526.4,393.9 526.8,393.5 527.2,393.2 527.7,392.8 528.1,392.4 528.5,392.1 528.9,391.7 529.3,391.3 529.7,391.0 530.1,390.6 530.5,390.2 531.0,389.8 531.4,389.4 531.8,389.0 532.2,388.6 532.6,388.3 533.0,387.9 533.4,387.5 533.8,387.1 534.2,386.7 534.7,386.3 535.1,385.9 535.5,385.5 535.9,385.1 536.3,384.7 536.7,384.3 537.1,383.9 537.5,383.6 538.0,383.2 538.4,382.8 538.8,382.4 539.2,382.0 539.6,381.7 540.0,381.3 540.4,380.9 540.8,380.6 541.3,380.2 541.7,379.8 542.1,379.5 542.5,379.1 542.9,378.8 543.3,378.5 543.7,378.1 544.1,377.8 544.6,377.5 545.0,377.2 545.4,376.9 545.8,376.6 546.2,376.3 546.6,376.0 547.0,375.7 547.4,375.4 547.9,375.1 548.3,374.9 548.7,374.6 549.1,374.4 549.5,374.1 549.9,373.9 550.3,373.7 550.7,373.5 551.2,373.3 551.6,373.1 552.0,372.9 552.4,372.7 552.8,372.5 553.2,372.4 553.6,372.2 554.0,372.1 554.5,371.9 554.9,371.8 555.3,371.7 555.7,371.6 556.1,371.5 556.5,371.4 556.9,371.3 557.3,371.2 557.8,371.2 558.2,371.1 558.6,371.1 559.0,371.1 559.4,371.0 559.8,371.0 560.2,371.0 560.6,371.0 561.1,371.1 561.5,371.1 561.9,371.1 562.3,371.2 562.7,371.2 563.1,371.3 563.5,371.4 563.9,371.5 564.4,371.6 564.8,371.7 565.2,371.8 565.6,371.9 566.0,372.1 566.4,372.2 566.8,372.4 567.2,372.5 567.7,372.7 568.1,372.9 568.5,373.1 568.9,373.3 569.3,373.5 569.7,373.7 570.1,373.9 570.5,374.1 571.0,374.4 571.4,374.6 571.8,374.9 572.2,375.1 572.6,375.4 573.0,375.7 573.4,376.0 573.8,376.3 574.3,376.6 574.7,376.9 575.1,377.2 575.5,377.5 575.9,377.8 576.3,378.1 576.7,378.5 577.1,378.8 577.6,379.1 578.0,379.5 578.4,379.8 578.8,380.2 579.2,380.6 579.6,380.9 580.0,381.3 580.4,381.7 580.9,382.0 581.3,382.4 581.7,382.8 582.1,383.2 582.5,383.6 582.9,383.9 583.3,384.3 583.7,384.7 584.2,385.1 584.6,385.5 585.0,385.9 585.4,386.3 585.8,386.7" stroke="#d858d8" stroke-width="1.3"/>
</g>
<rect x="379.6" y="329.6" width="206.20" height="107.60" fill="none" stroke="#666666" stroke-width="1"/>
<path d="M431.15,437.2v-2.0M431.15,329.6v2.0M482.70,437.2v-2.0M482.70,329.6v2.0M534.25,437.2v-2.0M534.25,329.6v2.0M379.6,411.94h2.0M585.8,411.94h-2.0M379.6,386.68h2.0M585.8,386.68h-2.0M379.6,361.43h2.0M585.8,361.43h-2.0M379.6,336.17h2.0M585.8,336.17h-2.0" stroke="#666666" stroke-width="1" fill="none"/>
<g font-family="'Liberation Serif', serif" font-size="10" fill="#222222" stroke="#222222" stroke-width="0.12">
<text x="379.60" y="449.80" text-anchor="middle">0</text>
<text x="431.15" y="449.80" text-anchor="middle">0.5</text>
<text x="482.70" y="449.80" text-anchor="middle">1</text>
<text x="534.25" y="449.80" text-anchor="middle">1.5</text>
<text x="585.80" y="449.80" text-anchor="middle">2</text>
<text x="377.00" y="440.60" text-anchor="end">-2</text>
<text x="377.00" y="415.34" text-anchor="end">-1</text>
<text x="377.00" y="390.08" text-anchor="end">0</text>
<text x="377.00" y="364.83" text-anchor="end">1</text>
<text x="377.00" y="339.57" text-anchor="end">2</text>
<text x="482.70" y="460.80" text-anchor="middle" font-size="9.8">Time/s</text>
<text transform="translate(351.50,385.20) rotate(-90)" text-anchor="middle" font-size="11.4">Angular velocity</text>
<text transform="translate(364.70,384.50) rotate(-90)" text-anchor="middle" font-size="11.4">of joint 5/(rad/s)</text>
</g>
<g font-family="'Liberation Serif', serif" font-size="7.7" fill="#222222">
<line x1="478.4" y1="338.00" x2="488.10" y2="338.00" stroke="#4640cc" stroke-width="1.3"/>
<text x="489.00" y="340.70" stroke="#222222" stroke-width="0.15">Ideal trajectory</text>
<line x1="478.4" y1="346.55" x2="488.10" y2="346.55" stroke="#707070" stroke-width="0.8"/>
<text x="489.00" y="349.25" stroke="#222222" stroke-width="0.15">Parameter 1</text>
<line x1="478.4" y1="355.10" x2="488.10" y2="355.10" stroke="#e87878" stroke-width="0.8"/>
<text x="489.00" y="357.80" stroke="#222222" stroke-width="0.15">Parameter 2</text>
<line x1="478.4" y1="363.65" x2="488.10" y2="363.65" stroke="#e060e6" stroke-width="0.8"/>
<text x="489.00" y="366.35" stroke="#222222" stroke-width="0.15">Parameter 3</text>
</g>
<clipPath id="c5"><rect x="243.8" y="481.6" width="206.20" height="108.40"/></clipPath>
<g clip-path="url(#c5)" fill="none" stroke-linejoin="round" stroke-linecap="round">
<polyline points="243.8,553.9 244.0,554.0 244.2,554.1 244.4,554.3 244.6,554.4 244.8,554.6 245.0,554.7 245.2,554.9 245.4,555.0 245.7,555.1 245.9,555.3 246.1,555.4 246.3,555.5 246.5,555.7 246.7,555.8 246.9,556.0 247.1,556.1 247.3,556.2 247.5,556.4 247.7,556.5 247.9,556.7 248.1,556.8 248.3,556.9 248.5,557.1 248.7,557.2 249.0,557.3 249.2,557.5 249.4,557.6 249.6,557.7 249.8,557.9 250.0,558.0 250.2,558.1 250.4,558.3 250.6,558.4 250.8,558.5 251.0,558.6 251.2,558.8 251.4,558.9 251.6,559.0 251.8,559.1 252.0,559.3 252.3,559.4 252.5,559.5 252.7,559.6 252.9,559.7 253.1,559.9 253.3,560.0 253.5,560.1 253.7,560.2 253.9,560.3 254.1,560.5 254.3,560.6 254.5,560.7 254.7,560.8 254.9,560.9 255.1,561.0 255.3,561.1 255.6,561.2 255.8,561.3 256.0,561.4 256.2,561.5 256.4,561.6 256.6,561.7 256.8,561.8 257.0,561.9 257.2,562.0 257.4,562.1 257.6,562.2 257.8,562.3 258.0,562.4 258.2,562.5 258.4,562.6 258.6,562.7 258.9,562.8 259.1,562.8 259.3,562.9 259.5,563.0 259.7,563.1 259.9,563.2 260.1,563.2 260.3,563.3 260.5,563.4 260.7,563.5 260.9,563.5 261.1,563.6 261.3,563.7 261.5,563.7 261.7,563.8 261.9,563.9 262.2,563.9 262.4,564.0 262.6,564.1 262.8,564.1 263.0,564.2 263.2,564.2 263.4,564.3 263.6,564.3 263.8,564.4 264.0,564.4 264.2,564.5 264.4,564.5 264.6,564.6 264.8,564.6 265.0,564.6 265.2,564.7 265.5,564.7 265.7,564.8 265.9,564.8 266.1,564.8 266.3,564.8 266.5,564.9 266.7,564.9 266.9,564.9 267.1,564.9 267.3,565.0 267.5,565.0 267.7,565.0 267.9,565.0 268.1,565.0 268.3,565.0 268.5,565.0 268.8,565.1 269.0,565.1 269.2,565.1 269.4,565.1 269.6,565.1 269.8,565.1 270.0,565.1 270.2,565.1 270.4,565.1 270.6,565.0 270.8,565.0 271.0,565.0 271.2,565.0 271.4,565.0 271.6,565.0 271.8,565.0 272.0,564.9 272.3,564.9 272.5,564.9 272.7,564.9 272.9,564.8 273.1,564.8 273.3,564.8 273.5,564.8 273.7,564.7 273.9,564.7 274.1,564.6 274.3,564.6 274.5,564.6 274.7,564.5" stroke="#4640cc" stroke-width="1.2"/>
<polyline points="243.8,481.6 243.8,489.7 243.9,496.0 243.9,500.9 244.0,504.8 244.0,507.9 244.0,510.4 244.1,512.3 244.1,514.0 244.2,515.3 244.2,516.4 244.3,517.4 244.3,518.2 244.3,519.0 244.4,519.6 244.4,520.2 244.5,520.8 244.5,521.3 244.5,521.7 244.6,522.2 244.6,522.6 244.7,523.1 244.7,523.5 244.7,523.9 244.8,524.3 244.8,524.7 244.9,525.0 244.9,525.4 245.0,525.8 245.0,526.1 245.0,526.5 245.1,526.8 245.1,527.2 245.2,527.5 245.2,527.9 245.2,528.2 245.3,528.5 245.3,528.9 245.4,529.2 245.4,529.5 245.4,529.8 245.5,530.1 245.5,530.5 245.6,530.8 245.6,531.1 245.7,531.4 245.7,531.7 245.7,532.0 245.8,532.2 245.8,532.5 245.9,532.8 246.1,534.2 246.3,535.5 246.5,536.8 246.7,538.0 246.9,539.1 247.1,540.2 247.3,541.2 247.5,542.2 247.7,543.1 247.9,544.0 248.1,544.8 248.3,545.6 248.5,546.4 248.7,547.1 249.0,547.8 249.2,548.5 249.4,549.1 249.6,549.7 249.8,550.3 250.0,550.8 250.2,551.4 250.4,551.9 250.6,552.3 250.8,552.8 251.0,553.3 251.2,553.7 251.4,554.1 251.6,554.5 251.8,554.9 252.0,555.2 252.3,555.6 252.5,555.9 252.7,556.2 252.9,556.5 253.1,556.8 253.3,557.1 253.5,557.4 253.7,557.7 253.9,557.9 254.1,558.2 254.3,558.4 254.5,558.6 254.7,558.9 254.9,559.1 255.1,559.3 255.3,559.5 255.6,559.7 255.8,559.9 256.0,560.1 256.2,560.2 256.4,560.4 256.6,560.6 256.8,560.8 257.0,560.9 257.2,561.1 257.4,561.2 257.6,561.4 257.8,561.5 258.0,561.6 258.2,561.8 258.4,561.9 258.6,562.0 258.9,562.1 259.1,562.3 259.3,562.4 259.5,562.5 259.7,562.6 259.9,562.7 260.1,562.8 260.3,562.9 260.5,563.0 260.7,563.1 260.9,563.2 261.1,563.3 261.3,563.4 261.5,563.5 261.7,563.5 261.9,563.6 262.2,563.7 262.4,563.8 262.6,563.8 262.8,563.9 263.0,564.0 263.2,564.0 263.4,564.1 263.6,564.2 263.8,564.2 264.0,564.3 264.2,564.3 264.4,564.4 264.6,564.4 264.8,564.5 265.0,564.5 265.2,564.6 265.5,564.6 265.7,564.7 265.9,564.7 266.1,564.7 266.3,564.8 266.5,564.8 266.7,564.8 266.9,564.9 267.1,564.9 267.3,564.9 267.5,564.9 267.7,564.9 267.9,565.0 268.1,565.0 268.3,565.0 268.5,565.0 268.8,565.0 269.0,565.0 269.2,565.0 269.4,565.0 269.6,565.0 269.8,565.0 270.0,565.0 270.2,565.0 270.4,565.0 270.6,565.0 270.8,565.0 271.0,565.0 271.2,565.0 271.4,565.0 271.6,565.0 271.8,564.9 272.0,564.9 272.3,564.9 272.5,564.9 272.7,564.9 272.9,564.8 273.1,564.8 273.3,564.8 273.5,564.7 273.7,564.7 273.9,564.7 274.1,564.6 274.3,564.6 274.5,564.6 274.7,564.5 275.1,564.4 275.6,564.3 276.0,564.2 276.4,564.1 276.8,564.0 277.2,563.9 277.6,563.7 278.0,563.6 278.4,563.5 278.9,563.3 279.3,563.2 279.7,563.0 280.1,562.8 280.5,562.7 280.9,562.5 281.3,562.3 281.7,562.1 282.2,561.9 282.6,561.7 283.0,561.5 283.4,561.3 283.8,561.1 284.2,560.9 284.6,560.7 285.0,560.5 285.5,560.2 285.9,560.0 286.3,559.7 286.7,559.5 287.1,559.3 287.5,559.0 287.9,558.8 288.3,558.5 288.8,558.3 289.2,558.0 289.6,557.7 290.0,557.5 290.4,557.2 290.8,556.9 291.2,556.7 291.6,556.4 292.1,556.1 292.5,555.8 292.9,555.5 293.3,555.3 293.7,555.0 294.1,554.7 294.5,554.4 294.9,554.1 295.4,553.9 295.8,553.6 296.2,553.3 296.6,553.0 297.0,552.7 297.4,552.5 297.8,552.2 298.2,551.9 298.6,551.6 299.1,551.4 299.5,551.1 299.9,550.8 300.3,550.5 300.7,550.3 301.1,550.0 301.5,549.7 301.9,549.5 302.4,549.2 302.8,549.0 303.2,548.7 303.6,548.5 304.0,548.2 304.4,548.0 304.8,547.7 305.2,547.5 305.7,547.3 306.1,547.1 306.5,546.8 306.9,546.6 307.3,546.4 307.7,546.2 308.1,546.0 308.5,545.8 309.0,545.6 309.4,545.4 309.8,545.2 310.2,545.1 310.6,544.9 311.0,544.7 311.4,544.6 311.8,544.4 312.3,544.3 312.7,544.1 313.1,544.0 313.5,543.9 313.9,543.7 314.3,543.6 314.7,543.5 315.1,543.4 315.6,543.3 316.0,543.2 316.4,543.1 316.8,543.1 317.2,543.0 317.6,542.9 318.0,542.9 318.4,542.8 318.9,542.8 319.3,542.7 319.7,542.7 320.1,542.7 320.5,542.7 320.9,542.7 321.3,542.7 321.7,542.7 322.2,542.7 322.6,542.7 323.0,542.7 323.4,542.8 323.8,542.8 324.2,542.9 324.6,542.9 325.0,543.0 325.5,543.1 325.9,543.1 326.3,543.2 326.7,543.3 327.1,543.4 327.5,543.5 327.9,543.6 328.3,543.7 328.8,543.9 329.2,544.0 329.6,544.1 330.0,544.3 330.4,544.4 330.8,544.6 331.2,544.7 331.6,544.9 332.1,545.1 332.5,545.2 332.9,545.4 333.3,545.6 333.7,545.8 334.1,546.0 334.5,546.2 334.9,546.4 335.4,546.6 335.8,546.8 336.2,547.1 336.6,547.3 337.0,547.5 337.4,547.7 337.8,548.0 338.2,548.2 338.7,548.5 339.1,548.7 339.5,549.0 339.9,549.2 340.3,549.5 340.7,549.7 341.1,550.0 341.5,550.3 342.0,550.5 342.4,550.8 342.8,551.1 343.2,551.4 343.6,551.6 344.0,551.9 344.4,552.2 344.8,552.5 345.3,552.7 345.7,553.0 346.1,553.3 346.5,553.6 346.9,553.9 347.3,554.1 347.7,554.4 348.1,554.7 348.5,555.0 349.0,555.3 349.4,555.5 349.8,555.8 350.2,556.1 350.6,556.4 351.0,556.7 351.4,556.9 351.8,557.2 352.3,557.5 352.7,557.7 353.1,558.0 353.5,558.3 353.9,558.5 354.3,558.8 354.7,559.0 355.1,559.3 355.6,559.5 356.0,559.7 356.4,560.0 356.8,560.2 357.2,560.5 357.6,560.7 358.0,560.9 358.4,561.1 358.9,561.3 359.3,561.5 359.7,561.7 360.1,561.9 360.5,562.1 360.9,562.3 361.3,562.5 361.7,562.7 362.2,562.8 362.6,563.0 363.0,563.2 363.4,563.3 363.8,563.5 364.2,563.6 364.6,563.7 365.0,563.9 365.5,564.0 365.9,564.1 366.3,564.2 366.7,564.3 367.1,564.4 367.5,564.5 367.9,564.6 368.3,564.7 368.8,564.8 369.2,564.8 369.6,564.9 370.0,564.9 370.4,565.0 370.8,565.0 371.2,565.0 371.6,565.0 372.1,565.1 372.5,565.1 372.9,565.1 373.3,565.1 373.7,565.0 374.1,565.0 374.5,565.0 374.9,565.0 375.4,564.9 375.8,564.9 376.2,564.8 376.6,564.8 377.0,564.7 377.4,564.6 377.8,564.5 378.2,564.4 378.7,564.3 379.1,564.2 379.5,564.1 379.9,564.0 380.3,563.9 380.7,563.7 381.1,563.6 381.5,563.5 382.0,563.3 382.4,563.2 382.8,563.0 383.2,562.8 383.6,562.7 384.0,562.5 384.4,562.3 384.8,562.1 385.3,561.9 385.7,561.7 386.1,561.5 386.5,561.3 386.9,561.1 387.3,560.9 387.7,560.7 388.1,560.5 388.6,560.2 389.0,560.0 389.4,559.7 389.8,559.5 390.2,559.3 390.6,559.0 391.0,558.8 391.4,558.5 391.9,558.3 392.3,558.0 392.7,557.7 393.1,557.5 393.5,557.2 393.9,556.9 394.3,556.7 394.7,556.4 395.2,556.1 395.6,555.8 396.0,555.5 396.4,555.3 396.8,555.0 397.2,554.7 397.6,554.4 398.0,554.1 398.4,553.9 398.9,553.6 399.3,553.3 399.7,553.0 400.1,552.7 400.5,552.5 400.9,552.2 401.3,551.9 401.7,551.6 402.2,551.4 402.6,551.1 403.0,550.8 403.4,550.5 403.8,550.3 404.2,550.0 404.6,549.7 405.0,549.5 405.5,549.2 405.9,549.0 406.3,548.7 406.7,548.5 407.1,548.2 407.5,548.0 407.9,547.7 408.3,547.5 408.8,547.3 409.2,547.1 409.6,546.8 410.0,546.6 410.4,546.4 410.8,546.2 411.2,546.0 411.6,545.8 412.1,545.6 412.5,545.4 412.9,545.2 413.3,545.1 413.7,544.9 414.1,544.7 414.5,544.6 414.9,544.4 415.4,544.3 415.8,544.1 416.2,544.0 416.6,543.9 417.0,543.7 417.4,543.6 417.8,543.5 418.2,543.4 418.7,543.3 419.1,543.2 419.5,543.1 419.9,543.1 420.3,543.0 420.7,542.9 421.1,542.9 421.5,542.8 422.0,542.8 422.4,542.7 422.8,542.7 423.2,542.7 423.6,542.7 424.0,542.7 424.4,542.7 424.8,542.7 425.3,542.7 425.7,542.7 426.1,542.7 426.5,542.8 426.9,542.8 427.3,542.9 427.7,542.9 428.1,543.0 428.6,543.1 429.0,543.1 429.4,543.2 429.8,543.3 430.2,543.4 430.6,543.5 431.0,543.6 431.4,543.7 431.9,543.9 432.3,544.0 432.7,544.1 433.1,544.3 433.5,544.4 433.9,544.6 434.3,544.7 434.7,544.9 435.2,545.1 435.6,545.2 436.0,545.4 436.4,545.6 436.8,545.8 437.2,546.0 437.6,546.2 438.0,546.4 438.5,546.6 438.9,546.8 439.3,547.1 439.7,547.3 440.1,547.5 440.5,547.7 440.9,548.0 441.3,548.2 441.8,548.5 442.2,548.7 442.6,549.0 443.0,549.2 443.4,549.5 443.8,549.7 444.2,550.0 444.6,550.3 445.1,550.5 445.5,550.8 445.9,551.1 446.3,551.4 446.7,551.6 447.1,551.9 447.5,552.2 447.9,552.5 448.4,552.7 448.8,553.0 449.2,553.3 449.6,553.6 450.0,553.9" stroke="#d040d8" stroke-width="1.4"/>
</g>
<rect x="243.8" y="481.6" width="206.20" height="108.40" fill="none" stroke="#666666" stroke-width="1"/>
<path d="M295.35,590v-2.0M295.35,481.6v2.0M346.90,590v-2.0M346.90,481.6v2.0M398.45,590v-2.0M398.45,481.6v2.0M243.8,553.87h2.0M450,553.87h-2.0M243.8,517.73h2.0M450,517.73h-2.0" stroke="#666666" stroke-width="1" fill="none"/>
<g font-family="'Liberation Serif', serif" font-size="10" fill="#222222" stroke="#222222" stroke-width="0.12">
<text x="243.80" y="602.60" text-anchor="middle">0</text>
<text x="295.35" y="602.60" text-anchor="middle">0.5</text>
<text x="346.90" y="602.60" text-anchor="middle">1</text>
<text x="398.45" y="602.60" text-anchor="middle">1.5</text>
<text x="450.00" y="602.60" text-anchor="middle">2</text>
<text x="241.20" y="593.40" text-anchor="end">-2</text>
<text x="241.20" y="557.27" text-anchor="end">0</text>
<text x="241.20" y="521.13" text-anchor="end">2</text>
<text x="241.20" y="485.00" text-anchor="end">4</text>
<text x="346.90" y="613.60" text-anchor="middle" font-size="9.8">Time/s</text>
<text transform="translate(217.80,537.60) rotate(-90)" text-anchor="middle" font-size="9.6">Angular velocity</text>
<text transform="translate(230.20,536.90) rotate(-90)" text-anchor="middle" font-size="9.6">of joint 6/(rad/s)</text>
</g>
<g font-family="'Liberation Serif', serif" font-size="7.7" fill="#222222">
<line x1="354.4" y1="494.00" x2="364.10" y2="494.00" stroke="#4640cc" stroke-width="1.3"/>
<text x="365.00" y="496.70" stroke="#222222" stroke-width="0.15">Ideal trajectory</text>
<line x1="354.4" y1="502.70" x2="364.10" y2="502.70" stroke="#707070" stroke-width="0.8"/>
<text x="365.00" y="505.40" stroke="#222222" stroke-width="0.15">Parameter 1</text>
<line x1="354.4" y1="511.40" x2="364.10" y2="511.40" stroke="#e87878" stroke-width="0.8"/>
<text x="365.00" y="514.10" stroke="#222222" stroke-width="0.15">Parameter 2</text>
<line x1="354.4" y1="520.10" x2="364.10" y2="520.10" stroke="#e060e6" stroke-width="0.8"/>
<text x="365.00" y="522.80" stroke="#222222" stroke-width="0.15">Parameter 3</text>
</g>
<g font-family="'Liberation Serif', serif" font-size="16.9" fill="#111" stroke="#111" stroke-width="0.22">
<text x="0" y="314.4">(d) Angular velocity of joint 1</text>
<text x="242.2" y="314.4">(e) Angular velocity of joint 2</text>
<text x="484.3" y="314.4">(f) Angular velocity of joint 3</text>
<text x="0" y="638">(d) Angular velocity of joint 4</text>
<text x="242.2" y="638">(e) Angular velocity of joint 5</text>
<text x="484.3" y="638">(f) Angular velocity of joint 6</text>
</g>
</svg>
</body></html>
